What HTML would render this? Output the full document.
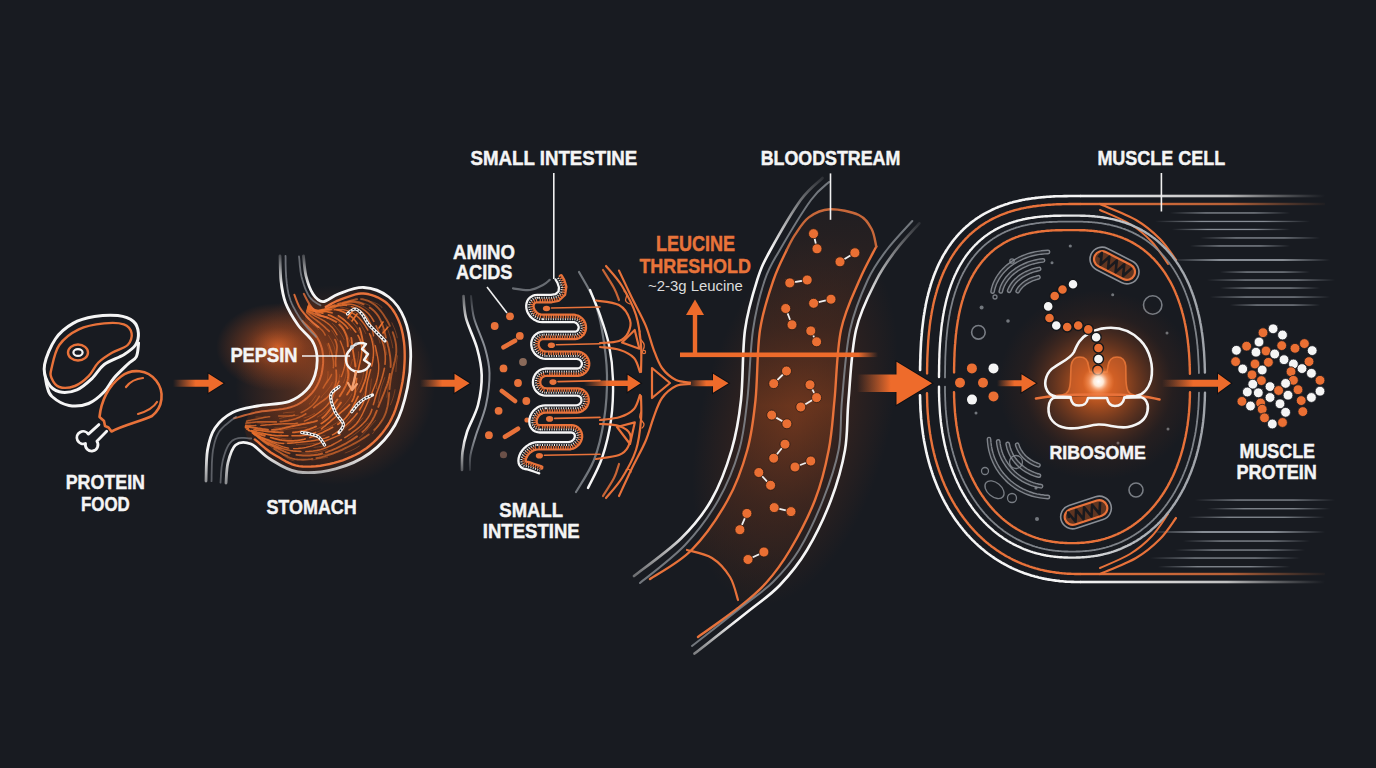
<!DOCTYPE html>
<html><head><meta charset="utf-8"><style>
html,body{margin:0;padding:0;background:#181b21;width:1376px;height:768px;overflow:hidden}
svg{display:block}
</style></head><body>
<svg width="1376" height="768" viewBox="0 0 1376 768">
<defs>
<radialGradient id="gStomach" cx="0.5" cy="0.5" r="0.5">
 <stop offset="0" stop-color="#e8682a" stop-opacity="0.55"/>
 <stop offset="0.45" stop-color="#c4521e" stop-opacity="0.28"/>
 <stop offset="1" stop-color="#c4521e" stop-opacity="0"/>
</radialGradient>
<radialGradient id="gPepsin" cx="0.5" cy="0.5" r="0.5">
 <stop offset="0" stop-color="#f06e2c" stop-opacity="0.85"/>
 <stop offset="0.45" stop-color="#c0501e" stop-opacity="0.45"/>
 <stop offset="1" stop-color="#b44c1e" stop-opacity="0"/>
</radialGradient>
<radialGradient id="gBlood" cx="0.5" cy="0.5" r="0.5">
 <stop offset="0" stop-color="#b04c20" stop-opacity="0.45"/>
 <stop offset="0.5" stop-color="#7a361a" stop-opacity="0.25"/>
 <stop offset="1" stop-color="#7a361a" stop-opacity="0"/>
</radialGradient>
<radialGradient id="gRibo" cx="0.5" cy="0.5" r="0.5">
 <stop offset="0" stop-color="#ff7a30" stop-opacity="0.95"/>
 <stop offset="0.2" stop-color="#e0621f" stop-opacity="0.75"/>
 <stop offset="0.5" stop-color="#a84a1c" stop-opacity="0.4"/>
 <stop offset="0.75" stop-color="#6a3018" stop-opacity="0.15"/>
 <stop offset="1" stop-color="#6a3018" stop-opacity="0"/>
</radialGradient>
<radialGradient id="gCore" cx="0.5" cy="0.5" r="0.5">
 <stop offset="0" stop-color="#ffffff" stop-opacity="1"/>
 <stop offset="0.3" stop-color="#fff0e0" stop-opacity="0.95"/>
 <stop offset="0.6" stop-color="#ffb080" stop-opacity="0.5"/>
 <stop offset="1" stop-color="#ff8a40" stop-opacity="0"/>
</radialGradient>
<linearGradient id="gArrowFade" x1="0" y1="0" x2="1" y2="0">
 <stop offset="0" stop-color="#ee6b2b" stop-opacity="0"/>
 <stop offset="0.45" stop-color="#ee6b2b" stop-opacity="1"/>
 <stop offset="1" stop-color="#ee6b2b" stop-opacity="1"/>
</linearGradient>
</defs>
<rect width="1376" height="768" fill="#181b21"/>
<ellipse cx="278" cy="347" rx="62" ry="44" fill="url(#gPepsin)"/>
<ellipse cx="335" cy="385" rx="100" ry="100" fill="url(#gStomach)"/>
<ellipse cx="795" cy="420" rx="95" ry="190" fill="url(#gBlood)" transform="rotate(14 795 420)"/>
<path d="M208.5 373.8 L223.5 383.3 L208.5 392.8 Z" fill="none" stroke="#0c0d10" stroke-opacity="0.8" stroke-width="2" stroke-linejoin="miter"/><path d="M173 379.8 H208.5 V373.8 L223.5 383.3 L208.5 392.8 V386.8 H173 Z" fill="url(#gArrowFade)"/>
<path d="M454.5 373.8 L469.5 383.3 L454.5 392.8 Z" fill="none" stroke="#0c0d10" stroke-opacity="0.8" stroke-width="2" stroke-linejoin="miter"/><path d="M420 379.8 H454.5 V373.8 L469.5 383.3 L454.5 392.8 V386.8 H420 Z" fill="url(#gArrowFade)"/>
<path d="M44.6 372C45 374.3 45.8 381.9 47 386C48.2 390.1 48.3 393.2 52 396.5C55.7 399.8 62.9 404.3 69 405.5C75.1 406.7 82.7 405.8 88.6 403.5C94.5 401.2 100 396.1 104.2 391.8C108.4 387.6 110 382.6 114 378C118 373.4 124.3 367.6 128 364C131.7 360.4 134.6 360.1 136.4 356.6C138.2 353.1 138.2 345.3 138.6 343" fill="none" stroke="#f5f5f5" stroke-width="3" stroke-linecap="round" stroke-linejoin="round"/>
<path d="M44.6 364.5C45.9 357.3 50.7 345.9 55.4 339C60.1 332.1 66.5 327.1 73 323.4C79.5 319.7 87 317.9 94.5 316.6C102 315.3 111.4 314.8 117.9 315.6C124.4 316.4 130.1 318.6 133.5 321.5C136.9 324.4 138.1 329.3 138.4 333.2C138.7 337.1 137.9 341.4 135.5 345C133.1 348.6 129 351.4 123.8 354.7C118.5 357.9 109.4 360.6 104.2 364.5C99 368.4 97 373.8 92.5 378C88 382.2 82.4 387.5 76.9 389.8C71.4 392.1 64.2 393.1 59.3 391.8C54.4 390.5 50 386.6 47.6 382C45.2 377.4 43.3 371.7 44.6 364.5Z" fill="#181b21" stroke="#f5f5f5" stroke-width="3" stroke-linecap="round" stroke-linejoin="round"/>
<path d="M51.5 368.4C52.8 362.9 54.8 351.5 59.3 345C63.8 338.5 71.3 332.9 78.8 329.3C86.3 325.7 96.7 324.2 104.2 323.4C111.7 322.6 119.2 322.8 123.8 324.4C128.3 326 130.9 329.8 131.6 333.2C132.3 336.6 131 341.8 127.7 345C124.4 348.2 116.9 349.8 112 352.7C107.1 355.6 102.3 358.6 98.4 362.5C94.5 366.4 92.5 372.3 88.6 376.2C84.7 380.1 79.8 384.2 74.9 386C70 387.8 63.2 388.3 59.3 387C55.4 385.7 52.8 381.1 51.5 378C50.2 374.9 50.2 373.9 51.5 368.4Z" fill="none" stroke="#e8723a" stroke-width="2.4" stroke-linecap="round" stroke-linejoin="round"/>
<ellipse cx="78" cy="352.5" rx="10" ry="8" fill="none" stroke="#e8723a" stroke-width="2.4"/>
<ellipse cx="78" cy="352.5" rx="4.6" ry="3.4" fill="none" stroke="#f5f5f5" stroke-width="2.2"/>
<path d="M99.5 417 C101 402 108 386 121 376.5 A24 24 0 1 1 152 416 C142 421 124 425 111.5 431.5 L108.5 427.5 L105 426 L104 421 Z" fill="#181b21" stroke="#e8723a" stroke-width="2.6" stroke-linejoin="round"/>
<path d="M126 387 Q132 379 143 378" fill="none" stroke="#e8723a" stroke-width="2.2" stroke-linecap="round" stroke-linejoin="round"/>
<path d="M138 414 Q152 410 157 402" fill="none" stroke="#e8723a" stroke-width="2.2" stroke-linecap="round" stroke-linejoin="round"/>
<path d="M98.9 424.6 L88.4 434.1 A6.3 6.3 0 1 0 85.5 443.5 A6.3 6.3 0 1 0 96.9 441.25 L106.7 431.2" fill="#181b21" stroke="#f5f5f5" stroke-width="2.8" stroke-linejoin="round" stroke-linecap="round"/>
<defs><clipPath id="stClip"><path d="M312 297C315 293.9 318.5 302.1 323 301.6C327.5 301.1 332 296.1 338.8 293.8C345.5 291.4 355.4 287 363.8 287.5C372.1 288 382 291.8 388.8 297C395.5 302.2 400.8 309.9 404.4 318.8C408 327.6 410.1 338.5 410.6 350C411.1 361.5 410.1 375 407.5 387.5C404.9 400 401.2 414.1 395 425C388.8 435.9 379.9 445.7 370 453C360.1 460.3 347.6 465.6 335.6 468.8C323.6 471.9 308.9 473.6 298 472C287.1 470.4 277.8 463.7 270 459C262.2 454.3 255.2 449.7 251 444C246.8 438.3 243.9 431.3 245 425C246.1 418.7 250.2 409.9 257.5 406C264.8 402.1 280.7 404.2 288.8 401.6C296.8 399 301.6 395 306 390.6C310.4 386.2 313.2 380.8 315 375C316.8 369.2 317.5 361.7 317 356C316.5 350.3 314 346.6 312 340.6C310 334.6 305 327.3 305 320C305 312.7 309 300.1 312 297Z"/></clipPath>
<radialGradient id="gStBody" cx="0.35" cy="0.45" r="0.7">
 <stop offset="0" stop-color="#b84e1c" stop-opacity="0.55"/>
 <stop offset="0.55" stop-color="#6a2e16" stop-opacity="0.35"/>
 <stop offset="1" stop-color="#2a1a16" stop-opacity="0.2"/>
</radialGradient>
<linearGradient id="gEsoL2" gradientUnits="userSpaceOnUse" x1="0" y1="252" x2="0" y2="485">
 <stop offset="0" stop-color="#f5f5f5" stop-opacity="0.15"/>
 <stop offset="0.15" stop-color="#f5f5f5" stop-opacity="1"/>
 <stop offset="0.85" stop-color="#f5f5f5" stop-opacity="1"/>
 <stop offset="1" stop-color="#f5f5f5" stop-opacity="0.5"/>
</linearGradient>
<linearGradient id="gEsoR2" gradientUnits="userSpaceOnUse" x1="0" y1="252" x2="0" y2="485">
 <stop offset="0" stop-color="#f5f5f5" stop-opacity="0.15"/>
 <stop offset="0.15" stop-color="#f5f5f5" stop-opacity="1"/>
 <stop offset="0.85" stop-color="#f5f5f5" stop-opacity="1"/>
 <stop offset="1" stop-color="#f5f5f5" stop-opacity="0.5"/>
</linearGradient>
<linearGradient id="gEsoL" x1="0" y1="0" x2="0" y2="1">
 <stop offset="0" stop-color="#f5f5f5" stop-opacity="0.2"/>
 <stop offset="0.12" stop-color="#f5f5f5" stop-opacity="1"/>
 <stop offset="1" stop-color="#f5f5f5" stop-opacity="1"/>
</linearGradient></defs>
<path d="M312 297C315 293.9 318.5 302.1 323 301.6C327.5 301.1 332 296.1 338.8 293.8C345.5 291.4 355.4 287 363.8 287.5C372.1 288 382 291.8 388.8 297C395.5 302.2 400.8 309.9 404.4 318.8C408 327.6 410.1 338.5 410.6 350C411.1 361.5 410.1 375 407.5 387.5C404.9 400 401.2 414.1 395 425C388.8 435.9 379.9 445.7 370 453C360.1 460.3 347.6 465.6 335.6 468.8C323.6 471.9 308.9 473.6 298 472C287.1 470.4 277.8 463.7 270 459C262.2 454.3 255.2 449.7 251 444C246.8 438.3 243.9 431.3 245 425C246.1 418.7 250.2 409.9 257.5 406C264.8 402.1 280.7 404.2 288.8 401.6C296.8 399 301.6 395 306 390.6C310.4 386.2 313.2 380.8 315 375C316.8 369.2 317.5 361.7 317 356C316.5 350.3 314 346.6 312 340.6C310 334.6 305 327.3 305 320C305 312.7 309 300.1 312 297Z" fill="url(#gStBody)"/>
<g clip-path="url(#stClip)" fill="none" stroke="#e8702e" stroke-linecap="round">
<path d="M305.3 301.2L306.9 303 308.5 304.9 310.2 306.6 312.1 308.2 314.2 309.6 316.4 310.6 318.8 311.3 321.2 311.7 323.7 311.5 326.1 311.1 328.4 310.3 330.7 309.3 332.9 308.1 335.1 306.9 337.3 305.7 339.6 304.7 342 303.9 344.4 303 346.8 302.2 349.1 301.3 351.4 300.5 353.7 299.8 356 299.3 358.3 298.9 360.5 299 362.8 299.3 364.9 299.8 367 300.5 369.1 301.4 371.1 302.5 373.1 303.7 375 305.1 376.9 306.8 378.7 308.6 380.4 310.6 382.1 312.7 383.7 315 385.2 317.4 386.7 319.8 388.1 322.3 389.4 324.8 390.6 327.3 391.8 329.9 392.8 332.4 393.7 335 394.5 337.5 395.1 339.9 395.6 342.4 396 344.7 396.2 347.1 396.3 349.4 396.3 351.6 396.1 353.9 395.8 356.1 395.4 358.2 395 360.4 394.5 362.6 393.9 364.7 393.4 366.9 392.8 369.1 392.3 371.4 391.8 373.6 391.3 375.9 390.9 378.3 390.5 380.7 390.2 383.2 389.9 385.7 389.6 388.2 389.4 390.9 389.1 393.5 388.9 396.2 388.6 398.9 388.3 401.6 387.9 404.3 387.4 406.9 386.7 409.6 386 412.2 385 414.7 383.9 417.2 382.6 419.6 381.2 421.8 379.6 424 377.9 426.1 376.1 428.1 374.1 430 372.1 431.7 370.1 433.4 368 435 365.9 436.5 363.8 437.9 361.7 439.2 359.7 440.5 357.6 441.7 355.6 442.9 353.6 443.9 351.6 445 349.7 446 347.7 447 345.8 447.9 343.8 448.8 341.9 449.8 339.9 450.7 337.8 451.6 335.7 452.4 333.5 453.3 331.3 454.1 328.9 454.9 326.6 455.7 324.1 456.4 321.6 457.1 319 457.7 316.3 458.2 313.7 458.7 311 459.1 308.3 459.4 305.6 459.6 302.9 459.7 300.2 459.6 297.6 459.5 295 459.1 292.5 458.6 290.1 457.8 287.8 456.8 285.6 455.7 283.5 454.6 281.4 453.3 279.4 452 277.3 450.7 275.3 449.4 273.3 448.1 271.2 446.8 269.2 445.5 267.3 444 265.3 442.6 263.4 441.1 261.5 439.6 259.5 438.1 257.6 436.6 255.6 435.1" stroke-width="1.9" stroke-opacity="0.63" stroke-dasharray="58 4 41 7"/>
<path d="M304.3 301L305.9 302.8 307.5 304.6 309.2 306.3 311.1 307.8 313.1 309.1 315.2 310.1 317.3 310.7 319.5 311.1 321.7 310.9 323.8 310.5 325.8 309.7 327.7 308.8 329.6 307.7 331.5 306.6 333.4 305.6 335.5 304.8 337.6 304.2 339.9 303.6 342.1 303.1 344.4 302.5 346.8 302.1 349.3 301.8 351.8 301.6 354.3 301.7 356.8 302.1 359.4 302.7 361.8 303.6 364.2 304.6 366.5 305.7 368.7 306.9 370.8 308.3 372.7 309.7 374.5 311.3 376 313 377.4 314.8 378.7 316.7 379.7 318.7 380.7 320.6 381.5 322.6 382.3 324.6 383 326.6 383.6 328.6 384.2 330.6 384.7 332.6 385.2 334.6 385.7 336.7 386.3 338.8 386.8 340.9 387.4 343 387.9 345.2 388.5 347.4 389 349.7 389.4 352 389.8 354.4 390.2 356.8 390.4 359.3 390.6 361.8 390.7 364.4 390.6 367.1 390.4 369.7 390.1 372.4 389.6 375.1 389.1 377.8 388.4 380.5 387.6 383.2 386.7 385.8 385.7 388.4 384.8 391 383.8 393.5 382.8 396 381.8 398.3 380.9 400.7 379.9 402.9 379 405.1 378.2 407.2 377.4 409.2 376.6 411.2 375.8 413 375 414.9 374.2 416.6 373.3 418.3 372.4 420 371.4 421.6 370.3 423.2 369.1 424.8 367.9 426.4 366.5 428 365 429.6 363.3 431.1 361.6 432.7 359.7 434.3 357.7 435.9 355.5 437.4 353.3 438.9 351 440.4 348.6 441.8 346.1 443.3 343.6 444.6 341.2 445.9 338.7 447.1 336.2 448.3 333.8 449.3 331.5 450.3 329.1 451.2 326.9 452.1 324.6 452.8 322.4 453.4 320.3 454 318.1 454.5 316 454.8 313.9 455.1 311.8 455.3 309.6 455.5 307.4 455.5 305.2 455.5 303 455.5 300.7 455.3 298.3 455.1 296 454.8 293.6 454.4 291.2 453.8 288.8 453.1 286.4 452.3 284.1 451.4 281.8 450.4 279.6 449.4 277.4 448.3 275.2 447.3 273.1 446.3 270.9 445.2 268.8 444.2 266.8 443.1 264.9 441.9 263 440.7 261.2 439.4 259.4 438.1 257.6 436.7 255.8 435.3 253.9 434" stroke-width="1.9" stroke-opacity="0.71" stroke-dasharray="35 4 26 7"/>
<path d="M303.3 300.8L304.8 302.5 306.3 304.3 307.9 305.9 309.6 307.4 311.4 308.7 313.3 309.7 315.3 310.3 317.4 310.7 319.4 310.7 321.4 310.4 323.3 309.8 325.2 309.1 327.1 308.2 328.9 307.4 330.8 306.6 332.9 306 335.1 305.6 337.3 305.2 339.5 304.8 341.8 304.5 344.1 304.2 346.4 304.1 348.7 304.1 351.1 304.2 353.4 304.7 355.6 305.4 357.8 306.3 359.9 307.3 361.9 308.4 363.7 309.6 365.5 310.9 367.1 312.3 368.6 313.8 370 315.4 371.3 317.1 372.4 318.8 373.4 320.6 374.4 322.4 375.3 324.3 376.2 326.1 377 328 377.9 329.9 378.7 331.8 379.4 333.7 380.2 335.7 381 337.7 381.7 339.7 382.4 341.8 383.1 343.9 383.7 346 384.2 348.3 384.6 350.5 385 352.9 385.2 355.3 385.3 357.7 385.3 360.2 385.1 362.7 384.9 365.3 384.5 367.9 383.9 370.5 383.3 373.1 382.6 375.7 381.9 378.3 381 380.9 380.2 383.4 379.3 385.9 378.5 388.4 377.6 390.7 376.8 393.1 376.1 395.3 375.4 397.5 374.8 399.6 374.2 401.7 373.6 403.6 373.1 405.6 372.6 407.4 372 409.2 371.4 410.9 370.8 412.6 370 414.3 369.1 415.9 368.1 417.5 367 419.1 365.8 420.7 364.4 422.2 362.9 423.8 361.3 425.4 359.5 427 357.6 428.6 355.6 430.2 353.5 431.7 351.4 433.3 349.1 434.9 346.9 436.4 344.6 437.8 342.3 439.3 340 440.6 337.8 441.9 335.5 443.1 333.4 444.3 331.2 445.4 329.1 446.3 327.1 447.2 325.1 448 323.1 448.8 321.1 449.4 319.2 449.9 317.2 450.4 315.2 450.7 313.2 451 311.1 451.2 309 451.4 306.8 451.5 304.6 451.5 302.3 451.5 300 451.4 297.6 451.3 295.2 451.1 292.8 450.9 290.3 450.5 287.9 450 285.6 449.5 283.2 448.8 281 448 278.8 447.2 276.7 446.3 274.6 445.4 272.5 444.5 270.5 443.7 268.6 442.8 266.6 441.9 264.7 440.9 262.9 439.9 261.1 438.8 259.3 437.6 257.6 436.5 255.8 435.3 254 434 252.2 432.8" stroke-width="1.6" stroke-opacity="0.78" stroke-dasharray="40 4 38 5"/>
<path d="M302.3 300.5L303.8 302.3 305.2 304 306.8 305.7 308.4 307.2 310.2 308.5 312 309.6 314 310.4 315.9 311 317.8 311.1 319.6 311 321.4 310.7 323 310.1 324.7 309.5 326.3 308.8 327.9 308.1 329.7 307.6 331.5 307.3 333.4 306.9 335.4 306.5 337.4 306.1 339.5 305.7 341.7 305.5 343.9 305.4 346.2 305.4 348.5 305.8 350.8 306.4 353.1 307.2 355.3 308.1 357.4 309.2 359.5 310.4 361.5 311.8 363.3 313.2 365 314.9 366.5 316.7 367.8 318.6 368.9 320.5 369.9 322.6 370.8 324.7 371.5 326.8 372.2 328.9 372.7 331.1 373.1 333.2 373.5 335.3 373.9 337.4 374.2 339.4 374.5 341.4 374.8 343.4 375.2 345.4 375.6 347.3 376 349.2 376.4 351.1 376.8 353 377.2 354.9 377.6 356.8 377.9 358.8 378.2 360.7 378.5 362.8 378.7 364.8 378.7 366.9 378.7 369 378.5 371.2 378.3 373.5 377.8 375.8 377.3 378.1 376.6 380.5 375.9 382.9 375 385.3 374 387.8 373 390.3 372 392.7 371 395.2 369.9 397.6 368.8 400 367.8 402.3 366.8 404.5 365.8 406.7 364.8 408.9 363.9 410.9 363 412.8 362.1 414.7 361.2 416.4 360.2 418 359.3 419.6 358.3 421.1 357.3 422.5 356.2 423.9 355 425.1 353.7 426.4 352.3 427.6 350.8 428.7 349.2 429.8 347.4 430.9 345.5 432 343.6 433.1 341.5 434.1 339.3 435.1 337 436.2 334.7 437.1 332.3 438.1 330 439.1 327.6 440 325.3 441 322.9 441.9 320.7 442.7 318.4 443.6 316.2 444.4 314.1 445.1 312 445.8 310 446.4 308 446.9 306 447.4 304 447.8 302 448.1 300.1 448.3 298.1 448.5 296.1 448.6 294 448.6 291.9 448.5 289.8 448.3 287.7 448 285.5 447.5 283.4 446.9 281.2 446.2 279.1 445.4 277 444.6 274.9 443.7 272.8 442.8 270.8 442 268.7 441.1 266.7 440.2 264.7 439.4 262.8 438.5 260.9 437.6 259.1 436.6 257.3 435.7 255.6 434.7 253.9 433.7 252.2 432.6 250.4 431.6" stroke-width="1.4" stroke-opacity="0.84" stroke-dasharray="49 5 39 10"/>
<path d="M301.3 300.3L302.6 301.9 303.9 303.5 305.3 305 306.7 306.4 308.3 307.7 310 308.8 311.8 309.6 313.6 310.2 315.5 310.5 317.4 310.7 319.2 310.6 320.9 310.4 322.7 310.1 324.4 309.9 326.2 309.6 328 309.5 329.9 309.5 331.8 309.5 333.7 309.5 335.6 309.4 337.5 309.4 339.3 309.4 341.1 309.4 342.9 309.6 344.7 309.9 346.4 310.4 348.1 311 349.8 311.7 351.4 312.5 352.9 313.3 354.5 314.3 356 315.3 357.4 316.5 358.8 317.8 360.2 319.2 361.5 320.7 362.8 322.4 364.1 324.1 365.3 325.9 366.5 327.8 367.7 329.8 368.7 331.9 369.7 334.1 370.6 336.3 371.4 338.6 372 340.9 372.6 343.3 373 345.7 373.3 348.1 373.5 350.5 373.5 352.9 373.4 355.3 373.2 357.7 372.9 360 372.5 362.3 372 364.6 371.4 366.7 370.9 368.9 370.3 370.9 369.7 372.9 369.2 374.9 368.7 376.8 368.2 378.6 367.7 380.4 367.3 382.2 367 383.9 366.7 385.6 366.4 387.3 366.2 389.1 366 390.8 365.7 392.5 365.5 394.3 365.1 396.1 364.7 397.9 364.2 399.8 363.6 401.7 362.9 403.6 362 405.6 361 407.5 359.8 409.5 358.4 411.5 357 413.5 355.4 415.5 353.7 417.4 351.9 419.3 350.1 421.2 348.2 423 346.4 424.8 344.4 426.4 342.6 428 340.7 429.5 338.8 430.9 337 432.1 335.2 433.3 333.5 434.4 331.8 435.3 330.1 436.2 328.5 436.9 326.8 437.5 325.2 438.1 323.5 438.6 321.8 439 320.1 439.4 318.3 439.8 316.5 440.1 314.6 440.4 312.6 440.7 310.5 441 308.4 441.2 306.3 441.5 304 441.7 301.8 442 299.5 442.3 297.1 442.5 294.8 442.8 292.5 443 290.1 443.2 287.8 443.3 285.6 443.4 283.4 443.4 281.2 443.3 279.1 443.1 277.2 442.7 275.2 442.2 273.4 441.7 271.6 441.1 269.8 440.5 268 439.8 266.2 439.1 264.5 438.4 262.7 437.7 260.9 436.9 259.2 436 257.5 435.1 255.7 434.2 254 433.3 252.2 432.3 250.5 431.4 248.7 430.5" stroke-width="1.5" stroke-opacity="0.88" stroke-dasharray="33 4 42 4"/>
<path d="M300.4 300.1L301.7 301.8 302.9 303.4 304.3 305 305.7 306.4 307.2 307.7 308.8 308.8 310.4 309.6 312 310.3 313.6 310.6 315.2 310.8 316.7 310.7 318.1 310.5 319.5 310.3 320.9 310 322.3 309.7 323.9 309.6 325.5 309.5 327.2 309.5 329 309.5 330.8 309.5 332.7 309.5 334.6 309.6 336.6 309.9 338.7 310.2 340.8 310.9 342.8 311.7 344.8 312.6 346.8 313.7 348.7 314.9 350.5 316.1 352.2 317.5 353.7 319 355.1 320.5 356.4 322.2 357.5 323.9 358.4 325.6 359.3 327.4 360 329.2 360.6 331 361.1 332.8 361.5 334.6 361.9 336.3 362.3 338.1 362.6 339.8 362.9 341.6 363.3 343.3 363.6 345 364 346.7 364.4 348.4 364.8 350.2 365.3 351.9 365.7 353.7 366.1 355.6 366.5 357.5 366.8 359.4 367.1 361.4 367.3 363.4 367.4 365.5 367.4 367.6 367.2 369.8 367 372 366.6 374.3 366.1 376.6 365.5 378.9 364.8 381.2 363.9 383.5 363 385.8 362.1 388.1 361.1 390.3 360.1 392.5 359 394.6 358 396.7 357 398.7 356 400.6 355.1 402.5 354.2 404.2 353.4 405.9 352.6 407.5 351.8 409 350.9 410.5 350.1 411.8 349.3 413.1 348.4 414.4 347.5 415.6 346.6 416.8 345.5 418 344.4 419.1 343.1 420.3 341.7 421.4 340.3 422.5 338.7 423.7 337 424.8 335.1 425.9 333.2 427 331.2 428.1 329.1 429.2 326.9 430.3 324.8 431.3 322.6 432.4 320.4 433.4 318.2 434.3 316 435.2 313.9 436 311.9 436.8 309.8 437.5 307.9 438.2 306 438.7 304.1 439.3 302.3 439.7 300.5 440 298.7 440.3 296.9 440.6 295.2 440.7 293.4 440.8 291.5 440.8 289.7 440.8 287.8 440.8 285.8 440.6 283.9 440.4 281.9 440.2 279.8 439.9 277.8 439.4 275.8 438.9 273.8 438.4 271.8 437.8 269.9 437.3 267.9 436.7 266 436.1 264.1 435.6 262.2 435.1 260.4 434.6 258.6 434 256.8 433.4 255.1 432.8 253.5 432.1 251.9 431.5 250.2 430.8 248.6 430 247 429.3" stroke-width="1.7" stroke-opacity="0.90" stroke-dasharray="35 6 25 5"/>
<path d="M299.4 299.9L300.5 301.5 301.6 303 302.8 304.4 304.1 305.8 305.4 307 306.9 308.1 308.4 308.9 310 309.6 311.6 310.1 313.2 310.4 314.7 310.5 316.3 310.6 317.8 310.6 319.3 310.6 320.8 310.7 322.4 310.9 324 311.2 325.6 311.5 327.1 311.8 328.7 312.1 330.3 312.4 331.8 312.8 333.3 313.3 334.9 313.8 336.4 314.6 337.9 315.4 339.3 316.3 340.7 317.3 342.2 318.4 343.6 319.5 345 320.6 346.3 321.8 347.7 323 349 324.3 350.3 325.7 351.6 327.1 352.9 328.5 354.1 330 355.2 331.4 356.4 332.9 357.4 334.5 358.4 336.1 359.2 337.7 359.9 339.4 360.6 341.1 361.1 342.8 361.4 344.7 361.7 346.6 361.8 348.5 361.8 350.5 361.7 352.6 361.4 354.7 361.1 356.8 360.7 359 360.2 361.2 359.7 363.5 359.2 365.7 358.7 368 358.2 370.2 357.8 372.5 357.3 374.7 357 376.8 356.6 379 356.3 381 356.1 383 355.9 384.9 355.7 386.8 355.5 388.6 355.4 390.3 355.2 392 354.9 393.6 354.6 395.1 354.2 396.6 353.7 398 353.1 399.5 352.4 400.8 351.5 402.2 350.5 403.6 349.3 404.9 348 406.2 346.6 407.6 345.1 408.9 343.5 410.3 341.8 411.7 340.1 413.1 338.4 414.6 336.7 416 334.9 417.5 333.2 418.9 331.5 420.3 329.9 421.8 328.3 423.1 326.7 424.5 325.2 425.8 323.7 427 322.3 428.2 320.8 429.3 319.4 430.2 317.9 431.1 316.4 432 314.9 432.7 313.3 433.3 311.7 433.9 310 434.3 308.2 434.7 306.4 435 304.5 435.3 302.5 435.5 300.5 435.6 298.4 435.7 296.3 435.8 294.1 435.8 292 435.8 289.8 435.8 287.6 435.8 285.5 435.8 283.4 435.8 281.3 435.8 279.3 435.7 277.3 435.7 275.4 435.5 273.6 435.3 271.8 435.1 270.1 434.8 268.4 434.5 266.8 434.2 265.1 433.9 263.5 433.6 261.9 433.2 260.2 432.9 258.6 432.5 256.9 432.1 255.2 431.6 253.6 431.1 251.9 430.6 250.3 430 248.6 429.4 246.9 428.8 245.2 428.2" stroke-width="1.6" stroke-opacity="0.90" stroke-dasharray="37 7 24 4"/>
<path d="M298.4 299.7L299.5 301.2 300.7 302.7 301.8 304.1 303 305.5 304.3 306.7 305.6 307.8 307 308.7 308.3 309.5 309.7 310 311 310.5 312.2 310.8 313.4 311 314.5 311.2 315.7 311.3 316.9 311.5 318.1 311.9 319.5 312.3 320.8 312.7 322.3 313.1 323.9 313.5 325.5 314 327.1 314.5 328.9 315.1 330.7 315.7 332.5 316.6 334.3 317.5 336.1 318.5 337.9 319.6 339.6 320.7 341.2 321.9 342.8 323.1 344.2 324.3 345.5 325.6 346.7 327 347.7 328.4 348.5 329.8 349.3 331.2 349.9 332.6 350.4 334 350.8 335.5 351.1 336.9 351.4 338.4 351.6 339.9 351.8 341.4 352 343 352.1 344.6 352.3 346.2 352.5 347.9 352.8 349.7 353.1 351.5 353.4 353.3 353.7 355.2 354 357.2 354.4 359.2 354.7 361.3 355 363.4 355.2 365.5 355.4 367.6 355.5 369.8 355.5 372 355.4 374.1 355.1 376.3 354.7 378.4 354.2 380.4 353.6 382.4 352.9 384.4 352 386.3 351.1 388.1 350.1 389.8 349.1 391.5 348 393.1 347 394.7 345.9 396.2 344.8 397.6 343.8 398.9 342.8 400.2 341.8 401.5 340.9 402.7 340 403.9 339.1 405.1 338.3 406.3 337.4 407.5 336.6 408.6 335.7 409.8 334.9 411 333.9 412.3 332.9 413.5 331.9 414.8 330.7 416 329.4 417.3 328.1 418.6 326.6 419.8 325 421.1 323.3 422.3 321.5 423.4 319.6 424.5 317.6 425.6 315.6 426.6 313.6 427.5 311.5 428.3 309.4 429.1 307.4 429.7 305.4 430.3 303.4 430.8 301.5 431.2 299.6 431.6 297.8 431.9 296 432.1 294.3 432.3 292.6 432.4 290.9 432.4 289.3 432.5 287.7 432.5 286.1 432.5 284.5 432.4 282.8 432.4 281.2 432.3 279.5 432.3 277.7 432.2 275.9 432.2 274.2 432 272.3 431.9 270.5 431.7 268.7 431.5 266.9 431.3 265.1 431.1 263.3 430.9 261.5 430.6 259.7 430.4 257.9 430.2 256.2 430 254.5 429.7 252.9 429.4 251.2 429.1 249.7 428.7 248.1 428.3 246.6 427.9 245.1 427.4 243.5 427" stroke-width="1.8" stroke-opacity="0.88" stroke-dasharray="29 6 24 10"/>
<path d="M297.4 299.5L298.4 300.9 299.5 302.4 300.5 303.8 301.7 305.2 302.9 306.5 304.1 307.7 305.4 308.8 306.7 309.8 307.9 310.6 309.2 311.3 310.3 311.9 311.5 312.4 312.5 312.9 313.6 313.3 314.6 313.7 315.7 314.2 316.9 314.7 318 315.1 319.2 315.5 320.5 315.8 321.8 316.1 323.1 316.4 324.6 316.8 326.1 317.2 327.6 317.8 329.2 318.4 330.8 319.1 332.4 319.9 334.1 320.8 335.7 321.8 337.2 322.9 338.7 324.1 340.1 325.5 341.5 326.9 342.7 328.4 343.8 330.1 344.7 331.8 345.5 333.6 346.2 335.4 346.8 337.3 347.2 339.2 347.5 341.2 347.7 343.1 347.8 345.1 347.8 347 347.7 348.9 347.6 350.8 347.5 352.6 347.4 354.4 347.3 356.2 347.2 357.9 347.2 359.5 347.2 361.1 347.2 362.6 347.3 364.1 347.4 365.6 347.6 367.1 347.8 368.5 347.9 369.9 348.1 371.3 348.2 372.7 348.3 374.2 348.2 375.7 348.1 377.2 347.9 378.7 347.6 380.3 347.1 381.9 346.6 383.6 345.9 385.3 345.1 387 344.1 388.8 343.1 390.7 342 392.5 340.9 394.4 339.6 396.3 338.4 398.1 337.1 399.9 335.8 401.7 334.5 403.5 333.3 405.2 332.1 406.8 330.9 408.3 329.8 409.8 328.7 411.2 327.7 412.5 326.7 413.7 325.7 414.8 324.7 415.9 323.7 416.8 322.7 417.6 321.6 418.4 320.5 419.1 319.2 419.7 317.9 420.3 316.6 420.8 315.1 421.3 313.5 421.8 311.8 422.2 310 422.6 308.2 423 306.3 423.4 304.3 423.7 302.4 424.1 300.4 424.5 298.3 425 296.3 425.4 294.4 425.8 292.4 426.2 290.5 426.7 288.7 427.1 286.9 427.5 285.1 427.9 283.4 428.3 281.8 428.7 280.2 429 278.6 429.3 277 429.5 275.5 429.7 273.9 429.8 272.3 429.9 270.8 429.9 269.2 429.8 267.6 429.7 266 429.5 264.4 429.3 262.8 429.1 261.1 428.8 259.5 428.5 257.8 428.3 256.1 428 254.4 427.8 252.7 427.5 251.1 427.3 249.5 427 247.9 426.8 246.3 426.5 244.8 426.3 243.3 426.1 241.8 425.8" stroke-width="1.9" stroke-opacity="0.84" stroke-dasharray="46 4 24 6"/>
<path d="M296.4 299.3L297.4 300.7 298.2 302 299.1 303.3 300.1 304.6 301 305.8 302 306.9 303 307.9 304.1 308.9 305.1 309.8 306.2 310.5 307.3 311.3 308.4 312 309.5 312.6 310.6 313.3 311.8 314 313.1 314.8 314.4 315.6 315.7 316.4 317.1 317.2 318.6 317.9 320 318.7 321.4 319.4 322.8 320.2 324.2 320.9 325.5 321.8 326.8 322.7 328 323.6 329.1 324.5 330.2 325.4 331.2 326.4 332.1 327.3 333 328.4 333.8 329.4 334.5 330.5 335.2 331.6 335.9 332.8 336.6 334 337.3 335.3 338 336.6 338.7 337.9 339.4 339.3 340.1 340.8 340.8 342.3 341.5 343.9 342.1 345.5 342.8 347.2 343.4 349 343.9 350.8 344.3 352.7 344.7 354.6 345 356.5 345.1 358.5 345.1 360.5 345.1 362.5 344.9 364.5 344.6 366.4 344.1 368.4 343.6 370.3 343 372.1 342.4 373.9 341.7 375.7 340.9 377.4 340.2 379 339.4 380.5 338.7 382 338 383.4 337.4 384.8 336.8 386.1 336.3 387.4 335.8 388.6 335.4 389.8 335 391 334.6 392.1 334.2 393.3 333.8 394.4 333.4 395.6 332.9 396.8 332.3 398 331.7 399.2 330.9 400.4 330 401.7 329 403 327.9 404.3 326.7 405.7 325.4 407 323.9 408.4 322.4 409.8 320.8 411.1 319.1 412.4 317.3 413.7 315.6 414.9 313.8 416.1 312.1 417.2 310.3 418.2 308.6 419.1 307 419.9 305.4 420.7 303.8 421.3 302.3 421.9 300.9 422.4 299.5 422.7 298.1 423.1 296.8 423.3 295.4 423.5 294.1 423.6 292.8 423.7 291.4 423.7 290 423.8 288.5 423.8 287 423.8 285.4 423.8 283.8 423.8 282.1 423.9 280.4 424 278.6 424 276.8 424.2 274.9 424.3 273.1 424.4 271.2 424.6 269.4 424.8 267.6 424.9 265.8 425 264.1 425.2 262.4 425.3 260.8 425.4 259.2 425.4 257.7 425.5 256.2 425.5 254.7 425.6 253.2 425.6 251.7 425.6 250.3 425.5 248.9 425.5 247.4 425.4 246 425.2 244.5 425.1 243.1 425 241.6 424.8 240.1 424.7" stroke-width="1.4" stroke-opacity="0.78" stroke-dasharray="55 7 37 5"/>
<path d="M295.5 299.1L296.3 300.5 297.1 301.8 298 303.2 298.9 304.5 299.9 305.7 300.9 306.9 301.9 308 302.9 309.1 303.9 310 304.9 310.8 305.8 311.6 306.7 312.4 307.5 313.1 308.4 313.8 309.2 314.5 310.1 315.3 310.9 316.1 311.8 316.8 312.8 317.6 313.8 318.4 314.8 319.1 315.9 319.9 317.1 320.8 318.3 321.7 319.6 322.7 320.9 323.8 322.2 324.9 323.6 326.1 325 327.3 326.3 328.6 327.7 329.9 329 331.2 330.2 332.6 331.4 334 332.4 335.4 333.4 336.8 334.3 338.3 335 339.6 335.7 341 336.2 342.4 336.5 343.7 336.8 345 337 346.3 337 347.6 336.9 348.8 336.8 350.1 336.7 351.4 336.5 352.7 336.3 354 336.1 355.3 335.9 356.7 335.8 358.1 335.7 359.5 335.6 361 335.6 362.6 335.7 364.2 335.8 365.9 335.9 367.6 336 369.3 336.2 371.1 336.3 373 336.4 374.8 336.4 376.7 336.3 378.5 336.2 380.4 335.9 382.2 335.5 384 335 385.7 334.4 387.4 333.7 389.1 332.8 390.7 331.9 392.2 330.8 393.6 329.6 394.9 328.4 396.2 327.2 397.4 325.9 398.5 324.6 399.5 323.3 400.5 322 401.4 320.8 402.2 319.6 403.1 318.5 403.9 317.4 404.7 316.4 405.4 315.4 406.2 314.5 407 313.5 407.8 312.6 408.5 311.7 409.3 310.7 410.1 309.7 411 308.7 411.8 307.6 412.6 306.4 413.5 305.1 414.3 303.7 415.1 302.2 415.9 300.7 416.6 299 417.4 297.3 418 295.6 418.7 293.8 419.2 291.9 419.7 290.1 420.2 288.2 420.6 286.4 420.9 284.6 421.2 282.9 421.5 281.1 421.6 279.5 421.8 277.9 421.8 276.3 421.9 274.8 421.9 273.3 421.9 271.9 421.9 270.5 421.9 269.1 421.8 267.7 421.8 266.4 421.8 265 421.8 263.6 421.8 262.2 421.8 260.8 421.8 259.3 421.9 257.8 421.9 256.3 422 254.8 422.2 253.3 422.3 251.7 422.5 250.2 422.6 248.6 422.8 247.1 422.9 245.6 423.1 244.1 423.2 242.6 423.3 241.2 423.4 239.7 423.5 238.3 423.5" stroke-width="1.7" stroke-opacity="0.71" stroke-dasharray="47 10 27 4"/>
<path d="M294.5 298.9L295.2 300.1 296 301.4 296.7 302.6 297.4 303.8 298.1 305 298.9 306.2 299.6 307.4 300.3 308.5 301.1 309.6 301.8 310.7 302.6 311.8 303.4 312.9 304.2 314 305.1 315.1 306 316.2 307 317.4 308.1 318.5 309.2 319.6 310.3 320.7 311.5 321.7 312.8 322.7 314 323.6 315.3 324.5 316.5 325.4 317.7 326.4 318.8 327.2 319.9 328.1 320.8 329 321.8 329.9 322.6 330.8 323.3 331.7 323.9 332.7 324.5 333.6 325 334.7 325.5 335.7 326 336.8 326.4 337.9 326.9 339.1 327.3 340.3 327.8 341.6 328.2 342.9 328.7 344.3 329.3 345.8 329.8 347.3 330.3 348.9 330.9 350.5 331.4 352.2 331.9 353.9 332.4 355.7 332.8 357.5 333.1 359.3 333.4 361.1 333.5 362.8 333.6 364.6 333.5 366.4 333.3 368.1 333.1 369.8 332.6 371.4 332.1 373 331.5 374.5 330.9 375.9 330.1 377.3 329.3 378.6 328.5 379.8 327.7 381 326.9 382.2 326.1 383.3 325.4 384.3 324.7 385.3 324.1 386.4 323.5 387.4 322.9 388.4 322.5 389.4 322 390.4 321.5 391.4 321.1 392.5 320.6 393.6 320.1 394.7 319.6 395.8 318.9 397 318.2 398.2 317.4 399.4 316.5 400.7 315.5 402 314.4 403.2 313.2 404.5 311.9 405.7 310.5 406.9 308.9 408 307.4 409.1 305.7 410.2 304.1 411.1 302.4 412 300.7 412.8 299.1 413.5 297.4 414.1 295.8 414.6 294.3 415 292.8 415.4 291.4 415.7 290.1 415.8 288.8 415.9 287.5 416 286.3 416 285.1 416.1 283.9 416 282.7 416 281.5 416 280.3 416 279 416 277.7 416 276.3 416.1 274.9 416.2 273.4 416.3 271.9 416.4 270.4 416.6 268.8 416.8 267.2 417.1 265.5 417.3 263.9 417.6 262.2 417.9 260.6 418.3 259 418.6 257.5 418.9 255.9 419.2 254.4 419.5 253 419.8 251.5 420.1 250.1 420.4 248.8 420.6 247.4 420.9 246.1 421.1 244.7 421.3 243.4 421.5 242.1 421.6 240.7 421.8 239.4 422 238 422.2 236.6 422.3" stroke-width="1.5" stroke-opacity="0.63" stroke-dasharray="25 7 16 9"/>
<path d="M305.4 302.4L307.5 304.3 309.5 306.2 311.7 307.8 313.9 309.2 316.3 310.3 318.7 310.9 321.1 311.2 323.4 311.2 325.7 310.6 327.8 309.8 329.8 308.7 331.6 307.4 333.4 306.1 335.2 304.9 337.2 303.7 339.3 302.9 341.7 302.4 344.1 301.8 346.7 301.3 349.3 300.9 352 300.5 354.8 300.1 357.6 299.8 360.4 299.7 363.2 299.9 365.9 300.3 368.4 300.8 370.8 301.4 373 302.1 375 302.9 377 303.7 378.8 304.8 380.4 306 382 307.4 383.5 309 384.9 310.8 386.2 312.8 387.6 315 388.9 317.2 390.2 319.7 391.6 322.2 392.8 324.8 394 327.5 395.1 330.3 396 333 396.8 335.8 397.4 338.5 397.9 341.1 398.2 343.7 398.3 346.2 398.3 348.7 398.2 351 397.9 353.3 397.6 355.6 397.3 357.8 396.9 360 396.6 362.3 396.4 364.5 396.2 366.8 396 369.2 395.9 371.6 395.9 374.2 395.9 376.7 395.8 379.4 395.7 382.1 395.5 384.9 395.3 387.6 394.9 390.4 394.3 393.2 393.7 395.9 392.8 398.6 391.9 401.2 390.9 403.7 389.7 406.1 388.6 408.4 387.3 410.6 386.1 412.8 384.9 414.8 383.7 416.8 382.5 418.7 381.3 420.6 380.1 422.4 379 424.3 377.8 426.2 376.6 428.1 375.3 430 373.9 431.9 372.4 433.9 370.8 435.9 369 437.9 367 439.8 364.9 441.8 362.6 443.6 360.3 445.4 357.8 447 355.3 448.5 352.7 449.8 350.2 451 347.7 452 345.3 452.9 343 453.7 340.8 454.4 338.6 455 336.5 455.5 334.4 455.9 332.3 456.3 330.2 456.7 328 457.1 325.8 457.5 323.5 458 321 458.4 318.4 458.9 315.8 459.4 313 459.9 310.1 460.4 307.3 460.8 304.4 461.1 301.5 461.3 298.7 461.3 296 461.2 293.5 460.7 291.1 460 288.8 459 286.7 457.9 284.8 456.5 282.9 455.1 281.1 453.6 279.3 452 277.4 450.4 275.5 448.8 273.5 447.2 271.4 445.7 269.3 444.1 267.1 442.5 264.9 441 262.7 439.5 260.4 438.1 258.1 436.7 255.9 435.4" stroke-width="1" stroke-opacity="0.35" stroke-dasharray="16 18"/>
<path d="M303.6 301.1L305.3 303.2 307.1 305.3 309 307.3 311.2 309 313.6 310.4 316.2 311.4 318.8 312 321.4 312.2 323.9 311.9 326.3 311.2 328.5 310.2 330.4 309 332.2 307.6 333.9 306.2 335.6 304.9 337.4 303.9 339.3 303.2 341.3 302.5 343.3 301.9 345.4 301.3 347.7 301 350 300.7 352.6 300.7 355.2 300.8 357.9 301.4 360.6 302.1 363.3 303 365.9 304 368.4 305 370.8 306.1 373 307.2 375.1 308.4 376.9 309.7 378.4 311.1 379.8 312.6 381 314.2 382 315.9 383 317.7 383.9 319.6 384.7 321.5 385.6 323.6 386.4 325.9 387.3 328.2 388.2 330.7 389 333.2 389.9 335.8 390.7 338.5 391.4 341.2 392.1 343.9 392.6 346.7 393 349.4 393.2 352 393.2 354.6 393.1 357.1 392.9 359.5 392.5 361.8 392.1 364.1 391.6 366.3 391 368.5 390.5 370.6 390 372.7 389.6 374.8 389.2 377 388.9 379.2 388.6 381.4 388.4 383.8 388.1 386.2 387.9 388.6 387.7 391.2 387.4 393.7 387 396.4 386.5 399 385.9 401.7 385 404.3 384.1 406.8 383 409.3 381.7 411.7 380.4 414 378.9 416.1 377.4 418.2 375.8 420.1 374.3 421.9 372.7 423.6 371.3 425.3 369.8 426.9 368.4 428.4 367 430 365.7 431.5 364.3 433 362.8 434.6 361.3 436.2 359.7 437.8 357.9 439.4 355.9 441 353.9 442.6 351.6 444.2 349.3 445.7 346.8 447.1 344.2 448.4 341.6 449.6 339 450.7 336.5 451.6 334 452.5 331.5 453.2 329.2 453.7 326.9 454.1 324.7 454.5 322.6 454.7 320.6 454.9 318.5 455 316.5 455.2 314.4 455.3 312.2 455.4 309.9 455.5 307.6 455.7 305.1 455.9 302.5 456 299.8 456.2 297.1 456.3 294.3 456.3 291.6 456.1 288.9 455.7 286.3 455.2 283.9 454.5 281.6 453.6 279.5 452.6 277.5 451.5 275.6 450.3 273.7 449 272 447.7 270.2 446.2 268.6 444.7 266.9 443.1 265.2 441.4 263.4 439.7 261.6 438 259.7 436.4 257.7 434.8 255.5 433.4" stroke-width="1" stroke-opacity="0.35" stroke-dasharray="24 26"/>
<path d="M303.7 299.7L304.9 301.5 306.1 303.4 307.5 305.3 309.1 307 311 308.6 313.1 309.9 315.4 310.9 317.9 311.6 320.4 311.9 322.9 311.7 325.3 311.3 327.6 310.6 329.7 309.6 331.8 308.6 333.9 307.6 335.9 306.7 337.9 305.9 339.8 305.1 341.6 304.3 343.4 303.5 345.2 302.8 347.1 302.3 349 302 351 301.9 353.2 302.2 355.4 302.9 357.6 303.7 360 304.8 362.4 306 364.8 307.3 367.1 308.8 369.4 310.4 371.6 312.1 373.5 313.9 375.3 315.7 376.9 317.6 378.2 319.5 379.3 321.4 380.2 323.2 381 325.1 381.6 327 382 328.9 382.4 330.8 382.8 332.7 383.1 334.8 383.5 336.9 383.8 339.1 384.3 341.4 384.7 343.7 385.2 346.2 385.7 348.7 386.2 351.3 386.6 353.9 387 356.6 387.2 359.3 387.4 361.9 387.3 364.5 387.2 367 386.9 369.5 386.4 371.9 385.8 374.2 385.2 376.4 384.4 378.6 383.7 380.6 382.9 382.7 382.2 384.6 381.5 386.6 381 388.6 380.4 390.6 380 392.7 379.6 394.8 379.2 397 378.9 399.2 378.4 401.6 377.9 403.9 377.3 406.3 376.6 408.8 375.6 411.2 374.5 413.6 373.3 415.9 371.8 418.1 370.2 420.3 368.5 422.3 366.7 424.2 364.8 426 363 427.7 361.2 429.3 359.4 430.7 357.7 432 356 433.3 354.4 434.5 352.8 435.7 351.3 436.8 349.7 437.9 348 439 346.3 440.1 344.5 441.2 342.6 442.4 340.6 443.5 338.4 444.7 336.1 445.8 333.6 447 331.1 448 328.5 449 325.9 450 323.3 450.8 320.7 451.5 318.2 452.1 315.8 452.6 313.5 452.9 311.2 453.1 309.1 453.2 307 453.2 305 453.1 303 453 301 452.8 299 452.5 296.9 452.3 294.7 452 292.5 451.6 290.1 451.2 287.8 450.7 285.3 450.1 282.9 449.5 280.4 448.9 278 448.2 275.6 447.5 273.3 446.8 271 446.1 268.9 445.3 266.8 444.4 265 443.4 263.2 442.2 261.6 440.9 260.1 439.5 258.6 438 257.1 436.5 255.6 434.9 254 433.3" stroke-width="1" stroke-opacity="0.35" stroke-dasharray="26 23"/>
<path d="M301.6 300.8L303.2 302.9 304.9 304.8 306.7 306.7 308.7 308.3 310.8 309.7 313.1 310.7 315.4 311.3 317.7 311.7 319.9 311.6 322 311.2 323.8 310.5 325.5 309.6 327 308.6 328.5 307.7 330 306.8 331.5 306.2 333.2 305.8 334.9 305.4 336.7 305.1 338.6 305 340.7 304.9 342.9 304.9 345.2 305.1 347.6 305.5 350.1 306.1 352.6 306.9 355.1 307.9 357.4 308.8 359.7 309.9 361.8 310.9 363.7 312 365.5 313.2 367 314.4 368.4 315.7 369.6 317.1 370.6 318.5 371.5 320.1 372.3 321.7 373.1 323.5 373.9 325.4 374.7 327.4 375.5 329.5 376.3 331.7 377.2 334 378 336.4 378.8 338.9 379.6 341.4 380.2 343.9 380.8 346.5 381.3 349 381.6 351.5 381.7 353.9 381.7 356.3 381.6 358.6 381.3 360.8 380.9 362.9 380.4 364.9 379.9 366.9 379.4 368.9 378.9 370.8 378.4 372.8 378 374.7 377.6 376.7 377.4 378.7 377.1 380.9 376.9 383 376.7 385.3 376.5 387.6 376.3 390 376 392.4 375.6 394.8 375 397.3 374.3 399.7 373.4 402.1 372.5 404.5 371.3 406.7 370.1 408.9 368.7 410.9 367.3 412.8 365.8 414.7 364.3 416.3 362.9 417.9 361.4 419.5 360.1 420.9 358.8 422.4 357.5 423.7 356.2 425.1 355 426.5 353.7 427.9 352.3 429.4 350.9 430.9 349.3 432.4 347.6 433.9 345.8 435.4 343.8 436.8 341.6 438.3 339.4 439.6 337 440.9 334.6 442.1 332.2 443.1 329.8 444.1 327.4 444.9 325.1 445.6 322.8 446.1 320.7 446.6 318.6 446.9 316.7 447.1 314.8 447.3 312.9 447.4 311 447.5 309.1 447.6 307.2 447.7 305.2 447.8 303 448 300.8 448.2 298.5 448.4 296 448.6 293.5 448.8 290.9 449 288.3 449.1 285.8 449.1 283.3 448.9 280.9 448.5 278.7 448 276.6 447.3 274.6 446.6 272.7 445.7 271 444.7 269.3 443.6 267.7 442.5 266.1 441.3 264.5 440 263 438.7 261.3 437.3 259.6 436 257.9 434.6 256 433.4 254 432.1 251.9 431" stroke-width="1" stroke-opacity="0.35" stroke-dasharray="13 33"/>
<path d="M300.6 300.4L302.1 302.4 303.6 304.3 305.3 306.2 307.1 307.8 309.2 309.3 311.3 310.3 313.5 311.1 315.7 311.6 317.8 311.6 319.8 311.4 321.6 310.9 323.2 310.2 324.7 309.4 326 308.6 327.4 307.9 328.8 307.4 330.3 307.1 331.9 306.9 333.5 306.7 335.3 306.6 337.2 306.6 339.2 306.8 341.3 307.1 343.6 307.5 346 308.2 348.3 309.1 350.7 310.1 352.9 311.2 355.1 312.2 357.2 313.4 359.1 314.5 360.8 315.7 362.3 316.9 363.6 318.2 364.7 319.5 365.7 321 366.5 322.5 367.3 324 368 325.7 368.6 327.4 369.3 329.3 370 331.3 370.8 333.3 371.5 335.5 372.2 337.8 373 340.1 373.7 342.6 374.4 345 375 347.5 375.5 349.9 375.8 352.4 376 354.7 376 357.1 375.9 359.3 375.7 361.5 375.3 363.5 374.8 365.5 374.3 367.5 373.8 369.4 373.2 371.2 372.7 373.1 372.2 374.9 371.8 376.8 371.5 378.7 371.2 380.6 371 382.7 370.8 384.8 370.6 386.9 370.3 389.2 370 391.5 369.7 393.8 369.2 396.1 368.5 398.5 367.7 400.8 366.8 403.1 365.7 405.3 364.5 407.4 363.2 409.4 361.7 411.2 360.3 413 358.8 414.7 357.3 416.2 355.8 417.7 354.5 419 353.1 420.4 351.8 421.7 350.6 422.9 349.4 424.2 348.1 425.5 346.8 426.8 345.5 428.1 344 429.5 342.4 430.9 340.7 432.3 338.8 433.7 336.8 435 334.7 436.3 332.4 437.5 330.1 438.7 327.7 439.8 325.4 440.7 323 441.5 320.7 442.2 318.5 442.7 316.4 443.2 314.4 443.5 312.5 443.7 310.6 443.9 308.8 444 307 444 305.2 444.1 303.4 444.1 301.5 444.2 299.5 444.3 297.4 444.4 295.2 444.6 292.9 444.8 290.5 445 288.1 445.1 285.6 445.3 283.1 445.3 280.7 445.2 278.4 444.9 276.1 444.6 274.1 444.1 272.1 443.5 270.3 442.8 268.5 442 266.9 441.1 265.3 440.1 263.8 439.1 262.3 438 260.8 436.8 259.3 435.6 257.7 434.3 256 433.1 254.2 432 252.4 430.9 250.4 429.9" stroke-width="1" stroke-opacity="0.35" stroke-dasharray="21 24"/>
<path d="M301.1 301.4L302.7 302.9 304.3 304.3 305.9 305.6 307.4 306.8 309 307.8 310.5 308.5 312 309.1 313.5 309.5 314.9 309.6 316.3 309.6 317.6 309.5 318.9 309.4 320.2 309.2 321.6 309.1 323.2 309 324.9 309.2 326.8 309.5 328.8 309.8 330.8 310 333 310.2 335.2 310.4 337.4 310.6 339.5 310.8 341.6 311 343.6 311.4 345.5 311.9 347.2 312.4 348.9 313 350.4 313.6 351.8 314.4 353.1 315.2 354.3 316.2 355.6 317.4 356.7 318.7 357.9 320.2 359.1 321.9 360.3 323.8 361.5 325.7 362.7 327.8 363.9 329.9 365 332.2 366.1 334.4 367 336.7 367.8 339 368.5 341.2 369 343.4 369.3 345.5 369.5 347.6 369.5 349.6 369.4 351.5 369.2 353.3 368.9 355.1 368.6 356.9 368.3 358.7 368 360.5 367.8 362.3 367.6 364.1 367.5 366 367.5 368 367.5 370.1 367.6 372.2 367.6 374.4 367.6 376.7 367.5 379 367.3 381.3 367 383.6 366.6 385.9 366 388.2 365.3 390.4 364.4 392.6 363.5 394.6 362.5 396.6 361.4 398.4 360.3 400.2 359.2 401.9 358.1 403.5 357 405 356 406.5 355 408 354.1 409.5 353.2 410.9 352.3 412.4 351.4 414 350.4 415.5 349.4 417.2 348.2 418.8 346.9 420.5 345.5 422.2 343.9 423.8 342.2 425.5 340.3 427 338.4 428.6 336.3 430 334.2 431.2 332.1 432.4 330 433.4 327.9 434.3 325.9 435 324 435.6 322.1 436.1 320.4 436.5 318.7 436.9 317 437.2 315.4 437.5 313.7 437.8 312 438.1 310.3 438.4 308.4 438.8 306.4 439.2 304.3 439.7 302.1 440.2 299.9 440.7 297.5 441.2 295.1 441.7 292.6 442.2 290.2 442.6 287.9 442.9 285.6 443.1 283.4 443.2 281.3 443.1 279.4 442.8 277.6 442.4 275.9 441.7 274.3 441 272.7 440.1 271.2 439.2 269.7 438.3 268.1 437.4 266.4 436.5 264.7 435.7 262.8 435 260.9 434.2 258.9 433.5 256.8 432.9 254.8 432.3 252.7 431.7 250.7 431.2 248.7 430.7 246.8 430.2" stroke-width="1" stroke-opacity="0.35" stroke-dasharray="12 21"/>
<path d="M300.9 299.4L301.9 300.7 302.8 302.1 303.7 303.5 304.7 304.9 305.8 306.2 307 307.4 308.4 308.5 309.9 309.5 311.5 310.2 313.1 310.8 314.9 311.3 316.6 311.6 318.4 311.7 320.2 311.8 322 311.9 323.9 312 325.7 312 327.5 312 329.2 312 330.8 311.8 332.4 311.6 333.9 311.5 335.3 311.4 336.8 311.5 338.2 311.8 339.6 312.3 341.1 312.9 342.6 313.8 344.2 314.8 345.8 316 347.5 317.3 349.2 318.8 350.9 320.4 352.5 322.2 354.1 324 355.6 325.9 357 327.8 358.2 329.8 359.2 331.7 360.1 333.5 360.8 335.3 361.3 337.1 361.6 338.8 361.8 340.5 361.9 342.2 361.9 343.8 361.9 345.4 361.9 347.1 361.9 348.8 362 350.6 362.1 352.5 362.3 354.4 362.5 356.4 362.8 358.5 363 360.7 363.3 362.9 363.5 365.2 363.7 367.4 363.7 369.7 363.6 372 363.3 374.2 363 376.4 362.4 378.5 361.8 380.5 361 382.4 360.2 384.2 359.3 385.9 358.4 387.6 357.6 389.2 356.7 390.8 356 392.4 355.3 393.9 354.7 395.5 354.1 397.1 353.6 398.7 353.1 400.5 352.5 402.2 351.9 404 351.2 405.9 350.3 407.7 349.3 409.6 348.2 411.5 346.9 413.3 345.4 415.1 343.8 416.9 342.1 418.5 340.4 420 338.6 421.4 336.7 422.7 334.9 423.9 333.2 424.9 331.5 425.8 329.8 426.7 328.3 427.4 326.8 428.1 325.3 428.7 323.9 429.3 322.4 429.9 320.9 430.5 319.4 431.1 317.7 431.8 316 432.4 314.1 433.2 312.1 433.9 310 434.7 307.9 435.4 305.6 436.1 303.3 436.8 301 437.4 298.7 438 296.5 438.4 294.3 438.7 292.2 439 290.3 439.1 288.4 439.1 286.7 439 285 438.8 283.3 438.6 281.7 438.2 280.1 437.9 278.4 437.4 276.8 436.9 275 436.4 273.2 435.9 271.3 435.5 269.3 435.1 267.3 434.7 265.2 434.4 263 434.2 260.9 434 258.8 433.8 256.8 433.6 254.9 433.3 253.2 432.9 251.5 432.4 250 431.9 248.6 431.2 247.3 430.5 245.9 429.7" stroke-width="1" stroke-opacity="0.35" stroke-dasharray="29 26"/>
<path d="M298.3 300.9L299.8 302.5 301.2 304 302.8 305.5 304.3 306.7 305.9 307.8 307.4 308.7 308.9 309.3 310.3 309.8 311.6 310.1 312.8 310.3 313.9 310.3 314.9 310.3 315.9 310.3 316.8 310.3 317.9 310.5 319.1 310.9 320.5 311.3 322 311.9 323.7 312.4 325.4 313 327.3 313.5 329.3 314.1 331.3 314.7 333.3 315.3 335.2 316.1 337.1 316.9 338.9 317.7 340.6 318.5 342.1 319.3 343.4 320.1 344.6 320.9 345.7 321.9 346.7 322.9 347.5 324 348.3 325.2 349.1 326.6 349.9 328.1 350.7 329.7 351.6 331.4 352.5 333.2 353.4 335.1 354.3 337.2 355.1 339.3 356 341.4 356.7 343.6 357.4 345.7 357.9 347.9 358.3 349.9 358.5 352 358.6 353.9 358.5 355.8 358.3 357.6 358 359.3 357.6 361 357.2 362.6 356.8 364.2 356.4 365.8 356 367.4 355.7 369 355.5 370.7 355.3 372.4 355.2 374.2 355.1 376.1 355.1 378 355 380 354.8 382 354.6 384.1 354.3 386.2 353.8 388.4 353.3 390.4 352.5 392.5 351.7 394.4 350.7 396.3 349.6 398.1 348.4 399.8 347.2 401.4 346 402.9 344.8 404.3 343.6 405.6 342.4 406.9 341.3 408.1 340.3 409.2 339.3 410.4 338.3 411.6 337.4 412.8 336.4 414.1 335.4 415.4 334.3 416.7 333 418 331.7 419.4 330.2 420.8 328.6 422.2 326.8 423.5 324.9 424.8 322.9 426 320.9 427 318.8 428 316.8 428.9 314.7 429.6 312.8 430.2 310.9 430.6 309.2 431 307.5 431.2 305.9 431.4 304.3 431.5 302.8 431.6 301.3 431.7 299.8 431.8 298.2 432 296.6 432.2 294.8 432.4 293 432.7 291 433 288.9 433.4 286.7 433.8 284.5 434.2 282.3 434.6 280 435 277.8 435.3 275.7 435.5 273.7 435.6 271.8 435.5 270 435.3 268.4 435 266.9 434.5 265.4 434 264.1 433.3 262.7 432.7 261.3 432 259.9 431.3 258.4 430.7 256.9 430.1 255.2 429.4 253.5 428.9 251.7 428.4 249.8 427.9 247.9 427.5 245.9 427.2 244 427" stroke-width="1" stroke-opacity="0.35" stroke-dasharray="20 23"/>
<path d="M297.4 300.7L298.7 302.2 300.1 303.7 301.6 305.1 303 306.3 304.4 307.4 305.8 308.3 307.1 309 308.4 309.6 309.5 310 310.6 310.2 311.5 310.5 312.4 310.7 313.3 310.9 314.1 311.1 315.1 311.5 316.2 312 317.5 312.7 318.9 313.4 320.4 314.1 322.1 314.8 323.9 315.5 325.7 316.2 327.6 316.9 329.5 317.6 331.3 318.4 333.1 319.2 334.7 320 336.2 320.8 337.6 321.6 338.8 322.5 339.9 323.3 340.9 324.2 341.7 325.2 342.5 326.3 343.3 327.5 344 328.8 344.7 330.2 345.5 331.8 346.3 333.4 347.1 335.2 348 337.1 348.8 339 349.7 341 350.5 343.1 351.2 345.2 351.8 347.2 352.3 349.3 352.6 351.3 352.8 353.2 352.9 355 352.8 356.8 352.6 358.5 352.2 360.1 351.8 361.7 351.4 363.2 351 364.7 350.6 366.2 350.2 367.7 349.9 369.3 349.7 370.8 349.6 372.5 349.5 374.2 349.4 376 349.3 377.8 349.2 379.7 349.1 381.7 348.9 383.7 348.5 385.7 348.1 387.7 347.5 389.7 346.7 391.7 345.9 393.5 344.9 395.3 343.8 397 342.6 398.6 341.4 400.1 340.2 401.4 339 402.7 337.8 403.9 336.7 405.1 335.6 406.2 334.6 407.3 333.7 408.4 332.8 409.5 331.9 410.6 330.9 411.8 330 413 328.9 414.3 327.7 415.5 326.4 416.9 324.9 418.2 323.3 419.5 321.6 420.7 319.8 421.9 317.9 423 315.9 424 313.9 424.9 311.9 425.7 310 426.3 308.1 426.9 306.3 427.3 304.7 427.5 303.1 427.7 301.6 427.9 300.1 428 298.7 428 297.3 428.1 295.8 428.2 294.3 428.3 292.8 428.5 291.1 428.7 289.3 429 287.4 429.3 285.4 429.7 283.3 430.1 281.2 430.5 279 430.9 276.9 431.3 274.8 431.7 272.8 431.9 270.8 432 269 432 267.4 431.9 265.8 431.7 264.4 431.3 263 430.9 261.7 430.4 260.4 429.9 259.1 429.3 257.7 428.8 256.3 428.3 254.8 427.8 253.2 427.3 251.5 426.9 249.8 426.6 247.9 426.3 246 426.1 244.1 426 242.2 425.9" stroke-width="1" stroke-opacity="0.35" stroke-dasharray="27 17"/>
<path d="M298 299L298.8 300.1 299.5 301.3 300.2 302.5 300.8 303.7 301.5 305 302.3 306.2 303.2 307.4 304.2 308.6 305.3 309.7 306.5 310.7 307.8 311.7 309.2 312.5 310.6 313.3 312 314.1 313.5 314.7 315 315.4 316.5 316 318 316.5 319.4 317 320.7 317.3 322 317.6 323.2 317.8 324.3 318.1 325.4 318.4 326.5 318.9 327.6 319.5 328.6 320.2 329.7 321 330.9 322 332.1 323.1 333.4 324.4 334.7 325.8 336.1 327.3 337.4 329 338.8 330.7 340 332.4 341.2 334.2 342.3 336 343.2 337.7 344 339.4 344.5 341 345 342.6 345.2 344.1 345.4 345.6 345.4 347 345.3 348.4 345.2 349.8 345.1 351.2 345 352.6 344.9 354.1 344.9 355.6 345 357.2 345.2 358.9 345.4 360.6 345.6 362.5 345.8 364.4 346 366.4 346.2 368.4 346.2 370.4 346.2 372.4 346 374.3 345.7 376.3 345.2 378.1 344.6 379.9 343.9 381.6 343 383.2 342.2 384.7 341.3 386.1 340.4 387.5 339.5 388.8 338.7 390 338 391.3 337.3 392.6 336.7 393.8 336.1 395.1 335.6 396.5 335 397.9 334.5 399.3 333.8 400.8 333.1 402.4 332.2 403.9 331.2 405.5 330 407.1 328.7 408.6 327.3 410.1 325.8 411.5 324.2 412.8 322.5 414.1 320.8 415.2 319.1 416.1 317.5 417 315.9 417.7 314.4 418.4 312.9 418.9 311.6 419.4 310.3 419.8 309 420.2 307.8 420.6 306.5 420.9 305.2 421.3 303.9 421.8 302.4 422.2 300.9 422.8 299.2 423.3 297.4 423.9 295.5 424.5 293.5 425.1 291.5 425.7 289.4 426.2 287.4 426.7 285.4 427.2 283.5 427.5 281.6 427.7 279.9 427.9 278.2 427.9 276.7 427.9 275.2 427.8 273.8 427.6 272.5 427.4 271.1 427.1 269.8 426.9 268.4 426.6 266.9 426.3 265.4 426.1 263.8 425.9 262.1 425.9 260.2 425.8 258.4 425.9 256.5 426 254.5 426.2 252.6 426.4 250.7 426.6 249 426.8 247.3 426.9 245.8 426.9 244.3 426.9 243 426.8 241.7 426.6 240.5 426.4" stroke-width="1" stroke-opacity="0.35" stroke-dasharray="20 24"/>
<path d="M297 299.7L298 300.8 298.9 301.8 299.7 302.9 300.4 303.9 301.1 304.9 301.7 305.9 302.4 306.9 303 307.9 303.8 308.9 304.5 309.9 305.4 310.9 306.3 311.9 307.4 312.9 308.5 314 309.8 315 311.1 316 312.6 317 314.1 317.9 315.6 318.8 317 319.5 318.5 320.1 319.9 320.7 321.1 321.2 322.3 321.6 323.4 322.2 324.5 322.7 325.4 323.3 326.3 324 327.2 324.8 328 325.7 328.9 326.7 329.8 327.8 330.8 329.1 331.8 330.5 332.9 332 333.9 333.7 335 335.4 336.1 337.2 337.1 338.9 338 340.7 338.8 342.5 339.5 344.3 340 346 340.4 347.6 340.6 349.1 340.6 350.6 340.6 352.1 340.4 353.4 340.2 354.8 339.9 356.1 339.7 357.4 339.4 358.7 339.3 360.1 339.2 361.5 339.1 363 339.2 364.6 339.3 366.2 339.4 367.9 339.5 369.7 339.6 371.6 339.7 373.5 339.6 375.4 339.4 377.2 339.1 379.1 338.6 380.9 338 382.7 337.3 384.3 336.5 385.9 335.5 387.4 334.6 388.8 333.6 390.1 332.6 391.3 331.6 392.5 330.7 393.6 329.9 394.7 329.1 395.8 328.4 396.9 327.7 398 327.1 399.1 326.4 400.3 325.7 401.5 325 402.8 324.1 404.2 323.2 405.6 322.1 406.9 320.9 408.3 319.5 409.7 318 411 316.4 412.2 314.7 413.3 313 414.4 311.3 415.3 309.6 416.1 307.9 416.7 306.3 417.3 304.8 417.7 303.4 418.1 302.1 418.3 300.8 418.5 299.6 418.7 298.4 418.9 297.2 419.1 295.9 419.3 294.6 419.5 293.2 419.9 291.7 420.2 290 420.6 288.3 421.1 286.5 421.6 284.6 422.1 282.6 422.6 280.6 423.1 278.7 423.5 276.8 423.9 274.9 424.2 273.2 424.4 271.5 424.6 270 424.6 268.6 424.6 267.2 424.5 266 424.3 264.7 424 263.5 423.8 262.3 423.5 261 423.3 259.7 423.1 258.2 422.9 256.7 422.9 255 422.9 253.3 423 251.5 423.2 249.6 423.4 247.8 423.7 246 424 244.2 424.3 242.5 424.6 240.9 424.8 239.5 425 238.1 425.2" stroke-width="1" stroke-opacity="0.35" stroke-dasharray="12 35"/>
<path d="M295.9 299.7L296.9 300.7 297.7 301.7 298.5 302.7 299.2 303.7 299.8 304.7 300.3 305.7 300.8 306.7 301.4 307.7 301.9 308.8 302.5 309.9 303.2 311 303.9 312.1 304.8 313.3 305.7 314.5 306.8 315.7 308 317 309.3 318.2 310.7 319.3 312.1 320.3 313.5 321.2 314.9 322.1 316.2 322.8 317.4 323.4 318.6 324.1 319.6 324.7 320.5 325.3 321.4 325.9 322.2 326.6 322.9 327.3 323.6 328.2 324.4 329.1 325.1 330.2 326 331.4 326.8 332.8 327.7 334.2 328.7 335.7 329.6 337.4 330.6 339 331.6 340.8 332.5 342.5 333.3 344.2 333.9 345.9 334.5 347.6 334.8 349.2 335.1 350.7 335.2 352.2 335.1 353.6 334.9 354.9 334.7 356.1 334.4 357.4 334.1 358.6 333.8 359.8 333.6 361.1 333.4 362.4 333.3 363.7 333.3 365.2 333.4 366.7 333.4 368.2 333.5 369.9 333.6 371.6 333.7 373.4 333.7 375.1 333.5 376.9 333.3 378.7 332.9 380.5 332.3 382.2 331.7 383.8 330.9 385.3 330 386.8 329 388.1 328 389.4 327 390.6 326 391.7 325 392.7 324.1 393.7 323.3 394.6 322.5 395.6 321.8 396.6 321.2 397.6 320.5 398.6 319.8 399.7 319.1 400.8 318.3 402 317.5 403.3 316.5 404.6 315.4 405.8 314.1 407.1 312.7 408.3 311.2 409.5 309.6 410.6 308 411.6 306.3 412.5 304.6 413.3 303 413.9 301.4 414.4 299.9 414.8 298.5 415.1 297.2 415.4 295.9 415.5 294.7 415.7 293.6 415.7 292.5 415.8 291.3 416 290.1 416.1 288.8 416.3 287.5 416.6 286 416.9 284.4 417.3 282.7 417.7 280.9 418.2 279.1 418.7 277.2 419.2 275.3 419.6 273.5 420 271.7 420.3 270 420.6 268.3 420.8 266.8 420.9 265.4 421 264.1 421 262.9 420.9 261.8 420.8 260.6 420.6 259.5 420.4 258.3 420.3 257.1 420.2 255.8 420.1 254.4 420.1 252.8 420.2 251.2 420.4 249.5 420.7 247.8 421 246 421.4 244.2 421.8 242.4 422.3 240.8 422.7 239.2 423.2 237.7 423.6 236.3 423.9" stroke-width="1" stroke-opacity="0.35" stroke-dasharray="19 30"/>
<path d="M295 299.4L295.9 300.4 296.6 301.3 297.2 302.3 297.8 303.3 298.2 304.2 298.6 305.3 299 306.3 299.4 307.5 299.8 308.7 300.3 309.9 300.8 311.3 301.5 312.6 302.2 314 303.1 315.4 304.1 316.8 305.2 318.2 306.4 319.6 307.6 320.8 308.9 322 310.2 323 311.4 323.9 312.6 324.8 313.7 325.5 314.7 326.2 315.6 326.9 316.4 327.5 317.1 328.2 317.8 328.9 318.4 329.7 319 330.6 319.7 331.5 320.3 332.6 321.1 333.8 321.9 335.1 322.7 336.5 323.6 338 324.5 339.6 325.4 341.2 326.3 342.9 327.2 344.5 327.9 346.2 328.5 347.8 329 349.3 329.3 350.8 329.5 352.2 329.5 353.6 329.4 354.9 329.2 356.1 328.9 357.3 328.6 358.4 328.3 359.5 328.1 360.7 327.8 361.8 327.7 363.1 327.6 364.3 327.6 365.7 327.7 367.1 327.7 368.6 327.9 370.2 328 371.9 328 373.5 328 375.2 327.8 376.9 327.5 378.6 327.1 380.3 326.5 381.9 325.8 383.4 325 384.8 324.1 386.1 323.1 387.4 322.1 388.5 321.1 389.5 320.2 390.5 319.2 391.5 318.4 392.3 317.6 393.2 316.8 394.1 316.2 395 315.5 395.9 314.9 396.9 314.2 397.9 313.5 398.9 312.8 400.1 311.9 401.3 310.9 402.5 309.8 403.7 308.6 404.8 307.2 406 305.8 407.1 304.2 408.1 302.6 409 301 409.7 299.4 410.4 297.8 411 296.3 411.4 294.9 411.7 293.6 412 292.4 412.1 291.3 412.2 290.2 412.3 289.1 412.3 288.1 412.4 287 412.5 285.8 412.6 284.6 412.8 283.3 413.1 281.9 413.4 280.4 413.7 278.7 414.2 277 414.6 275.2 415.1 273.5 415.5 271.7 415.9 269.9 416.3 268.2 416.6 266.6 416.9 265.1 417.1 263.8 417.2 262.5 417.3 261.3 417.3 260.2 417.2 259.1 417.2 258.1 417.1 257 417 255.9 417 254.7 417 253.4 417.1 252 417.3 250.5 417.5 249 417.9 247.3 418.3 245.6 418.8 243.9 419.3 242.1 419.9 240.5 420.6 238.8 421.2 237.3 421.8 235.9 422.3 234.6 422.8" stroke-width="1" stroke-opacity="0.35" stroke-dasharray="11 17"/>
</g>
<path d="M325.8 306.9L327.1 306.2 328.6 305.4 330.3 304.4 332.2 303.3 334.2 302.3 336.3 301.2 338.5 300.3 340.8 299.4 343.5 298.4 346.4 297.3 349.4 296.3 352.4 295.3 355.4 294.4 358.3 293.8 360.9 293.5 363.4 293.5 366 293.8 368.9 294.3 371.8 295.1 374.7 296.1 377.6 297.3 380.3 298.7 382.8 300.2 385.1 301.8 387.2 303.5 389.2 305.5 391.1 307.6 392.9 310 394.5 312.5 396.1 315.2 397.5 318.1 398.8 321 400 324.1 401.1 327.4 402 330.9 402.8 334.5 403.4 338.3 404 342.2 404.4 346.2 404.6 350.3 404.7 354.5 404.7 358.8 404.5 363.3 404.2 367.9 403.8 372.5 403.2 377.1 402.5 381.7 401.6 386.3 400.6 390.9 399.5 395.6 398.3 400.4 396.9 405 395.4 409.6 393.7 414 391.8 418.1 389.8 422 387.5 425.8 385 429.4 382.3 433 379.4 436.4 376.4 439.6 373.2 442.6 369.9 445.5 366.5 448.2 362.9 450.6 359.2 452.9 355.2 455 351.1 456.9 346.9 458.7 342.7 460.3 338.4 461.7 334.1 462.9 329.7 464 325.1 464.9 320.5 465.7 315.8 466.2 311.3 466.5 306.8 466.6 302.7 466.5 298.9 466.1 295.5 465.4 292.2 464.3 288.9 462.9 285.6 461.3 282.4 459.5 279.3 457.6 276.1 455.7 273.2 453.9 270.4 452.2 267.8 450.2 265.1 448.2 262.6 446.1 260.3 444.1 258.2 442.2 256.3 440.6 254.8 439.4" fill="none" stroke="#e8723a" stroke-width="2.4" stroke-linecap="round" stroke-linejoin="round"/>
<path d="M302.4 320.9L303.4 322 305 323.6 306.9 325.5 309 327.7 311.2 330 313.4 332.5 315.4 334.9 317.1 337.4 318.4 339.7 319.5 341.8 320.4 344 321.2 346.3 321.9 348.5 322.4 350.8 322.7 353.1 323 355.5 323.1 358 323.2 360.7 323.1 363.4 322.8 366.1 322.5 368.8 322 371.6 321.5 374.2 320.7 376.8 319.9 379.2 319 381.6 317.9 383.9 316.7 386.2 315.3 388.5 313.8 390.7 312.1 392.8 310.3 394.8 308.5 396.6 306.5 398.4 304.4 400.1 302.1 401.8 299.6 403.4 296.9 404.8 293.8 406.1 290.5 407.3 286.7 408.3 282.7 409 278.5 409.6 274.2 410.1 270 410.5 265.9 410.9 262 411.3 258.6 411.9 255.2 412.6 251.7 413.5 248.1 414.4 244.6 415.3 241.4 416.2 238.5 417.1 236 417.8 234.1 418.3" fill="none" stroke="#e8723a" stroke-width="2" stroke-linecap="round" stroke-linejoin="round" stroke-opacity="0.8"/>
<path d="M294.4 294.8C295.3 297 297.4 303.8 300 308C302.6 312.2 306.9 316.8 310 320C313.1 323.2 316.9 325.8 318.3 327" fill="none" stroke="#e8723a" stroke-width="2" stroke-linecap="round" stroke-linejoin="round" stroke-opacity="0.9"/>
<path d="M303.8 293.8C304.8 295.6 307.6 301.6 310 305C312.4 308.4 315.1 311.9 318 314C320.9 316.1 326.1 317.1 327.7 317.7" fill="none" stroke="#e8723a" stroke-width="2" stroke-linecap="round" stroke-linejoin="round" stroke-opacity="0.8"/>
<path d="M285.5 255.9L285.6 257.8 285.6 260.5 285.6 263.6 285.7 267 285.8 270.5 286 274.1 286.2 277.4 286.5 280.4 286.8 283.2 287.2 286 287.5 288.6 288 291.2 288.5 293.7 289.1 296.1 289.9 298.6 290.7 301 291.8 303.6 293 306.2 294.5 308.9 296 311.7 297.6 314.4 299.2 317 300.9 319.5 302.5 321.8 304.1 324 305.9 326.1 307.8 328.3 309.8 330.4 311.6 332.3 313.4 334.1 314.9 335.6 316 336.8" fill="none" stroke="#8a8e95" stroke-width="1.8" stroke-linecap="round" stroke-linejoin="round" stroke-opacity="0.75"/>
<path d="M299 256.5L299.2 258 299.4 260 299.6 262.5 299.8 265.3 300.2 268.3 300.5 271.3 301 274.3 301.6 277 302.3 279.6 303.1 282.2 303.9 284.8 304.8 287.4 305.8 289.9 306.9 292.2 308 294.4 309.3 296.5 310.8 298.5 312.6 300.2 314.3 301.6 316 302.7 317.6 303.7 318.9 304.4 319.9 304.9 320.5 305.4" fill="none" stroke="#8a8e95" stroke-width="1.8" stroke-linecap="round" stroke-linejoin="round" stroke-opacity="0.7"/>
<path d="M236 416.8L234.5 418 232.4 419.5 230.1 421.3 227.7 423.2 225.2 425.2 222.9 427.3 221 429.3 219.5 431.1 218.3 433.1 217.3 435.2 216.3 437.4 215.5 439.7 214.7 442.2 214.1 444.9 213.5 447.8 212.9 450.8 212.5 454.2 212.2 458.2 211.9 462.6 211.8 467 211.7 471.4 211.6 475.3 211.6 478.7 211.5 481.2" fill="none" stroke="#8a8e95" stroke-width="1.8" stroke-linecap="round" stroke-linejoin="round" stroke-opacity="0.6"/>
<path d="M251.2 438.5L250.1 438.5 248.6 438.3 246.5 438.1 244 437.9 241.3 437.9 238.4 438.1 235.3 439 232.3 440.6 230 442.9 228.3 445.3 227 447.9 225.8 450.6 224.9 453.3 224 456 223.3 458.6 222.6 461.3 222.1 464.1 221.6 467.2 221.3 470.4 221 473.5 220.9 476.4 220.7 479 220.6 481.1 220.5 482.6" fill="none" stroke="#8a8e95" stroke-width="1.8" stroke-linecap="round" stroke-linejoin="round" stroke-opacity="0.6"/>
<path d="M280 256C280.2 260.2 280.1 273.2 281 281C281.9 288.8 282.8 295.7 285.6 303C288.4 310.3 293.6 318.7 298 325C302.4 331.3 308.8 335.4 312 340.6C315.2 345.8 316.5 350.3 317 356C317.5 361.7 316.8 369.2 315 375C313.2 380.8 310.4 386.2 306 390.6C301.6 395 296.8 399 288.8 401.6C280.7 404.2 266.9 404.2 257.5 406C248.1 407.8 239.6 408.8 232.5 412.5C225.4 416.2 219.2 421.8 215 428C210.8 434.2 209 441.2 207.5 450C206 458.8 206.2 475.8 206 481" fill="none" stroke="url(#gEsoL2)" stroke-width="2.8" stroke-linecap="round" stroke-linejoin="round"/>
<path d="M303.5 256C303.9 259.3 304.4 269.7 306 276C307.6 282.3 310.2 289.7 313 294C315.8 298.3 318.7 301.6 323 301.6C327.3 301.6 332 296.1 338.8 293.8C345.5 291.4 355.4 287 363.8 287.5C372.1 288 382 291.8 388.8 297C395.5 302.2 400.8 309.9 404.4 318.8C408 327.6 410.1 338.5 410.6 350C411.1 361.5 410.1 375 407.5 387.5C404.9 400 401.2 414.1 395 425C388.8 435.9 379.9 445.7 370 453C360.1 460.3 347.6 465.6 335.6 468.8C323.6 471.9 308.9 473.6 298 472C287.1 470.4 277.8 463.7 270 459C262.2 454.3 256.7 446.3 251 444C245.3 441.7 239.4 441.9 235.6 445C231.8 448.1 229.6 456.2 228 462.5C226.4 468.8 226.3 479.6 226 483" fill="none" stroke="url(#gEsoR2)" stroke-width="2.8" stroke-linecap="round" stroke-linejoin="round"/>
<line x1="302" y1="356" x2="350" y2="356" stroke="#f0f0f0" stroke-width="1.5"/>
<path d="M350 350 A12.5 12.5 0 1 0 370 364 L364 360 L368 354 L362 349 L366 344 A12.5 12.5 0 0 0 350 350" fill="none" stroke="#f5f5f5" stroke-width="2.4" stroke-linecap="round" stroke-linejoin="round"/>
<circle cx="352" cy="347" r="2" fill="#c8d0d8"/><circle cx="356" cy="344" r="1.6" fill="#c8d0d8"/>
<path d="M356 372 L352.5 388" fill="none" stroke="#f2a070" stroke-width="2.4" stroke-linecap="round" stroke-linejoin="round"/>
<path d="M348 383 L352 390 L357 384" fill="none" stroke="#f2a070" stroke-width="2.2" stroke-linecap="round" stroke-linejoin="round"/>
<path d="M347.5 313.8C348.8 313 352.6 309 355 309C357.4 309 359.8 311.5 362 314C364.2 316.5 365.9 320.9 368.3 324C370.8 327.1 373.9 329.7 376.7 332.5C379.5 335.3 383.6 339.4 385 340.8" fill="none" stroke="#f5f5f5" stroke-width="3.2" stroke-linecap="round" stroke-linejoin="round"/>
<path d="M347.5 313.8C348.8 313 352.6 309 355 309C357.4 309 359.8 311.5 362 314C364.2 316.5 365.9 320.9 368.3 324C370.8 327.1 373.9 329.7 376.7 332.5C379.5 335.3 383.6 339.4 385 340.8" fill="none" stroke="#2a2c30" stroke-width="1.2" stroke-linecap="round" stroke-linejoin="round" stroke-dasharray="1 2.4"/>
<path d="M339 386.7C337.6 388.1 331.5 390.8 330.8 395C330.1 399.2 332.9 406.9 335 411.7C337.1 416.5 342.6 420.5 343.3 424C344 427.5 339.7 431.1 339 432.5" fill="none" stroke="#f5f5f5" stroke-width="3.2" stroke-linecap="round" stroke-linejoin="round"/>
<path d="M339 386.7C337.6 388.1 331.5 390.8 330.8 395C330.1 399.2 332.9 406.9 335 411.7C337.1 416.5 342.6 420.5 343.3 424C344 427.5 339.7 431.1 339 432.5" fill="none" stroke="#2a2c30" stroke-width="1.2" stroke-linecap="round" stroke-linejoin="round" stroke-dasharray="1 2.4"/>
<path d="M351.7 411.7C352.8 410.4 355.9 406.1 358 404C360.1 401.9 361.6 400.5 364 399C366.4 397.5 371.1 395.7 372.5 395" fill="none" stroke="#f5f5f5" stroke-width="3.2" stroke-linecap="round" stroke-linejoin="round"/>
<path d="M351.7 411.7C352.8 410.4 355.9 406.1 358 404C360.1 401.9 361.6 400.5 364 399C366.4 397.5 371.1 395.7 372.5 395" fill="none" stroke="#2a2c30" stroke-width="1.2" stroke-linecap="round" stroke-linejoin="round" stroke-dasharray="1 2.4"/>
<path d="M301.7 432.5C303.1 432.8 307.2 433.3 310 434C312.8 434.7 315.9 434.9 318.3 436.7C320.7 438.5 323.6 443.6 324.6 445" fill="none" stroke="#f5f5f5" stroke-width="3.2" stroke-linecap="round" stroke-linejoin="round"/>
<path d="M301.7 432.5C303.1 432.8 307.2 433.3 310 434C312.8 434.7 315.9 434.9 318.3 436.7C320.7 438.5 323.6 443.6 324.6 445" fill="none" stroke="#2a2c30" stroke-width="1.2" stroke-linecap="round" stroke-linejoin="round" stroke-dasharray="1 2.4"/>
<path d="M348 318 L352 312 M352 321 L357 314 M379 328 L383 322 M383 333 L388 327" fill="none" stroke="#e8702e" stroke-width="1.6" stroke-linecap="round" stroke-linejoin="round"/>
<path d="M513 288.4C515.8 288.7 525 290.6 530 290C535 289.4 539.7 286.7 543 285C546.3 283.3 548.6 280.7 549.7 279.8" fill="none" stroke="#8a8e95" stroke-width="2.2" stroke-linecap="round" stroke-linejoin="round" stroke-opacity="0.7"/>
<defs><linearGradient id="gWallW" gradientUnits="userSpaceOnUse" x1="0" y1="290" x2="0" y2="475"><stop offset="0" stop-color="#f5f5f5" stop-opacity="0.2"/><stop offset="0.2" stop-color="#f5f5f5"/><stop offset="0.8" stop-color="#f5f5f5"/><stop offset="1" stop-color="#f5f5f5" stop-opacity="0.2"/></linearGradient><linearGradient id="gWallG" gradientUnits="userSpaceOnUse" x1="0" y1="290" x2="0" y2="475"><stop offset="0" stop-color="#8a8e95" stop-opacity="0.1"/><stop offset="0.2" stop-color="#8a8e95"/><stop offset="0.8" stop-color="#8a8e95"/><stop offset="1" stop-color="#8a8e95" stop-opacity="0.1"/></linearGradient></defs>
<path d="M463.5 296C463.9 299.7 463.8 309.3 466 318C468.2 326.7 474.4 338.5 477 348C479.6 357.5 481.5 365.5 481.7 375C481.9 384.5 480.4 395.5 478 405C475.6 414.5 469.6 424.2 467 432C464.4 439.8 463.3 445.7 462.5 452C461.7 458.3 462.1 467 462 470" fill="none" stroke="url(#gWallW)" stroke-width="2.6" stroke-linecap="round" stroke-linejoin="round"/>
<path d="M471 296C471.5 299.7 471.7 309.3 474 318C476.3 326.7 482.4 338.8 485 348C487.6 357.2 489.3 363.5 489.5 373C489.7 382.5 488.2 394.7 486 405C483.8 415.3 478.6 426.7 476 435C473.4 443.3 471.5 449.2 470.5 455C469.5 460.8 470.1 467.5 470 470" fill="none" stroke="url(#gWallG)" stroke-width="2" stroke-linecap="round" stroke-linejoin="round"/>
<path d="M579 272C581.5 276.7 590.2 290.3 594 300C597.8 309.7 599.8 317.5 602 330C604.2 342.5 606.7 360 607 375C607.3 390 606.2 405.8 604 420C601.8 434.2 598.7 448 594 460C589.3 472 579 486.7 576 492" fill="none" stroke="#8a8e95" stroke-width="2.2" stroke-linecap="round" stroke-linejoin="round" stroke-opacity="0.8"/>
<path d="M590 290C591.7 294.2 596.8 305.8 600 315C603.2 324.2 606.8 334.2 609 345C611.2 355.8 612.7 367.5 613 380C613.3 392.5 612.8 407 611 420C609.2 433 605.8 446.7 602 458C598.2 469.3 590.3 483 588 488" fill="none" stroke="#f5f5f5" stroke-width="2.4" stroke-linecap="round" stroke-linejoin="round"/>
<circle cx="510" cy="316.3" r="3.9" fill="#e8723a"/>
<circle cx="494.7" cy="326" r="3.9" fill="#e8723a"/>
<circle cx="519.8" cy="335.9" r="3.9" fill="#e8723a"/>
<circle cx="503.5" cy="368.4" r="3.9" fill="#e8723a"/>
<circle cx="518" cy="383" r="3.9" fill="#e8723a"/>
<circle cx="526.3" cy="401" r="3.9" fill="#e8723a"/>
<circle cx="498.6" cy="410.8" r="3.9" fill="#e8723a"/>
<circle cx="488.9" cy="435.2" r="3.9" fill="#e8723a"/>
<circle cx="527" cy="420" r="2.6" fill="#e8723a"/>
<line x1="503.5" y1="347.3" x2="515" y2="340.7" stroke="#e8723a" stroke-width="4.6" stroke-linecap="round"/>
<line x1="501.9" y1="391" x2="515" y2="401" stroke="#e8723a" stroke-width="4.6" stroke-linecap="round"/>
<line x1="505" y1="436.8" x2="518" y2="428.7" stroke="#e8723a" stroke-width="4.6" stroke-linecap="round"/>
<circle cx="523" cy="362" r="3.9" fill="#8a6a5a"/>
<circle cx="503.5" cy="454.75" r="3.6" fill="#6a5048"/>
<path d="M560.9 276.4L563.2 280.5 565.2 286.8 564 294.4 558.1 299.8 551.6 301.1 548.7 301.1 546.5 301.1 544.2 301.1 541.9 301.1 539.7 301.1 537.4 301.1 538 301.1 536.1 301.2 535 301.6 534.1 302.1 533.4 302.8 532.9 303.6 532.6 304.7 532.4 305.9 532.5 307.4 533 309 533.7 310.6 534.8 312.1 536 313.4 537.5 314.5 539.1 315.3 540.7 315.8 542.8 315.9 542.2 315.9 547.4 315.9 552.5 315.9 557.7 315.9 562.9 315.9 568 315.9 573.2 315.9 573.8 315.9 575.3 316.1 577.3 316.7 579.2 317.6 580.9 318.8 582.3 320.3 583.5 322.1 584.3 324 584.8 326.1 584.9 328.3 584.5 330.4 583.6 332.5 582.4 334.4 580.7 335.9 578.7 337 576.6 337.7 575.1 337.9 574.5 337.9 569.3 337.9 564.1 337.9 559 337.9 553.8 337.9 548.6 337.9 543.5 337.9 544.1 337.9 542.1 338 540.9 338.4 539.8 339 538.9 339.8 538.2 340.8 537.7 342 537.5 343.3 537.5 344.8 537.7 346.3 538.3 347.8 539.2 349.2 540.2 350.4 541.5 351.4 542.9 352.1 544.4 352.6 546.5 352.7 545.9 352.7 551 352.7 556.2 352.7 561.4 352.7 566.5 352.7 571.7 352.7 576.9 352.7 577.5 352.7 579 352.9 581 353.5 582.9 354.5 584.6 355.8 586 357.4 587.1 359.3 587.8 361.3 588.1 363.4 588 365.6 587.4 367.7 586.4 369.7 585.1 371.4 583.4 372.8 581.5 373.9 579.4 374.5 577.9 374.7 577.3 374.7 572.1 374.7 566.9 374.7 561.8 374.7 556.6 374.7 551.4 374.7 546.3 374.7 546.9 374.7 544.9 374.8 543.5 375.3 542.3 375.9 541.2 376.8 540.3 377.9 539.7 379.2 539.2 380.6 539.1 382.1 539.2 383.6 539.6 385.1 540.3 386.3 541.1 387.4 542.2 388.3 543.3 389 544.6 389.4 546.6 389.5 546 389.5 551.2 389.5 556.4 389.5 561.5 389.5 566.7 389.5 571.9 389.5 577 389.5 577.6 389.5 579.2 389.7 581.3 390.4 583.2 391.4 584.9 392.9 586.2 394.7 587.1 396.7 587.6 398.9 587.6 401.1 587.2 403.2 586.4 405.2 585.3 407 583.8 408.5 582.2 409.8 580.3 410.7 578.3 411.3 576.7 411.5 576.1 411.5 571 411.5 565.8 411.5 560.6 411.5 555.5 411.5 550.3 411.5 545.1 411.5 545.7 411.5 543.6 411.6 542.1 412.1 540.6 412.9 539.1 413.9 537.8 415.3 536.8 416.8 536 418.4 535.6 420 535.5 421.5 535.6 422.9 535.9 423.9 536.4 424.7 537 425.4 537.8 425.8 538.8 426.2 540.7 426.3 540.1 426.3 545.3 426.3 550.5 426.3 555.6 426.3 560.8 426.3 566 426.3 571.1 426.3 571.7 426.3 573.3 426.5 575.5 427.2 577.5 428.5 579.1 430.2 580.3 432.3 580.9 434.6 581 436.8 580.6 439 579.9 440.9 578.9 442.7 577.6 444.3 576.1 445.6 574.4 446.7 572.6 447.6 570.6 448.1 569.1 448.3 568.5 448.3 563.3 448.3 558.1 448.3 553 448.3 547.8 448.3 542.6 448.3 537.5 448.3 538.1 448.3 535.9 448.5 534.1 449 532.2 449.8 530.4 451 528.6 452.5 527.1 454.2 526 456.1 525.1 457.8 524.7 459.5 524.6 460.8 524.7 461.7 524.9 462.2 525.1 462.5 525.5 462.7 526.2 463 528.1 463.1 529.4 463.4 533.4 464.8 537.3 466.1 541.2 467.4" fill="none" stroke="#e8723a" stroke-width="4.6" stroke-linecap="round" stroke-linejoin="round"/>
<path d="M559.8 277L562.1 281 564 286.9 562.9 293.8 557.6 298.8 551.5 299.9 548.7 299.9 546.5 299.9 544.2 299.9 541.9 299.9 539.7 299.9 537.4 299.9 537.9 299.9 535.8 300.1 534.5 300.5 533.4 301.1 532.5 302 531.8 303.1 531.4 304.4 531.2 305.9 531.3 307.6 531.8 309.4 532.7 311.2 533.8 312.9 535.3 314.3 536.9 315.5 538.7 316.4 540.5 316.9 542.7 317.1 542.2 317.1 547.4 317.1 552.5 317.1 557.7 317.1 562.9 317.1 568 317.1 573.2 317.1 573.7 317.1 575.1 317.3 576.9 317.8 578.6 318.6 580.1 319.7 581.4 321.1 582.4 322.7 583.2 324.4 583.6 326.2 583.7 328.2 583.3 330.1 582.6 332 581.4 333.6 580 334.9 578.3 335.9 576.4 336.5 575 336.7 574.5 336.7 569.3 336.7 564.1 336.7 559 336.7 553.8 336.7 548.6 336.7 543.5 336.7 544 336.7 541.8 336.9 540.4 337.3 539.1 338 538 339 537.2 340.2 536.6 341.6 536.3 343.2 536.3 344.9 536.6 346.6 537.2 348.3 538.2 349.9 539.4 351.3 540.9 352.4 542.5 353.2 544.2 353.7 546.3 353.9 545.9 353.9 551 353.9 556.2 353.9 561.4 353.9 566.5 353.9 571.7 353.9 576.9 353.9 577.3 353.9 578.8 354.1 580.6 354.6 582.3 355.5 583.8 356.7 585 358.1 586 359.8 586.6 361.6 586.9 363.5 586.8 365.4 586.3 367.3 585.4 369 584.2 370.6 582.7 371.8 581 372.7 579.2 373.3 577.8 373.5 577.3 373.5 572.1 373.5 566.9 373.5 561.8 373.5 556.6 373.5 551.4 373.5 546.3 373.5 546.8 373.5 544.6 373.7 543 374.1 541.6 374.9 540.4 376 539.3 377.3 538.5 378.8 538.1 380.4 537.9 382.1 538.1 383.8 538.5 385.5 539.3 387 540.3 388.3 541.5 389.3 542.9 390.1 544.4 390.5 546.5 390.7 546 390.7 551.2 390.7 556.4 390.7 561.5 390.7 566.7 390.7 571.9 390.7 577 390.7 577.5 390.7 578.9 390.9 580.8 391.5 582.5 392.4 584 393.7 585.2 395.3 586 397.1 586.4 399 586.4 401 586.1 402.9 585.3 404.6 584.3 406.2 583 407.6 581.5 408.7 579.9 409.6 578 410.1 576.6 410.3 576.1 410.3 571 410.3 565.8 410.3 560.6 410.3 555.5 410.3 550.3 410.3 545.1 410.3 545.6 410.3 543.4 410.5 541.6 411 539.9 411.9 538.3 413 536.9 414.5 535.8 416.2 534.9 418 534.4 419.8 534.3 421.5 534.4 423.1 534.8 424.4 535.4 425.5 536.2 426.3 537.3 426.9 538.6 427.3 540.6 427.5 540.1 427.5 545.3 427.5 550.5 427.5 555.6 427.5 560.8 427.5 566 427.5 571.1 427.5 571.6 427.5 573.1 427.7 575 428.3 576.7 429.4 578.2 430.9 579.2 432.8 579.7 434.7 579.8 436.7 579.5 438.6 578.8 440.4 577.9 442 576.7 443.4 575.3 444.6 573.8 445.7 572.1 446.4 570.4 446.9 568.9 447.1 568.5 447.1 563.3 447.1 558.1 447.1 553 447.1 547.8 447.1 542.6 447.1 537.5 447.1 537.9 447.1 535.7 447.3 533.7 447.8 531.6 448.8 529.6 450.1 527.8 451.7 526.2 453.5 524.9 455.5 524 457.4 523.5 459.3 523.4 460.8 523.5 462 523.8 462.8 524.3 463.4 524.9 463.8 526 464.2 528 464.3 529.1 464.6 533 465.9 536.9 467.2 540.8 468.6" fill="none" stroke="#181b21" stroke-width="2.6" stroke-linejoin="round" stroke-dasharray="1.1 1.3" stroke-linecap="butt"/>
<path d="M558 278.1L560.2 281.8 561.9 287.2 561.1 292.8 556.7 296.8 551.3 297.8 548.7 297.8 546.5 297.8 544.2 297.8 541.9 297.8 539.7 297.8 537.4 297.8 537.7 297.8 535.4 298 533.6 298.6 532.1 299.5 530.9 300.7 529.9 302.2 529.3 303.9 529.1 305.9 529.3 308 529.9 310.1 530.8 312.3 532.2 314.2 533.9 315.9 535.8 317.3 537.9 318.4 540.1 319 542.5 319.2 542.2 319.2 547.4 319.2 552.5 319.2 557.7 319.2 562.9 319.2 568 319.2 573.2 319.2 573.5 319.2 574.7 319.3 576.1 319.8 577.5 320.4 578.7 321.3 579.7 322.4 580.6 323.7 581.2 325 581.5 326.5 581.6 328 581.3 329.5 580.7 330.9 579.9 332.2 578.7 333.2 577.4 334 576 334.4 574.8 334.6 574.5 334.6 569.3 334.6 564.1 334.6 559 334.6 553.8 334.6 548.6 334.6 543.5 334.6 543.8 334.6 541.4 334.8 539.5 335.4 537.9 336.3 536.5 337.6 535.4 339.2 534.6 341 534.2 342.9 534.2 345 534.6 347.2 535.3 349.2 536.5 351.1 538 352.8 539.7 354.2 541.7 355.2 543.8 355.8 546.1 356 545.9 356 551 356 556.2 356 561.4 356 566.5 356 571.7 356 576.9 356 577.1 356 578.4 356.1 579.8 356.6 581.1 357.3 582.3 358.2 583.3 359.3 584.1 360.6 584.6 362.1 584.8 363.6 584.7 365.1 584.3 366.6 583.7 367.9 582.7 369.1 581.6 370.1 580.2 370.8 578.8 371.3 577.6 371.4 577.3 371.4 572.1 371.4 566.9 371.4 561.8 371.4 556.6 371.4 551.4 371.4 546.3 371.4 546.6 371.4 544.2 371.6 542.2 372.2 540.4 373.2 538.8 374.5 537.6 376.1 536.6 378 536 380 535.8 382.1 536 384.2 536.6 386.3 537.5 388.1 538.7 389.7 540.3 391 542 392 544 392.6 546.3 392.8 546 392.8 551.2 392.8 556.4 392.8 561.5 392.8 566.7 392.8 571.9 392.8 577 392.8 577.3 392.8 578.5 392.9 580 393.4 581.3 394.1 582.5 395.1 583.4 396.4 584 397.8 584.3 399.2 584.3 400.8 584 402.3 583.5 403.7 582.7 404.9 581.6 406 580.4 407 579.1 407.6 577.6 408.1 576.4 408.2 576.1 408.2 571 408.2 565.8 408.2 560.6 408.2 555.5 408.2 550.3 408.2 545.1 408.2 545.4 408.2 543 408.4 540.9 409 538.8 410.1 536.9 411.5 535.3 413.2 533.9 415.1 532.9 417.3 532.3 419.4 532.2 421.5 532.3 423.5 532.9 425.3 533.8 426.7 534.9 427.9 536.4 428.8 538.1 429.4 540.4 429.6 540.1 429.6 545.3 429.6 550.5 429.6 555.6 429.6 560.8 429.6 566 429.6 571.1 429.6 571.4 429.6 572.6 429.8 574.1 430.2 575.4 431.1 576.5 432.2 577.3 433.5 577.7 435 577.7 436.6 577.4 438.1 576.9 439.5 576.1 440.8 575.2 442 574.1 443 572.8 443.8 571.4 444.5 570 444.9 568.7 445 568.5 445 563.3 445 558.1 445 553 445 547.8 445 542.6 445 537.5 445 537.7 445 535.3 445.2 533 445.9 530.6 446.9 528.4 448.4 526.3 450.2 524.5 452.2 523.1 454.5 522 456.7 521.4 458.9 521.3 460.8 521.5 462.5 522 463.9 522.9 464.9 524 465.7 525.5 466.2 527.7 466.4 528.4 466.6 532.3 467.9 536.2 469.2 540.1 470.6" fill="none" stroke="#ece6e0" stroke-width="2" stroke-linejoin="round" stroke-dasharray="1 1.4" stroke-linecap="butt"/>
<path d="M555.5 279.5L557.5 283 559 287.5 558.5 291.5 555.5 294.2 551 294.9 548.7 294.9 546.5 294.9 544.2 294.9 541.9 294.9 539.7 294.9 537.4 294.9 537.4 294.9 534.8 295.2 532.4 295.9 530.3 297.2 528.6 298.9 527.3 300.9 526.5 303.3 526.2 305.8 526.4 308.5 527.1 311.2 528.3 313.7 530 316.1 532 318.1 534.3 319.8 536.8 321.1 539.5 321.8 542.2 322.1 542.2 322.1 547.4 322.1 552.5 322.1 557.7 322.1 562.9 322.1 568 322.1 573.2 322.1 573.2 322.1 574.1 322.2 575.1 322.5 576 322.9 576.8 323.5 577.5 324.2 578 325.1 578.4 326 578.7 326.9 578.7 327.8 578.5 328.7 578.2 329.6 577.7 330.3 577 330.9 576.3 331.3 575.4 331.6 574.5 331.7 574.5 331.7 569.3 331.7 564.1 331.7 559 331.7 553.8 331.7 548.6 331.7 543.5 331.7 543.5 331.7 540.8 332 538.4 332.7 536.2 334 534.3 335.7 532.8 337.7 531.8 340.1 531.3 342.6 531.3 345.3 531.8 348 532.7 350.5 534.2 352.9 536 354.9 538.2 356.6 540.6 357.9 543.2 358.6 545.9 358.9 545.9 358.9 551 358.9 556.2 358.9 561.4 358.9 566.5 358.9 571.7 358.9 576.9 358.9 576.9 358.9 577.8 359 578.7 359.3 579.6 359.7 580.3 360.3 581 361 581.4 361.9 581.8 362.8 581.9 363.7 581.8 364.6 581.6 365.5 581.2 366.4 580.6 367.1 579.9 367.7 579.1 368.1 578.2 368.4 577.3 368.5 577.3 368.5 572.1 368.5 566.9 368.5 561.8 368.5 556.6 368.5 551.4 368.5 546.3 368.5 546.3 368.5 543.6 368.8 541.1 369.5 538.8 370.8 536.8 372.5 535.1 374.5 533.9 376.9 533.2 379.4 532.9 382.1 533.1 384.8 533.9 387.3 535 389.7 536.6 391.7 538.6 393.4 540.9 394.7 543.4 395.4 546 395.7 546 395.7 551.2 395.7 556.4 395.7 561.5 395.7 566.7 395.7 571.9 395.7 577 395.7 577 395.7 578 395.8 578.8 396.1 579.6 396.5 580.3 397.1 580.9 397.8 581.2 398.7 581.4 399.6 581.4 400.5 581.3 401.4 580.9 402.3 580.4 403.2 579.7 403.9 578.9 404.5 578 404.9 577.1 405.2 576.1 405.3 576.1 405.3 571 405.3 565.8 405.3 560.6 405.3 555.5 405.3 550.3 405.3 545.1 405.3 545.1 405.3 542.5 405.6 539.8 406.3 537.3 407.6 535 409.3 533 411.3 531.4 413.7 530.2 416.2 529.5 418.9 529.3 421.6 529.5 424.1 530.3 426.5 531.5 428.5 533.1 430.2 535.2 431.5 537.5 432.2 540.1 432.5 540.1 432.5 545.3 432.5 550.5 432.5 555.6 432.5 560.8 432.5 566 432.5 571.1 432.5 571.1 432.5 572 432.6 572.9 432.9 573.6 433.3 574.2 433.9 574.6 434.6 574.8 435.5 574.8 436.4 574.7 437.3 574.3 438.2 573.8 439.1 573.1 440 572.3 440.7 571.4 441.3 570.4 441.7 569.4 442 568.5 442.1 568.5 442.1 563.3 442.1 558.1 442.1 553 442.1 547.8 442.1 542.6 442.1 537.5 442.1 537.5 442.1 534.7 442.4 532 443.1 529.2 444.4 526.6 446.1 524.3 448.1 522.2 450.5 520.5 453 519.3 455.7 518.6 458.4 518.4 460.9 518.7 463.3 519.5 465.3 520.9 467 522.7 468.3 524.9 469 527.4 469.3 527.4 469.3 531.4 470.6 535.3 472 539.2 473.3" fill="none" stroke="#f5f5f5" stroke-width="2.3" stroke-linecap="round" stroke-linejoin="round"/>
<ellipse cx="546.5" cy="308.5" rx="3.6" ry="2.8" fill="#e8723a"/>
<ellipse cx="551.4" cy="345.3" rx="3.6" ry="2.8" fill="#e8723a"/>
<ellipse cx="553" cy="382.1" rx="3.6" ry="2.8" fill="#e8723a"/>
<ellipse cx="549.6" cy="418.9" rx="3.6" ry="2.8" fill="#e8723a"/>
<ellipse cx="539.4" cy="455.7" rx="3.6" ry="2.8" fill="#e8723a"/>
<g fill="none" stroke="#e8723a" stroke-width="2.2" stroke-linecap="round" stroke-linejoin="round">
<path d="M551.5 308 L600 307" stroke-width="1.6"/>
<path d="M556.4 344.8 L600 343.8" stroke-width="1.6"/>
<path d="M558 381.6 L600 380.6" stroke-width="1.6"/>
<path d="M554.6 418.4 L600 417.4" stroke-width="1.6"/>
<path d="M544.4 455.2 L600 454.2" stroke-width="1.6"/>
<path d="M596 300.5C599.8 301.2 613.3 301.8 619 305C624.7 308.2 628.5 315.3 630 320C631.5 324.7 629.8 329.5 628 333C626.2 336.5 623.7 339.3 619 341C614.3 342.7 603.2 342.7 600 343"/>
<path d="M600 347C603.3 347.5 614.3 348.2 620 350C625.7 351.8 630.7 354.3 634 358C637.3 361.7 639 369.7 640 372"/>
<path d="M640 395C639 397.3 637.3 405.3 634 409C630.7 412.7 625.7 415.2 620 417C614.3 418.8 603.3 419.5 600 420"/>
<path d="M606 266C608.7 269.3 617 277.8 622 286C627 294.2 632.8 305.2 636 315C639.2 324.8 640.2 335.5 641 345C641.8 354.5 641 367.5 641 372"/>
<path d="M641 396C641 400 641.8 411 641 420C640.2 429 639.2 440.3 636 450C632.8 459.7 627 470 622 478C617 486 608.7 494.7 606 498"/>
<path d="M600 424C603.2 424.3 614 424.3 619 426C624 427.7 628.5 430.5 630 434C631.5 437.5 629.8 443.5 628 447C626.2 450.5 624.3 453 619 455C613.7 457 599.8 458.3 596 459"/>
<path d="M603 270C604.8 273 611.3 283 614 288C616.7 293 618.2 298 619 300" stroke-opacity="0.85"/>
<path d="M619 464C618.2 466.3 616.7 472.7 614 478C611.3 483.3 604.8 493 603 496" stroke-opacity="0.85"/>
<path d="M619 270.6C621.1 275 627.2 288.1 631.6 297.2C636 306.3 642 316.7 645.6 325.3C649.2 333.9 650.7 341.6 653.4 348.8C656.1 355.9 658.2 362.8 662 368C665.8 373.2 671.3 377.6 676 380C680.7 382.4 687.7 382.1 690 382.5"/>
<path d="M690 384C687.7 384.3 680.7 383.7 676 386C671.3 388.3 665.8 392.7 662 398C658.2 403.3 656.1 410.8 653.4 418C650.7 425.2 649.2 432.5 645.6 441C642 449.5 636 459.8 631.6 469C627.2 478.2 621.1 491.5 619 496"/>
<path d="M652 368 L670 383 L652 398 Z"/>
<path d="M622 342.5 L634.7 330 L639.4 348.75 Z"/>
<path d="M617 427 L634.8 422.4 L630 444 Z"/>
<path d="M624 291 q4 3 2 7 t4 6" stroke-width="1.3"/>
<path d="M640 331 q-2 6 2 10 t1 9" stroke-width="1.3"/>
<circle cx="644" cy="352" r="1.6" stroke-width="1.2"/>
<path d="M641 412 q-3 5 1 9 t0 7" stroke-width="1.3"/>
<path d="M626 470 q4 -2 5 2" stroke-width="1.3"/>
</g>
<path d="M627.6 374.8 L640.6 383.3 L627.6 391.8 Z" fill="none" stroke="#0c0d10" stroke-opacity="0.8" stroke-width="2" stroke-linejoin="miter"/><path d="M584 380.6 H627.6 V374.8 L640.6 383.3 L627.6 391.8 V386.1 H584 Z" fill="url(#gArrowFade)"/>
<defs><linearGradient id="gVes" x1="0" y1="0" x2="0" y2="1">
 <stop offset="0" stop-color="#2a2222" stop-opacity="0.5"/>
 <stop offset="0.3" stop-color="#4a2a1e" stop-opacity="0.55"/>
 <stop offset="0.5" stop-color="#7a3a1c" stop-opacity="0.6"/>
 <stop offset="0.75" stop-color="#4a2a1e" stop-opacity="0.5"/>
 <stop offset="1" stop-color="#2a201c" stop-opacity="0.35"/>
</linearGradient>
<linearGradient id="gFadeTop" x1="0" y1="0" x2="0" y2="1">
 <stop offset="0" stop-color="#f5f5f5" stop-opacity="0"/>
 <stop offset="0.25" stop-color="#f5f5f5" stop-opacity="1"/>
 <stop offset="1" stop-color="#f5f5f5" stop-opacity="1"/>
</linearGradient>
<linearGradient id="gVesLineL" gradientUnits="userSpaceOnUse" x1="822" y1="178" x2="634" y2="576">
 <stop offset="0" stop-color="#f5f5f5" stop-opacity="0.1"/>
 <stop offset="0.2" stop-color="#f5f5f5" stop-opacity="1"/>
 <stop offset="0.85" stop-color="#f5f5f5" stop-opacity="1"/>
 <stop offset="1" stop-color="#c0c0c0" stop-opacity="0.5"/>
</linearGradient>
<linearGradient id="gVesLineR" gradientUnits="userSpaceOnUse" x1="919" y1="223" x2="694" y2="654">
 <stop offset="0" stop-color="#f5f5f5" stop-opacity="0.1"/>
 <stop offset="0.2" stop-color="#f5f5f5" stop-opacity="1"/>
 <stop offset="0.9" stop-color="#f5f5f5" stop-opacity="1"/>
 <stop offset="1" stop-color="#c0c0c0" stop-opacity="0.6"/>
</linearGradient>
<linearGradient id="gThr" x1="0" y1="0" x2="1" y2="0">
 <stop offset="0" stop-color="#ee6b2b" stop-opacity="1"/>
 <stop offset="0.9" stop-color="#ee6b2b" stop-opacity="1"/>
 <stop offset="1" stop-color="#ee6b2b" stop-opacity="0"/>
</linearGradient></defs>
<path d="M786.7 250L787.5 248.4 788.6 246.2 789.9 243.5 791.4 240.7 793.1 237.7 794.9 234.9 796.8 232 798.8 228.9 801 225.7 803.4 222.6 806 219.8 808.8 217.4 811.8 215.3 815 213.5 818.4 211.9 821.9 210.6 825.8 209.7 829.8 209.3 834.4 209.4 839.5 209.9 844.8 210.8 850 212 854.8 213.4 858.8 215 862 216.8 864.6 218.9 866.7 221.3 868.5 223.8 870.1 226.4 871.6 229 872.9 231.9 873.9 235.2 874.8 238.6 875.4 241.8 875.9 244.6 876.3 246.5 875 249 873.3 252.1 871.3 255.9 869.1 260.1 866.7 264.8 864.2 269.7 861.8 274.8 859.5 280 857.2 285.3 854.7 290.9 852.2 296.7 849.6 302.7 847.1 309.1 844.8 315.7 842.7 322.7 841 330 839.6 337.9 838.5 346.6 837.7 355.7 837 365 836.4 374.3 835.8 383.4 835.2 392.1 834.5 400 833.8 407.2 833.2 413.9 832.6 420.2 832 426.2 831.4 432.1 830.7 438 829.8 443.9 828.7 450 827.4 456.2 826.1 462.5 824.6 468.8 823.1 475 821.3 481.2 819.4 487.5 817.3 493.8 815 500 812.4 506.4 809.5 512.9 806.4 519.5 803.1 526.1 799.8 532.5 796.4 538.7 793.2 544.6 790 550 787 555 784 559.6 781.1 564 778.2 568.1 775.2 572 772.3 575.7 769.2 579.4 766 583 762.8 586.5 759.6 589.7 756.3 592.8 753 595.8 749.6 598.7 745.9 601.7 738 600 730 577 712 558 687 550 696.5 544.8 701.4 539 706.3 532.8 711 526.3 715.6 519.7 720 513 724 506.4 727.7 500 731 493.8 734 487.5 736.8 481.2 739.2 475 741.5 468.8 743.6 462.5 745.5 456.2 747.3 450 748.9 443.9 750.2 438 751.4 432.1 752.3 426.2 753.2 420.2 754 413.9 754.7 407.2 755.5 400 756.2 392.1 756.7 383.4 757.1 374.3 757.4 365 757.8 355.7 758.3 346.6 759 337.9 760 330 761.3 322.7 762.7 315.6 764.4 308.9 766.2 302.5 768.1 296.4 769.9 290.6 771.8 285.2 773.5 280 775.3 275.1 777.1 270.4 779.1 266 780.9 261.9 782.7 258.2 784.3 254.9 785.7 252.2Z" fill="url(#gVes)"/>
<path d="M786.7 250C784.5 255 778 266.7 773.5 280C769 293.3 763 310 760 330C757 350 757.6 380 755.5 400C753.4 420 751.9 433.3 747.3 450C742.7 466.7 737 483.3 727.7 500C718.4 516.7 704.6 536.8 691.6 550C678.6 563.2 656.9 574.2 650 579" fill="none" stroke="#e8723a" stroke-width="2.4" stroke-linecap="round" stroke-linejoin="round"/>
<path d="M876.3 246.5C873.5 252.1 865.4 266.1 859.5 280C853.6 293.9 845.2 310 841 330C836.8 350 836.5 380 834.5 400C832.5 420 832 433.3 828.7 450C825.5 466.7 821.5 483.3 815 500C808.5 516.7 798.2 536.2 790 550C781.8 563.8 774.7 573.3 766 583C757.3 592.7 749.3 599 738 608C726.7 617 704.7 632.2 698 637" fill="none" stroke="#e8723a" stroke-width="2.4" stroke-linecap="round" stroke-linejoin="round"/>
<path d="M786.7 250C788.1 247.5 791.2 240.3 794.9 234.9C798.6 229.5 803 221.7 808.8 217.4C814.6 213.1 821.5 209.7 829.8 209.3C838.1 208.9 851.8 211.7 858.8 215C865.8 218.3 868.7 223.8 871.6 229C874.5 234.2 875.5 243.6 876.3 246.5" fill="none" stroke="#c8683a" stroke-width="2.4" stroke-linecap="round" stroke-linejoin="round"/>
<path d="M687 550C691.2 551.3 704.8 553.5 712 558C719.2 562.5 725.7 570 730 577C734.3 584 736.7 596.2 738 600" fill="none" stroke="#e8723a" stroke-width="2.2" stroke-linecap="round" stroke-linejoin="round"/>
<path d="M822.5 178C818.9 181.7 809.4 188 800.7 200C792 212 777.8 236.7 770.5 250C763.2 263.3 761.5 266.7 757.2 280C753 293.3 747.7 310 745 330C742.3 350 743.2 380 741 400C738.8 420 736.5 433.3 731.6 450C726.7 466.7 719.8 485.2 711.4 500C703 514.8 693.9 525.8 681 538.5C668.1 551.2 641.8 569.8 634 576" fill="none" stroke="url(#gVesLineL)" stroke-width="2.6" stroke-linecap="round" stroke-linejoin="round"/>
<path d="M829 182C826 185 819.2 188.7 811 200C802.8 211.3 787.5 236.7 779.8 250C772.1 263.3 769.3 266.7 764.8 280C760.3 293.3 755.9 310 753 330C750.1 350 749.6 380 747.3 400C745 420 744 433.3 739.2 450C734.4 466.7 727.4 484.2 718.4 500C709.4 515.8 698.1 531.2 685 545C671.9 558.8 647.5 576.7 640 583" fill="none" stroke="#8a8e95" stroke-width="2" stroke-linecap="round" stroke-linejoin="round" stroke-opacity="0.8"/>
<path d="M919.3 223.3C915.4 227.8 903.1 240.6 896 250C888.9 259.4 883.1 266.7 876.4 280C869.7 293.3 860.6 310 856 330C851.4 350 850.3 380 848.5 400C846.7 420 847.9 433.3 845 450C842.1 466.7 837.3 483.3 831 500C824.7 516.7 815.5 535.8 807 550C798.5 564.2 789.7 574.8 780 585C770.3 595.2 762.9 599.6 748.6 611C734.4 622.4 703.5 646.5 694.5 653.6" fill="none" stroke="url(#gVesLineR)" stroke-width="2.6" stroke-linecap="round" stroke-linejoin="round"/>
<path d="M912.3 221C908 225.8 894.1 240.2 886.7 250C879.3 259.8 873.8 266.7 867.7 280C861.6 293.3 854.3 310 850 330C845.7 350 843.9 380 842 400C840.1 420 841.8 433.3 838.6 450C835.4 466.7 829.6 483.3 823 500C816.4 516.7 807.3 536.3 799 550C790.7 563.7 782.3 572.7 773 582C763.7 591.3 756.5 595.3 743 606C729.5 616.7 700.5 639.3 692 646" fill="none" stroke="#8a8e95" stroke-width="2" stroke-linecap="round" stroke-linejoin="round" stroke-opacity="0.8"/>
<line x1="813.5" y1="233.7" x2="817" y2="248.8" stroke="#f0f0f0" stroke-width="1.8"/>
<line x1="840" y1="261.8" x2="854.9" y2="252.8" stroke="#f0f0f0" stroke-width="1.8"/>
<line x1="789.8" y1="282.9" x2="807.2" y2="280" stroke="#f0f0f0" stroke-width="1.8"/>
<line x1="813.6" y1="303.3" x2="831" y2="299.2" stroke="#f0f0f0" stroke-width="1.8"/>
<line x1="785.7" y1="308.5" x2="792" y2="324.8" stroke="#f0f0f0" stroke-width="1.8"/>
<line x1="810.8" y1="330.9" x2="816.6" y2="341.8" stroke="#f0f0f0" stroke-width="1.8"/>
<line x1="786.5" y1="371" x2="773.7" y2="383.6" stroke="#f0f0f0" stroke-width="1.8"/>
<line x1="810" y1="384.8" x2="816.6" y2="397.6" stroke="#f0f0f0" stroke-width="1.8"/>
<line x1="816.6" y1="397.6" x2="800.8" y2="407" stroke="#f0f0f0" stroke-width="1.8"/>
<line x1="771.7" y1="415.1" x2="786.9" y2="423.8" stroke="#f0f0f0" stroke-width="1.8"/>
<line x1="785" y1="444.2" x2="773.7" y2="458.2" stroke="#f0f0f0" stroke-width="1.8"/>
<line x1="810.8" y1="461" x2="795" y2="467" stroke="#f0f0f0" stroke-width="1.8"/>
<line x1="758.8" y1="472.5" x2="770.6" y2="485.3" stroke="#f0f0f0" stroke-width="1.8"/>
<line x1="774.2" y1="507.6" x2="791" y2="511.6" stroke="#f0f0f0" stroke-width="1.8"/>
<line x1="746.9" y1="513.4" x2="739.9" y2="529.7" stroke="#f0f0f0" stroke-width="1.8"/>
<line x1="763.9" y1="552" x2="748" y2="559.5" stroke="#f0f0f0" stroke-width="1.8"/>
<circle cx="813.5" cy="233.7" r="5" fill="#ea6f33" stroke="#2a1a14" stroke-width="0.8"/>
<circle cx="817" cy="248.8" r="5" fill="#ea6f33" stroke="#2a1a14" stroke-width="0.8"/>
<circle cx="840" cy="261.8" r="5" fill="#ea6f33" stroke="#2a1a14" stroke-width="0.8"/>
<circle cx="854.9" cy="252.8" r="5" fill="#ea6f33" stroke="#2a1a14" stroke-width="0.8"/>
<circle cx="789.8" cy="282.9" r="5" fill="#ea6f33" stroke="#2a1a14" stroke-width="0.8"/>
<circle cx="807.2" cy="280" r="5" fill="#ea6f33" stroke="#2a1a14" stroke-width="0.8"/>
<circle cx="813.6" cy="303.3" r="5" fill="#ea6f33" stroke="#2a1a14" stroke-width="0.8"/>
<circle cx="831" cy="299.2" r="5" fill="#ea6f33" stroke="#2a1a14" stroke-width="0.8"/>
<circle cx="785.7" cy="308.5" r="5" fill="#ea6f33" stroke="#2a1a14" stroke-width="0.8"/>
<circle cx="792" cy="324.8" r="5" fill="#ea6f33" stroke="#2a1a14" stroke-width="0.8"/>
<circle cx="810.8" cy="330.9" r="5" fill="#ea6f33" stroke="#2a1a14" stroke-width="0.8"/>
<circle cx="816.6" cy="341.8" r="5" fill="#ea6f33" stroke="#2a1a14" stroke-width="0.8"/>
<circle cx="786.5" cy="371" r="5" fill="#ea6f33" stroke="#2a1a14" stroke-width="0.8"/>
<circle cx="773.7" cy="383.6" r="5" fill="#ea6f33" stroke="#2a1a14" stroke-width="0.8"/>
<circle cx="810" cy="384.8" r="5" fill="#ea6f33" stroke="#2a1a14" stroke-width="0.8"/>
<circle cx="816.6" cy="397.6" r="5" fill="#ea6f33" stroke="#2a1a14" stroke-width="0.8"/>
<circle cx="800.8" cy="407" r="5" fill="#ea6f33" stroke="#2a1a14" stroke-width="0.8"/>
<circle cx="771.7" cy="415.1" r="5" fill="#ea6f33" stroke="#2a1a14" stroke-width="0.8"/>
<circle cx="786.9" cy="423.8" r="5" fill="#ea6f33" stroke="#2a1a14" stroke-width="0.8"/>
<circle cx="785" cy="444.2" r="5" fill="#ea6f33" stroke="#2a1a14" stroke-width="0.8"/>
<circle cx="773.7" cy="458.2" r="5" fill="#ea6f33" stroke="#2a1a14" stroke-width="0.8"/>
<circle cx="810.8" cy="461" r="5" fill="#ea6f33" stroke="#2a1a14" stroke-width="0.8"/>
<circle cx="795" cy="467" r="5" fill="#ea6f33" stroke="#2a1a14" stroke-width="0.8"/>
<circle cx="758.8" cy="472.5" r="5" fill="#ea6f33" stroke="#2a1a14" stroke-width="0.8"/>
<circle cx="770.6" cy="485.3" r="5" fill="#ea6f33" stroke="#2a1a14" stroke-width="0.8"/>
<circle cx="774.2" cy="507.6" r="5" fill="#ea6f33" stroke="#2a1a14" stroke-width="0.8"/>
<circle cx="791" cy="511.6" r="5" fill="#ea6f33" stroke="#2a1a14" stroke-width="0.8"/>
<circle cx="746.9" cy="513.4" r="5" fill="#ea6f33" stroke="#2a1a14" stroke-width="0.8"/>
<circle cx="739.9" cy="529.7" r="5" fill="#ea6f33" stroke="#2a1a14" stroke-width="0.8"/>
<circle cx="763.9" cy="552" r="5" fill="#ea6f33" stroke="#2a1a14" stroke-width="0.8"/>
<circle cx="748" cy="559.5" r="5" fill="#ea6f33" stroke="#2a1a14" stroke-width="0.8"/>
<rect x="680" y="352.5" width="198" height="4.6" fill="url(#gThr)"/>
<rect x="692.8" y="312" width="4.4" height="43" fill="#ee6b2b"/>
<path d="M686 315 L695 299.5 L704 315 Z" fill="#ee6b2b"/>
<path d="M713 373.8 L728.5 383.3 L713 392.8 Z" fill="none" stroke="#0c0d10" stroke-opacity="0.8" stroke-width="2" stroke-linejoin="miter"/><path d="M688 380.3 H713 V373.8 L728.5 383.3 L713 392.8 V386.3 H688 Z" fill="url(#gArrowFade)"/>
<defs>
<linearGradient id="gFadeR" x1="0" y1="0" x2="1" y2="0" gradientUnits="userSpaceOnUse" x1="1080" x2="1325">
 <stop offset="0" stop-color="#f5f5f5" stop-opacity="1"/>
 <stop offset="0.6" stop-color="#d8d8d8" stop-opacity="0.9"/>
 <stop offset="1" stop-color="#aaaaaa" stop-opacity="0"/>
</linearGradient>
<linearGradient id="gFadeRO" gradientUnits="userSpaceOnUse" x1="1080" y1="0" x2="1330" y2="0">
 <stop offset="0" stop-color="#e8723a" stop-opacity="1"/>
 <stop offset="0.6" stop-color="#c8683a" stop-opacity="0.9"/>
 <stop offset="1" stop-color="#a0603a" stop-opacity="0"/>
</linearGradient>
<linearGradient id="gFadeRW" gradientUnits="userSpaceOnUse" x1="1080" y1="0" x2="1325" y2="0">
 <stop offset="0" stop-color="#f5f5f5" stop-opacity="1"/>
 <stop offset="0.6" stop-color="#d0d0d0" stop-opacity="0.9"/>
 <stop offset="1" stop-color="#a0a0a0" stop-opacity="0"/>
</linearGradient>
<linearGradient id="gW2" gradientUnits="userSpaceOnUse" x1="940" y1="0" x2="1205" y2="0">
 <stop offset="0" stop-color="#f5f5f5"/>
 <stop offset="0.45" stop-color="#f0f0f0"/>
 <stop offset="0.8" stop-color="#a8acb2"/>
 <stop offset="1" stop-color="#a0a4aa"/>
</linearGradient>
<linearGradient id="gStri" x1="0" y1="0" x2="1" y2="0">
 <stop offset="0" stop-color="#9aa0a8" stop-opacity="0"/>
 <stop offset="0.3" stop-color="#9aa0a8" stop-opacity="0.85"/>
 <stop offset="0.7" stop-color="#9aa0a8" stop-opacity="0.85"/>
 <stop offset="1" stop-color="#9aa0a8" stop-opacity="0"/>
</linearGradient>
</defs>
<rect x="1170" y="212.3" width="120" height="1.3" fill="url(#gStri)"/>
<rect x="1155" y="220.8" width="155" height="1.3" fill="url(#gStri)"/>
<rect x="1172" y="228.8" width="118" height="1.3" fill="url(#gStri)"/>
<rect x="1200" y="237.3" width="120" height="1.3" fill="url(#gStri)"/>
<rect x="1190" y="245.3" width="100" height="1.3" fill="url(#gStri)"/>
<rect x="1220" y="271.4" width="90" height="1.3" fill="url(#gStri)"/>
<rect x="1207" y="279.4" width="128" height="1.3" fill="url(#gStri)"/>
<rect x="1220" y="287.4" width="100" height="1.3" fill="url(#gStri)"/>
<rect x="1210" y="296.4" width="120" height="1.3" fill="url(#gStri)"/>
<rect x="1230" y="304.4" width="90" height="1.3" fill="url(#gStri)"/>
<rect x="1195" y="499.4" width="140" height="1.3" fill="url(#gStri)"/>
<rect x="1207" y="508.1" width="123" height="1.3" fill="url(#gStri)"/>
<rect x="1188" y="516.6" width="137" height="1.3" fill="url(#gStri)"/>
<rect x="1183" y="540.4" width="127" height="1.3" fill="url(#gStri)"/>
<rect x="1175" y="549.4" width="130" height="1.3" fill="url(#gStri)"/>
<rect x="1150" y="557.4" width="150" height="1.3" fill="url(#gStri)"/>
<rect x="1158" y="566.1" width="132" height="1.3" fill="url(#gStri)"/>
<rect x="1172" y="259" width="158" height="2" fill="url(#gStri)"/>
<rect x="1150" y="531" width="175" height="2" fill="url(#gStri)"/>
<path d="M1080 582L1078 582 1076.3 582 1074.7 582 1073.1 581.9 1071.6 581.9 1070 581.8 1068.6 581.7 1067.1 581.7 1065.6 581.6 1064.2 581.5 1062.7 581.3 1061.3 581.2 1059.9 581.1 1058.5 580.9 1057.2 580.8 1055.8 580.6 1054.4 580.4 1053.1 580.2 1051.7 580 1050.4 579.8 1049 579.6 1047.7 579.4 1046.4 579.1 1045.1 578.9 1043.8 578.6 1042.5 578.4 1041.2 578.1 1039.9 577.8 1038.6 577.5 1037.4 577.1 1036.1 576.8 1034.8 576.5 1033.6 576.1 1032.3 575.8 1031.1 575.4 1029.9 575 1028.6 574.6 1027.4 574.2 1026.2 573.8 1025 573.4 1023.8 573 1022.6 572.5 1021.4 572.1 1020.2 571.6 1019 571.1 1017.8 570.6 1016.7 570.1 1015.5 569.6 1014.3 569.1 1013.2 568.6 1012 568.1 1010.9 567.5 1009.8 567 1008.6 566.4 1007.5 565.8 1006.4 565.2 1005.3 564.6 1004.2 564 1003.1 563.4 1002 562.8 1000.9 562.1 999.8 561.5 998.7 560.8 997.6 560.2 996.6 559.5 995.5 558.8 994.4 558.1 993.4 557.4 992.4 556.7 991.3 556 990.3 555.2 989.3 554.5 988.2 553.7 987.2 553 986.2 552.2 985.2 551.4 984.2 550.6 983.3 549.8 982.3 549 981.3 548.2 980.3 547.3 979.4 546.5 978.4 545.7 977.5 544.8 976.5 543.9 975.6 543.1 974.7 542.2 973.8 541.3 972.8 540.4 971.9 539.5 971 538.5 970.1 537.6 969.3 536.7 968.4 535.7 967.5 534.8 966.6 533.8 965.8 532.8 964.9 531.8 964.1 530.8 963.2 529.8 962.4 528.8 961.6 527.8 960.8 526.8 960 525.7 959.2 524.7 958.4 523.7 957.6 522.6 956.8 521.5 956 520.4 955.3 519.4 954.5 518.3 953.8 517.2 953 516.1 952.3 514.9 951.6 513.8 950.8 512.7 950.1 511.5 949.4 510.4 948.7 509.2 948 508.1 947.4 506.9 946.7 505.7 946 504.5 945.4 503.3 944.7 502.1 944.1 500.9 943.4 499.7 942.8 498.5 942.2 497.2 941.6 496 941 494.7 940.4 493.5 939.8 492.2 939.2 490.9 938.7 489.6 938.1 488.4 937.5 487.1 937 485.8 936.5 484.5 935.9 483.1 935.4 481.8 934.9 480.5 934.4 479.2 933.9 477.8 933.4 476.5 932.9 475.1 932.5 473.7 932 472.4 931.6 471 931.1 469.6 930.7 468.2 930.2 466.8 929.8 465.4 929.4 464 929 462.6 928.6 461.1 928.2 459.7 927.9 458.3 927.5 456.8 927.1 455.4 926.8 453.9 926.4 452.4 926.1 451 925.8 449.5 925.5 448 925.2 446.5 924.9 445 924.6 443.5 924.3 442 924 440.4 923.8 438.9 923.5 437.4 923.3 435.8 923 434.2 922.8 432.7 922.6 431.1 922.4 429.5 922.2 427.9 922 426.3 921.8 424.7 921.6 423.1 921.5 421.5 921.3 419.9 921.1 418.2 921 416.6 920.9 414.9 920.8 413.2 920.6 411.5 920.5 409.8 920.4 408.1 920.4 406.3 920.3 404.6 920.2 402.8 920.2 401 920.1 399.2 920.1 397.3 920 395.4" fill="none" stroke="#f5f5f5" stroke-width="2.6" stroke-linecap="round" stroke-linejoin="round"/>
<path d="M920.1 369.9L920.1 367.2 920.2 364.7 920.2 362.3 920.3 359.9 920.4 357.7 920.4 355.5 920.5 353.3 920.6 351.2 920.7 349.2 920.8 347.2 920.9 345.2 921 343.3 921.1 341.4 921.3 339.5 921.4 337.7 921.6 335.9 921.7 334.1 921.9 332.4 922 330.6 922.2 328.9 922.4 327.3 922.6 325.6 922.8 324 923 322.3 923.2 320.7 923.4 319.1 923.6 317.6 923.8 316 924.1 314.5 924.3 313 924.6 311.5 924.8 310 925.1 308.5 925.4 307 925.6 305.6 925.9 304.1 926.2 302.7 926.5 301.3 926.8 299.9 927.1 298.5 927.4 297.2 927.8 295.8 928.1 294.5 928.4 293.1 928.8 291.8 929.2 290.5 929.5 289.2 929.9 287.9 930.3 286.6 930.6 285.4 931 284.1 931.4 282.9 931.8 281.6 932.2 280.4 932.7 279.2 933.1 278 933.5 276.8 934 275.6 934.4 274.4 934.9 273.3 935.3 272.1 935.8 271 936.3 269.8 936.7 268.7 937.2 267.6 937.7 266.5 938.2 265.4 938.7 264.3 939.2 263.2 939.8 262.2 940.3 261.1 940.8 260.1 941.4 259 941.9 258 942.5 257 943 255.9 943.6 254.9 944.2 253.9 944.8 253 945.4 252 946 251 946.6 250 947.2 249.1 947.8 248.1 948.4 247.2 949.1 246.3 949.7 245.4 950.4 244.5 951 243.5 951.7 242.7 952.3 241.8 953 240.9 953.7 240 954.4 239.2 955.1 238.3 955.8 237.5 956.5 236.6 957.2 235.8 957.9 235 958.7 234.2 959.4 233.4 960.2 232.6 960.9 231.8 961.7 231.1 962.4 230.3 963.2 229.5 964 228.8 964.8 228.1 965.6 227.3 966.4 226.6 967.2 225.9 968 225.2 968.9 224.5 969.7 223.8 970.5 223.1 971.4 222.4 972.2 221.8 973.1 221.1 974 220.5 974.9 219.8 975.7 219.2 976.6 218.6 977.5 218 978.4 217.4 979.4 216.8 980.3 216.2 981.2 215.6 982.2 215 983.1 214.5 984.1 213.9 985 213.4 986 212.8 987 212.3 988 211.8 989 211.3 990 210.8 991 210.3 992 209.8 993.1 209.3 994.1 208.8 995.1 208.4 996.2 207.9 997.3 207.5 998.3 207 999.4 206.6 1000.5 206.2 1001.6 205.8 1002.8 205.4 1003.9 205 1005 204.6 1006.2 204.2 1007.3 203.9 1008.5 203.5 1009.7 203.1 1010.8 202.8 1012 202.5 1013.3 202.1 1014.5 201.8 1015.7 201.5 1017 201.2 1018.2 200.9 1019.5 200.6 1020.8 200.4 1022.1 200.1 1023.4 199.8 1024.7 199.6 1026.1 199.3 1027.4 199.1 1028.8 198.9 1030.2 198.7 1031.6 198.4 1033.1 198.2 1034.5 198.1 1036 197.9 1037.5 197.7 1039 197.5 1040.5 197.4 1042.1 197.2 1043.7 197.1 1045.3 197 1047 196.8 1048.7 196.7 1050.4 196.6 1052.2 196.5 1054 196.4 1055.9 196.3 1057.8 196.3 1059.9 196.2 1062 196.2 1064.2 196.1 1066.5 196.1 1069 196 1071.8 196 1075 196 1080 196" fill="none" stroke="#f5f5f5" stroke-width="2.6" stroke-linecap="round" stroke-linejoin="round"/>
<rect x="1080" y="194.7" width="245" height="2.6" fill="url(#gFadeRW)"/>
<rect x="1080" y="580.7" width="245" height="2.6" fill="url(#gFadeRW)"/>
<path d="M1080 574L1078.1 574 1076.5 574 1074.9 574 1073.4 573.9 1071.9 573.9 1070.5 573.8 1069.1 573.7 1067.6 573.7 1066.3 573.6 1064.9 573.5 1063.5 573.4 1062.2 573.3 1060.8 573.1 1059.5 573 1058.2 572.8 1056.8 572.7 1055.5 572.5 1054.2 572.3 1052.9 572.1 1051.7 571.9 1050.4 571.7 1049.1 571.5 1047.9 571.3 1046.6 571 1045.4 570.8 1044.1 570.5 1042.9 570.2 1041.7 569.9 1040.4 569.7 1039.2 569.3 1038 569 1036.8 568.7 1035.6 568.4 1034.4 568 1033.2 567.7 1032.1 567.3 1030.9 566.9 1029.7 566.6 1028.6 566.2 1027.4 565.7 1026.2 565.3 1025.1 564.9 1024 564.5 1022.8 564 1021.7 563.6 1020.6 563.1 1019.4 562.6 1018.3 562.2 1017.2 561.7 1016.1 561.2 1015 560.6 1013.9 560.1 1012.8 559.6 1011.7 559 1010.7 558.5 1009.6 557.9 1008.5 557.3 1007.5 556.8 1006.4 556.2 1005.4 555.6 1004.3 555 1003.3 554.3 1002.3 553.7 1001.2 553.1 1000.2 552.4 999.2 551.8 998.2 551.1 997.2 550.4 996.2 549.7 995.2 549 994.2 548.3 993.2 547.6 992.3 546.9 991.3 546.2 990.3 545.4 989.4 544.7 988.4 543.9 987.5 543.1 986.5 542.4 985.6 541.6 984.7 540.8 983.8 540 982.9 539.2 982 538.3 981.1 537.5 980.2 536.7 979.3 535.8 978.4 535 977.5 534.1 976.7 533.2 975.8 532.3 974.9 531.4 974.1 530.5 973.3 529.6 972.4 528.7 971.6 527.8 970.8 526.9 970 525.9 969.2 525 968.3 524 967.6 523 966.8 522.1 966 521.1 965.2 520.1 964.4 519.1 963.7 518.1 962.9 517.1 962.2 516 961.5 515 960.7 514 960 512.9 959.3 511.9 958.6 510.8 957.9 509.7 957.2 508.6 956.5 507.5 955.8 506.5 955.1 505.4 954.5 504.2 953.8 503.1 953.2 502 952.5 500.9 951.9 499.7 951.3 498.6 950.6 497.4 950 496.3 949.4 495.1 948.8 493.9 948.2 492.7 947.6 491.5 947.1 490.3 946.5 489.1 945.9 487.9 945.4 486.7 944.8 485.5 944.3 484.2 943.8 483 943.3 481.8 942.7 480.5 942.2 479.2 941.7 478 941.3 476.7 940.8 475.4 940.3 474.1 939.8 472.8 939.4 471.5 938.9 470.2 938.5 468.9 938.1 467.6 937.6 466.3 937.2 464.9 936.8 463.6 936.4 462.2 936 460.9 935.6 459.5 935.2 458.1 934.9 456.8 934.5 455.4 934.2 454 933.8 452.6 933.5 451.2 933.2 449.8 932.8 448.4 932.5 447 932.2 445.5 931.9 444.1 931.7 442.7 931.4 441.2 931.1 439.8 930.8 438.3 930.6 436.8 930.4 435.3 930.1 433.9 929.9 432.4 929.7 430.9 929.5 429.4 929.3 427.9 929.1 426.3 928.9 424.8 928.7 423.3 928.5 421.7 928.4 420.1 928.2 418.6 928.1 417 928 415.4 927.8 413.8 927.7 412.2 927.6 410.6 927.5 408.9 927.4 407.3 927.3 405.6 927.3 403.9 927.2 402.2 927.2 400.5 927.1 398.7 927.1 397 927 395.1 927 393.2" fill="none" stroke="#e8723a" stroke-width="2.4" stroke-linecap="round" stroke-linejoin="round"/>
<path d="M927.1 373.4L927.1 370.7 927.1 368.1 927.2 365.7 927.2 363.4 927.3 361.1 927.3 359 927.4 356.9 927.5 354.8 927.6 352.8 927.7 350.8 927.8 348.9 927.9 347 928 345.2 928.1 343.4 928.2 341.6 928.3 339.8 928.5 338.1 928.6 336.4 928.8 334.7 928.9 333.1 929.1 331.4 929.3 329.8 929.5 328.2 929.6 326.6 929.8 325.1 930 323.6 930.2 322 930.4 320.5 930.7 319 930.9 317.6 931.1 316.1 931.4 314.7 931.6 313.2 931.9 311.8 932.1 310.4 932.4 309 932.7 307.7 932.9 306.3 933.2 305 933.5 303.6 933.8 302.3 934.1 301 934.4 299.7 934.8 298.4 935.1 297.1 935.4 295.8 935.8 294.6 936.1 293.3 936.5 292.1 936.8 290.9 937.2 289.7 937.5 288.5 937.9 287.3 938.3 286.1 938.7 284.9 939.1 283.8 939.5 282.6 939.9 281.5 940.3 280.3 940.8 279.2 941.2 278.1 941.6 277 942.1 275.9 942.5 274.8 943 273.7 943.5 272.6 943.9 271.6 944.4 270.5 944.9 269.5 945.4 268.5 945.9 267.4 946.4 266.4 946.9 265.4 947.4 264.4 948 263.4 948.5 262.4 949 261.5 949.6 260.5 950.1 259.5 950.7 258.6 951.3 257.7 951.8 256.7 952.4 255.8 953 254.9 953.6 254 954.2 253.1 954.8 252.2 955.4 251.3 956 250.4 956.7 249.6 957.3 248.7 957.9 247.9 958.6 247 959.2 246.2 959.9 245.4 960.6 244.6 961.2 243.8 961.9 243 962.6 242.2 963.3 241.4 964 240.6 964.7 239.9 965.4 239.1 966.1 238.3 966.9 237.6 967.6 236.9 968.3 236.1 969.1 235.4 969.8 234.7 970.6 234 971.4 233.3 972.1 232.6 972.9 232 973.7 231.3 974.5 230.6 975.3 230 976.1 229.3 977 228.7 977.8 228.1 978.6 227.5 979.5 226.8 980.3 226.2 981.2 225.6 982 225.1 982.9 224.5 983.8 223.9 984.7 223.3 985.5 222.8 986.4 222.2 987.4 221.7 988.3 221.2 989.2 220.7 990.1 220.1 991.1 219.6 992 219.1 993 218.6 993.9 218.2 994.9 217.7 995.9 217.2 996.9 216.8 997.9 216.3 998.9 215.9 999.9 215.4 1000.9 215 1001.9 214.6 1003 214.2 1004 213.8 1005.1 213.4 1006.1 213 1007.2 212.6 1008.3 212.2 1009.4 211.9 1010.5 211.5 1011.6 211.2 1012.7 210.8 1013.9 210.5 1015 210.2 1016.2 209.9 1017.3 209.6 1018.5 209.3 1019.7 209 1020.9 208.7 1022.1 208.4 1023.4 208.2 1024.6 207.9 1025.9 207.7 1027.1 207.4 1028.4 207.2 1029.7 207 1031.1 206.8 1032.4 206.5 1033.7 206.3 1035.1 206.2 1036.5 206 1037.9 205.8 1039.3 205.6 1040.8 205.5 1042.3 205.3 1043.8 205.2 1045.3 205 1046.8 204.9 1048.4 204.8 1050.1 204.7 1051.7 204.6 1053.4 204.5 1055.2 204.4 1057 204.3 1058.8 204.3 1060.7 204.2 1062.7 204.1 1064.9 204.1 1067.1 204.1 1069.5 204 1072.1 204 1075.2 204 1080 204" fill="none" stroke="#e8723a" stroke-width="2.4" stroke-linecap="round" stroke-linejoin="round"/>
<rect x="1080" y="202.8" width="245" height="2.4" fill="url(#gFadeRO)"/>
<rect x="1080" y="572.8" width="245" height="2.4" fill="url(#gFadeRO)"/>
<path d="M1100 204C1106 206.7 1126 214.2 1136 220C1146 225.8 1153.3 232.3 1160 239C1166.7 245.7 1173.3 256.5 1176 260" fill="none" stroke="#e8723a" stroke-width="2.2" stroke-linecap="round" stroke-linejoin="round"/>
<path d="M1100 210C1105 212.3 1121.3 218.7 1130 224C1138.7 229.3 1145.7 235.3 1152 242C1158.3 248.7 1165.3 260.3 1168 264" fill="none" stroke="#e8723a" stroke-width="2" stroke-linecap="round" stroke-linejoin="round"/>
<path d="M1100 574C1106 571.3 1126 563.8 1136 558C1146 552.2 1153.3 545.7 1160 539C1166.7 532.3 1173.3 521.5 1176 518" fill="none" stroke="#e8723a" stroke-width="2.2" stroke-linecap="round" stroke-linejoin="round"/>
<path d="M1100 568C1105 565.7 1121.3 559.3 1130 554C1138.7 548.7 1145.7 542.7 1152 536C1158.3 529.3 1165.3 517.7 1168 514" fill="none" stroke="#e8723a" stroke-width="2" stroke-linecap="round" stroke-linejoin="round"/>
<path d="M1205 392.8L1204.9 394.7 1204.9 396.5 1204.8 398.3 1204.8 400.1 1204.7 401.8 1204.6 403.5 1204.5 405.2 1204.4 406.9 1204.3 408.5 1204.2 410.2 1204.1 411.8 1204 413.5 1203.8 415.1 1203.7 416.7 1203.5 418.3 1203.3 419.8 1203.2 421.4 1203 423 1202.8 424.5 1202.6 426.1 1202.4 427.6 1202.1 429.1 1201.9 430.7 1201.7 432.2 1201.4 433.7 1201.1 435.2 1200.9 436.6 1200.6 438.1 1200.3 439.6 1200 441.1 1199.7 442.5 1199.4 444 1199.1 445.4 1198.7 446.8 1198.4 448.3 1198 449.7 1197.7 451.1 1197.3 452.5 1196.9 453.9 1196.6 455.3 1196.2 456.6 1195.8 458 1195.4 459.4 1194.9 460.7 1194.5 462.1 1194.1 463.4 1193.6 464.8 1193.2 466.1 1192.7 467.4 1192.2 468.7 1191.8 470 1191.3 471.3 1190.8 472.6 1190.3 473.9 1189.7 475.1 1189.2 476.4 1188.7 477.7 1188.2 478.9 1187.6 480.1 1187.1 481.4 1186.5 482.6 1185.9 483.8 1185.3 485 1184.8 486.2 1184.2 487.4 1183.6 488.6 1182.9 489.8 1182.3 490.9 1181.7 492.1 1181.1 493.2 1180.4 494.4 1179.8 495.5 1179.1 496.6 1178.4 497.7 1177.8 498.8 1177.1 499.9 1176.4 501 1175.7 502.1 1175 503.2 1174.3 504.2 1173.5 505.3 1172.8 506.3 1172.1 507.4 1171.3 508.4 1170.6 509.4 1169.8 510.4 1169.1 511.4 1168.3 512.4 1167.5 513.3 1166.7 514.3 1165.9 515.3 1165.1 516.2 1164.3 517.2 1163.5 518.1 1162.7 519 1161.8 519.9 1161 520.8 1160.2 521.7 1159.3 522.6 1158.4 523.4 1157.6 524.3 1156.7 525.1 1155.8 526 1154.9 526.8 1154 527.6 1153.1 528.4 1152.2 529.2 1151.3 530 1150.4 530.8 1149.5 531.6 1148.6 532.3 1147.6 533.1 1146.7 533.8 1145.7 534.5 1144.8 535.2 1143.8 535.9 1142.8 536.6 1141.8 537.3 1140.9 538 1139.9 538.7 1138.9 539.3 1137.9 539.9 1136.9 540.6 1135.9 541.2 1134.8 541.8 1133.8 542.4 1132.8 543 1131.7 543.5 1130.7 544.1 1129.7 544.7 1128.6 545.2 1127.5 545.7 1126.5 546.2 1125.4 546.7 1124.3 547.2 1123.2 547.7 1122.1 548.2 1121.1 548.7 1120 549.1 1118.8 549.5 1117.7 550 1116.6 550.4 1115.5 550.8 1114.4 551.2 1113.2 551.6 1112.1 551.9 1110.9 552.3 1109.8 552.6 1108.6 553 1107.4 553.3 1106.3 553.6 1105.1 553.9 1103.9 554.2 1102.7 554.5 1101.5 554.7 1100.3 555 1099.1 555.2 1097.9 555.5 1096.6 555.7 1095.4 555.9 1094.1 556.1 1092.9 556.3 1091.6 556.4 1090.4 556.6 1089.1 556.7 1087.8 556.9 1086.5 557 1085.2 557.1 1083.8 557.2 1082.5 557.3 1081.1 557.4 1079.7 557.5 1078.3 557.5 1076.8 557.5 1075.4 557.6 1073.8 557.6 1072 557.6 1070.2 557.6 1068.6 557.6 1067.2 557.5 1065.7 557.5 1064.3 557.5 1062.9 557.4 1061.5 557.3 1060.2 557.2 1058.8 557.1 1057.5 557 1056.2 556.9 1054.9 556.7 1053.6 556.6 1052.4 556.4 1051.1 556.3 1049.9 556.1 1048.6 555.9 1047.4 555.7 1046.1 555.5 1044.9 555.2 1043.7 555 1042.5 554.7 1041.3 554.5 1040.1 554.2 1038.9 553.9 1037.7 553.6 1036.6 553.3 1035.4 553 1034.2 552.6 1033.1 552.3 1031.9 551.9 1030.8 551.6 1029.6 551.2 1028.5 550.8 1027.4 550.4 1026.3 550 1025.2 549.5 1024 549.1 1022.9 548.7 1021.9 548.2 1020.8 547.7 1019.7 547.2 1018.6 546.7 1017.5 546.2 1016.5 545.7 1015.4 545.2 1014.3 544.7 1013.3 544.1 1012.3 543.5 1011.2 543 1010.2 542.4 1009.2 541.8 1008.1 541.2 1007.1 540.6 1006.1 539.9 1005.1 539.3 1004.1 538.7 1003.1 538 1002.2 537.3 1001.2 536.6 1000.2 535.9 999.2 535.2 998.3 534.5 997.3 533.8 996.4 533.1 995.4 532.3 994.5 531.6 993.6 530.8 992.7 530 991.8 529.2 990.9 528.4 990 527.6 989.1 526.8 988.2 526 987.3 525.1 986.4 524.3 985.6 523.4 984.7 522.6 983.8 521.7 983 520.8 982.2 519.9 981.3 519 980.5 518.1 979.7 517.2 978.9 516.2 978.1 515.3 977.3 514.3 976.5 513.3 975.7 512.4 974.9 511.4 974.2 510.4 973.4 509.4 972.7 508.4 971.9 507.4 971.2 506.3 970.5 505.3 969.7 504.2 969 503.2 968.3 502.1 967.6 501 966.9 499.9 966.2 498.8 965.6 497.7 964.9 496.6 964.2 495.5 963.6 494.4 962.9 493.2 962.3 492.1 961.7 490.9 961.1 489.8 960.4 488.6 959.8 487.4 959.2 486.2 958.7 485 958.1 483.8 957.5 482.6 956.9 481.4 956.4 480.1 955.8 478.9 955.3 477.7 954.8 476.4 954.3 475.1 953.7 473.9 953.2 472.6 952.7 471.3 952.2 470 951.8 468.7 951.3 467.4 950.8 466.1 950.4 464.8 949.9 463.4 949.5 462.1 949.1 460.7 948.6 459.4 948.2 458 947.8 456.6 947.4 455.3 947.1 453.9 946.7 452.5 946.3 451.1 946 449.7 945.6 448.3 945.3 446.8 944.9 445.4 944.6 444 944.3 442.5 944 441.1 943.7 439.6 943.4 438.1 943.1 436.6 942.9 435.2 942.6 433.7 942.3 432.2 942.1 430.7 941.9 429.1 941.6 427.6 941.4 426.1 941.2 424.5 941 423 940.8 421.4 940.7 419.8 940.5 418.3 940.3 416.7 940.2 415.1 940 413.5 939.9 411.8 939.8 410.2 939.7 408.5 939.6 406.9 939.5 405.2 939.4 403.5 939.3 401.8 939.2 400.1 939.2 398.3 939.1 396.5 939.1 394.7 939 392.8 939 390.9 939 388.9 939 386.6" fill="none" stroke="url(#gW2)" stroke-width="2.4" stroke-linecap="round" stroke-linejoin="round" stroke-opacity="1"/>
<path d="M939 377.1L939 373.9 939.1 371 939.1 368.3 939.1 365.8 939.2 363.4 939.2 361.1 939.3 358.8 939.4 356.7 939.4 354.6 939.5 352.5 939.6 350.5 939.7 348.6 939.8 346.7 939.9 344.8 940 343 940.2 341.2 940.3 339.4 940.4 337.6 940.6 335.9 940.8 334.2 940.9 332.6 941.1 330.9 941.3 329.3 941.4 327.7 941.6 326.1 941.8 324.5 942 323 942.3 321.5 942.5 320 942.7 318.5 942.9 317 943.2 315.6 943.4 314.1 943.7 312.7 943.9 311.3 944.2 309.9 944.5 308.5 944.8 307.1 945.1 305.8 945.4 304.4 945.7 303.1 946 301.8 946.3 300.5 946.6 299.2 947 297.9 947.3 296.7 947.7 295.4 948 294.2 948.4 292.9 948.8 291.7 949.1 290.5 949.5 289.3 949.9 288.1 950.3 287 950.7 285.8 951.1 284.6 951.6 283.5 952 282.4 952.4 281.3 952.9 280.1 953.3 279 953.8 278 954.2 276.9 954.7 275.8 955.2 274.8 955.7 273.7 956.2 272.7 956.7 271.6 957.2 270.6 957.7 269.6 958.2 268.6 958.7 267.6 959.3 266.6 959.8 265.7 960.4 264.7 960.9 263.8 961.5 262.8 962.1 261.9 962.6 261 963.2 260.1 963.8 259.2 964.4 258.3 965 257.4 965.6 256.5 966.3 255.6 966.9 254.8 967.5 253.9 968.2 253.1 968.8 252.3 969.5 251.5 970.1 250.6 970.8 249.8 971.5 249.1 972.2 248.3 972.9 247.5 973.6 246.7 974.3 246 975 245.2 975.7 244.5 976.5 243.8 977.2 243.1 977.9 242.4 978.7 241.7 979.5 241 980.2 240.3 981 239.6 981.8 239 982.6 238.3 983.4 237.7 984.2 237 985 236.4 985.8 235.8 986.7 235.2 987.5 234.6 988.3 234 989.2 233.4 990.1 232.9 990.9 232.3 991.8 231.7 992.7 231.2 993.6 230.7 994.5 230.1 995.4 229.6 996.3 229.1 997.3 228.6 998.2 228.1 999.2 227.7 1000.1 227.2 1001.1 226.7 1002 226.3 1003 225.9 1004 225.4 1005 225 1006 224.6 1007.1 224.2 1008.1 223.8 1009.1 223.4 1010.2 223 1011.3 222.7 1012.3 222.3 1013.4 222 1014.5 221.6 1015.6 221.3 1016.7 221 1017.9 220.7 1019 220.4 1020.2 220.1 1021.4 219.8 1022.5 219.5 1023.7 219.2 1025 219 1026.2 218.7 1027.4 218.5 1028.7 218.3 1030 218.1 1031.3 217.9 1032.6 217.7 1033.9 217.5 1035.3 217.3 1036.7 217.1 1038.1 216.9 1039.5 216.8 1040.9 216.6 1042.4 216.5 1043.9 216.4 1045.5 216.3 1047.1 216.2 1048.7 216.1 1050.4 216 1052.1 215.9 1054 215.8 1055.8 215.8 1057.8 215.7 1059.9 215.7 1062.1 215.6 1064.6 215.6 1067.5 215.6 1072 215.6 1075 215.6 1077.2 215.6 1079.2 215.6 1081.1 215.7 1082.9 215.7 1084.6 215.8 1086.2 215.9 1087.8 215.9 1089.4 216 1090.9 216.1 1092.4 216.2 1093.8 216.3 1095.3 216.5 1096.7 216.6 1098.1 216.8 1099.5 216.9 1100.8 217.1 1102.2 217.3 1103.5 217.5 1104.8 217.7 1106.1 217.9 1107.3 218.1 1108.6 218.4 1109.9 218.6 1111.1 218.9 1112.3 219.1 1113.5 219.4 1114.7 219.7 1115.9 220 1117.1 220.3 1118.3 220.6 1119.4 220.9 1120.6 221.3 1121.7 221.6 1122.9 222 1124 222.3 1125.1 222.7 1126.2 223.1 1127.3 223.5 1128.4 223.9 1129.5 224.3 1130.5 224.7 1131.6 225.2 1132.6 225.6 1133.7 226.1 1134.7 226.6 1135.7 227 1136.8 227.5 1137.8 228 1138.8 228.5 1139.8 229.1 1140.8 229.6 1141.7 230.1 1142.7 230.7 1143.7 231.2 1144.6 231.8 1145.6 232.4 1146.5 233 1147.5 233.6 1148.4 234.2 1149.3 234.8 1150.2 235.4 1151.1 236.1 1152 236.7 1152.9 237.4 1153.8 238.1 1154.7 238.7 1155.5 239.4 1156.4 240.1 1157.3 240.8 1158.1 241.5 1158.9 242.3 1159.8 243 1160.6 243.8 1161.4 244.5 1162.2 245.3 1163 246 1163.8 246.8 1164.6 247.6 1165.4 248.4 1166.2 249.2 1166.9 250.1 1167.7 250.9 1168.4 251.7 1169.2 252.6 1169.9 253.5 1170.7 254.3 1171.4 255.2 1172.1 256.1 1172.8 257 1173.5 257.9 1174.2 258.8 1174.9 259.8 1175.6 260.7 1176.2 261.6 1176.9 262.6 1177.5 263.6 1178.2 264.5 1178.8 265.5 1179.5 266.5 1180.1 267.5 1180.7 268.5 1181.3 269.6 1181.9 270.6 1182.5 271.6 1183.1 272.7 1183.7 273.7 1184.3 274.8 1184.8 275.9 1185.4 277 1185.9 278.1 1186.5 279.2 1187 280.3 1187.5 281.4 1188.1 282.6 1188.6 283.7 1189.1 284.9 1189.6 286 1190.1 287.2 1190.5 288.4 1191 289.6 1191.5 290.8 1191.9 292 1192.4 293.2 1192.8 294.4 1193.3 295.7 1193.7 296.9 1194.1 298.2 1194.5 299.5 1194.9 300.7 1195.3 302 1195.7 303.3 1196.1 304.6 1196.5 306 1196.8 307.3 1197.2 308.6 1197.5 310 1197.9 311.4 1198.2 312.7 1198.5 314.1 1198.9 315.5 1199.2 316.9 1199.5 318.3 1199.8 319.8 1200.1 321.2 1200.3 322.7 1200.6 324.1 1200.9 325.6 1201.1 327.1 1201.4 328.6 1201.6 330.1 1201.8 331.7 1202.1 333.2 1202.3 334.8 1202.5 336.3 1202.7 337.9 1202.9 339.5 1203 341.2 1203.2 342.8 1203.4 344.5 1203.5 346.1 1203.7 347.8 1203.8 349.6 1204 351.3 1204.1 353.1 1204.2 354.9 1204.3 356.7 1204.4 358.5 1204.5 360.4 1204.6 362.3 1204.7 364.3 1204.7 366.3 1204.8 368.3 1204.9 370.5 1204.9 372.6" fill="none" stroke="url(#gW2)" stroke-width="2.4" stroke-linecap="round" stroke-linejoin="round" stroke-opacity="1"/>
<path d="M1199 392.6L1198.9 394.4 1198.9 396.2 1198.8 397.9 1198.8 399.6 1198.7 401.3 1198.6 402.9 1198.6 404.6 1198.5 406.2 1198.4 407.8 1198.3 409.4 1198.1 410.9 1198 412.5 1197.9 414.1 1197.7 415.6 1197.6 417.2 1197.4 418.7 1197.2 420.2 1197.1 421.7 1196.9 423.2 1196.7 424.7 1196.5 426.2 1196.3 427.6 1196 429.1 1195.8 430.6 1195.6 432 1195.3 433.5 1195.1 434.9 1194.8 436.3 1194.5 437.7 1194.2 439.1 1193.9 440.5 1193.6 441.9 1193.3 443.3 1193 444.7 1192.7 446.1 1192.4 447.5 1192 448.8 1191.7 450.2 1191.3 451.5 1190.9 452.9 1190.6 454.2 1190.2 455.5 1189.8 456.8 1189.4 458.1 1189 459.4 1188.6 460.7 1188.1 462 1187.7 463.3 1187.3 464.6 1186.8 465.8 1186.4 467.1 1185.9 468.3 1185.4 469.6 1184.9 470.8 1184.4 472 1183.9 473.3 1183.4 474.5 1182.9 475.7 1182.4 476.9 1181.9 478.1 1181.3 479.2 1180.8 480.4 1180.2 481.6 1179.7 482.7 1179.1 483.9 1178.5 485 1177.9 486.1 1177.3 487.3 1176.7 488.4 1176.1 489.5 1175.5 490.6 1174.9 491.7 1174.3 492.8 1173.6 493.8 1173 494.9 1172.3 496 1171.7 497 1171 498 1170.3 499.1 1169.7 500.1 1169 501.1 1168.3 502.1 1167.6 503.1 1166.9 504.1 1166.1 505.1 1165.4 506 1164.7 507 1163.9 508 1163.2 508.9 1162.4 509.8 1161.7 510.8 1160.9 511.7 1160.1 512.6 1159.4 513.5 1158.6 514.4 1157.8 515.2 1157 516.1 1156.2 517 1155.4 517.8 1154.5 518.6 1153.7 519.5 1152.9 520.3 1152 521.1 1151.2 521.9 1150.3 522.7 1149.5 523.5 1148.6 524.2 1147.7 525 1146.9 525.7 1146 526.5 1145.1 527.2 1144.2 527.9 1143.3 528.6 1142.4 529.3 1141.5 530 1140.6 530.7 1139.6 531.4 1138.7 532 1137.8 532.7 1136.8 533.3 1135.9 533.9 1134.9 534.6 1133.9 535.2 1133 535.8 1132 536.3 1131 536.9 1130 537.5 1129.1 538 1128.1 538.6 1127.1 539.1 1126 539.6 1125 540.1 1124 540.6 1123 541.1 1122 541.6 1120.9 542.1 1119.9 542.5 1118.8 543 1117.8 543.4 1116.7 543.8 1115.7 544.2 1114.6 544.6 1113.5 545 1112.4 545.4 1111.4 545.8 1110.3 546.1 1109.2 546.5 1108.1 546.8 1107 547.1 1105.8 547.5 1104.7 547.8 1103.6 548 1102.5 548.3 1101.3 548.6 1100.2 548.8 1099 549.1 1097.9 549.3 1096.7 549.5 1095.5 549.8 1094.3 550 1093.1 550.1 1091.9 550.3 1090.7 550.5 1089.5 550.6 1088.3 550.8 1087.1 550.9 1085.8 551 1084.6 551.1 1083.3 551.2 1082 551.3 1080.7 551.4 1079.4 551.5 1078 551.5 1076.6 551.5 1075.2 551.6 1073.7 551.6 1072 551.6 1070.3 551.6 1068.8 551.6 1067.4 551.5 1066 551.5 1064.6 551.5 1063.3 551.4 1062 551.3 1060.7 551.2 1059.4 551.1 1058.2 551 1056.9 550.9 1055.7 550.8 1054.5 550.6 1053.3 550.5 1052.1 550.3 1050.9 550.1 1049.7 550 1048.5 549.8 1047.3 549.5 1046.1 549.3 1045 549.1 1043.8 548.8 1042.7 548.6 1041.5 548.3 1040.4 548 1039.3 547.8 1038.2 547.5 1037 547.1 1035.9 546.8 1034.8 546.5 1033.7 546.1 1032.6 545.8 1031.6 545.4 1030.5 545 1029.4 544.6 1028.3 544.2 1027.3 543.8 1026.2 543.4 1025.2 543 1024.1 542.5 1023.1 542.1 1022 541.6 1021 541.1 1020 540.6 1019 540.1 1018 539.6 1016.9 539.1 1015.9 538.6 1014.9 538 1014 537.5 1013 536.9 1012 536.3 1011 535.8 1010.1 535.2 1009.1 534.6 1008.1 533.9 1007.2 533.3 1006.2 532.7 1005.3 532 1004.4 531.4 1003.4 530.7 1002.5 530 1001.6 529.3 1000.7 528.6 999.8 527.9 998.9 527.2 998 526.5 997.1 525.7 996.3 525 995.4 524.2 994.5 523.5 993.7 522.7 992.8 521.9 992 521.1 991.1 520.3 990.3 519.5 989.5 518.6 988.6 517.8 987.8 517 987 516.1 986.2 515.2 985.4 514.4 984.6 513.5 983.9 512.6 983.1 511.7 982.3 510.8 981.6 509.8 980.8 508.9 980.1 508 979.3 507 978.6 506 977.9 505.1 977.1 504.1 976.4 503.1 975.7 502.1 975 501.1 974.3 500.1 973.7 499.1 973 498 972.3 497 971.7 496 971 494.9 970.4 493.8 969.7 492.8 969.1 491.7 968.5 490.6 967.9 489.5 967.3 488.4 966.7 487.3 966.1 486.1 965.5 485 964.9 483.9 964.3 482.7 963.8 481.6 963.2 480.4 962.7 479.2 962.1 478.1 961.6 476.9 961.1 475.7 960.6 474.5 960.1 473.3 959.6 472 959.1 470.8 958.6 469.6 958.1 468.3 957.6 467.1 957.2 465.8 956.7 464.6 956.3 463.3 955.9 462 955.4 460.7 955 459.4 954.6 458.1 954.2 456.8 953.8 455.5 953.4 454.2 953.1 452.9 952.7 451.5 952.3 450.2 952 448.8 951.6 447.5 951.3 446.1 951 444.7 950.7 443.3 950.4 441.9 950.1 440.5 949.8 439.1 949.5 437.7 949.2 436.3 948.9 434.9 948.7 433.5 948.4 432 948.2 430.6 948 429.1 947.7 427.6 947.5 426.2 947.3 424.7 947.1 423.2 946.9 421.7 946.8 420.2 946.6 418.7 946.4 417.2 946.3 415.6 946.1 414.1 946 412.5 945.9 410.9 945.7 409.4 945.6 407.8 945.5 406.2 945.4 404.6 945.4 402.9 945.3 401.3 945.2 399.6 945.2 397.9 945.1 396.2 945.1 394.4 945 392.6 945 390.8 945 388.8 945 386.6" fill="none" stroke="#8a8e95" stroke-width="1.8" stroke-linecap="round" stroke-linejoin="round" stroke-opacity="0.9"/>
<path d="M945 377.4L945 374.4 945.1 371.6 945.1 369 945.1 366.5 945.2 364.2 945.2 362 945.3 359.8 945.3 357.7 945.4 355.7 945.5 353.7 945.6 351.8 945.7 349.9 945.8 348.1 945.9 346.3 946 344.5 946.1 342.7 946.2 341 946.4 339.4 946.5 337.7 946.7 336.1 946.8 334.5 947 332.9 947.2 331.3 947.3 329.8 947.5 328.2 947.7 326.7 947.9 325.2 948.1 323.8 948.3 322.3 948.5 320.9 948.8 319.5 949 318 949.2 316.7 949.5 315.3 949.7 313.9 950 312.6 950.2 311.2 950.5 309.9 950.8 308.6 951.1 307.3 951.4 306 951.7 304.8 952 303.5 952.3 302.3 952.6 301 952.9 299.8 953.3 298.6 953.6 297.4 954 296.2 954.3 295.1 954.7 293.9 955 292.7 955.4 291.6 955.8 290.5 956.2 289.3 956.6 288.2 957 287.1 957.4 286 957.8 285 958.2 283.9 958.7 282.8 959.1 281.8 959.5 280.7 960 279.7 960.5 278.7 960.9 277.7 961.4 276.7 961.9 275.7 962.4 274.7 962.8 273.7 963.3 272.8 963.8 271.8 964.4 270.9 964.9 269.9 965.4 269 965.9 268.1 966.5 267.2 967 266.3 967.6 265.4 968.1 264.5 968.7 263.6 969.3 262.8 969.8 261.9 970.4 261.1 971 260.2 971.6 259.4 972.2 258.6 972.8 257.8 973.5 257 974.1 256.2 974.7 255.4 975.4 254.6 976 253.9 976.7 253.1 977.3 252.4 978 251.6 978.7 250.9 979.4 250.2 980.1 249.5 980.8 248.8 981.5 248.1 982.2 247.4 982.9 246.7 983.6 246.1 984.4 245.4 985.1 244.8 985.9 244.1 986.6 243.5 987.4 242.9 988.2 242.3 988.9 241.7 989.7 241.1 990.5 240.5 991.3 239.9 992.1 239.4 992.9 238.8 993.8 238.3 994.6 237.7 995.4 237.2 996.3 236.7 997.1 236.1 998 235.6 998.9 235.1 999.8 234.7 1000.6 234.2 1001.5 233.7 1002.4 233.2 1003.4 232.8 1004.3 232.4 1005.2 231.9 1006.1 231.5 1007.1 231.1 1008.1 230.7 1009 230.3 1010 229.9 1011 229.5 1012 229.1 1013 228.8 1014 228.4 1015 228.1 1016.1 227.7 1017.1 227.4 1018.2 227.1 1019.2 226.8 1020.3 226.5 1021.4 226.2 1022.5 225.9 1023.6 225.6 1024.8 225.4 1025.9 225.1 1027.1 224.9 1028.2 224.6 1029.4 224.4 1030.6 224.2 1031.9 224 1033.1 223.8 1034.4 223.6 1035.6 223.4 1036.9 223.2 1038.2 223.1 1039.6 222.9 1041 222.7 1042.3 222.6 1043.8 222.5 1045.2 222.4 1046.7 222.2 1048.2 222.1 1049.8 222 1051.4 222 1053 221.9 1054.8 221.8 1056.6 221.8 1058.4 221.7 1060.4 221.7 1062.6 221.6 1065 221.6 1067.7 221.6 1072 221.6 1074.9 221.6 1077 221.6 1078.9 221.6 1080.7 221.7 1082.4 221.7 1084 221.8 1085.6 221.8 1087.1 221.9 1088.6 222 1090 222.1 1091.5 222.2 1092.9 222.3 1094.2 222.4 1095.6 222.6 1096.9 222.7 1098.2 222.9 1099.5 223.1 1100.8 223.2 1102.1 223.4 1103.3 223.6 1104.5 223.8 1105.8 224 1107 224.3 1108.1 224.5 1109.3 224.7 1110.5 225 1111.7 225.3 1112.8 225.5 1113.9 225.8 1115.1 226.1 1116.2 226.4 1117.3 226.7 1118.4 227.1 1119.5 227.4 1120.6 227.7 1121.6 228.1 1122.7 228.5 1123.8 228.8 1124.8 229.2 1125.8 229.6 1126.9 230 1127.9 230.4 1128.9 230.9 1129.9 231.3 1130.9 231.7 1131.9 232.2 1132.9 232.6 1133.8 233.1 1134.8 233.6 1135.8 234.1 1136.7 234.6 1137.7 235.1 1138.6 235.6 1139.5 236.2 1140.4 236.7 1141.4 237.2 1142.3 237.8 1143.2 238.4 1144.1 238.9 1144.9 239.5 1145.8 240.1 1146.7 240.7 1147.6 241.4 1148.4 242 1149.3 242.6 1150.1 243.3 1150.9 243.9 1151.8 244.6 1152.6 245.3 1153.4 245.9 1154.2 246.6 1155 247.3 1155.8 248 1156.6 248.8 1157.4 249.5 1158.2 250.2 1158.9 251 1159.7 251.7 1160.4 252.5 1161.2 253.3 1161.9 254.1 1162.6 254.9 1163.4 255.7 1164.1 256.5 1164.8 257.3 1165.5 258.1 1166.2 259 1166.9 259.8 1167.6 260.7 1168.2 261.6 1168.9 262.4 1169.6 263.3 1170.2 264.2 1170.9 265.1 1171.5 266 1172.2 267 1172.8 267.9 1173.4 268.8 1174 269.8 1174.6 270.7 1175.2 271.7 1175.8 272.7 1176.4 273.7 1177 274.7 1177.5 275.7 1178.1 276.7 1178.6 277.7 1179.2 278.7 1179.7 279.8 1180.3 280.8 1180.8 281.9 1181.3 283 1181.8 284 1182.3 285.1 1182.8 286.2 1183.3 287.3 1183.8 288.4 1184.3 289.6 1184.7 290.7 1185.2 291.8 1185.6 293 1186.1 294.1 1186.5 295.3 1187 296.5 1187.4 297.7 1187.8 298.9 1188.2 300.1 1188.6 301.3 1189 302.5 1189.4 303.8 1189.8 305 1190.1 306.3 1190.5 307.5 1190.9 308.8 1191.2 310.1 1191.5 311.4 1191.9 312.7 1192.2 314 1192.5 315.3 1192.8 316.7 1193.1 318 1193.4 319.4 1193.7 320.7 1194 322.1 1194.3 323.5 1194.5 324.9 1194.8 326.3 1195 327.7 1195.3 329.2 1195.5 330.6 1195.8 332.1 1196 333.6 1196.2 335.1 1196.4 336.6 1196.6 338.1 1196.8 339.6 1197 341.2 1197.1 342.8 1197.3 344.3 1197.5 345.9 1197.6 347.6 1197.7 349.2 1197.9 350.9 1198 352.5 1198.1 354.2 1198.2 356 1198.3 357.7 1198.4 359.5 1198.5 361.3 1198.6 363.2 1198.7 365.1 1198.8 367 1198.8 369 1198.9 371 1198.9 373.1" fill="none" stroke="#8a8e95" stroke-width="1.8" stroke-linecap="round" stroke-linejoin="round" stroke-opacity="0.9"/>
<path d="M1190 392.3L1189.9 394 1189.9 395.7 1189.9 397.3 1189.8 398.9 1189.7 400.5 1189.7 402.1 1189.6 403.6 1189.5 405.2 1189.4 406.7 1189.3 408.2 1189.2 409.7 1189.1 411.2 1189 412.7 1188.8 414.1 1188.7 415.6 1188.5 417 1188.4 418.5 1188.2 419.9 1188 421.3 1187.8 422.7 1187.7 424.1 1187.5 425.5 1187.2 426.9 1187 428.3 1186.8 429.7 1186.6 431 1186.3 432.4 1186.1 433.8 1185.8 435.1 1185.6 436.4 1185.3 437.8 1185 439.1 1184.7 440.4 1184.4 441.7 1184.1 443 1183.8 444.3 1183.5 445.6 1183.2 446.9 1182.9 448.2 1182.5 449.4 1182.2 450.7 1181.8 452 1181.4 453.2 1181.1 454.4 1180.7 455.7 1180.3 456.9 1179.9 458.1 1179.5 459.3 1179.1 460.5 1178.7 461.7 1178.2 462.9 1177.8 464.1 1177.4 465.3 1176.9 466.5 1176.5 467.6 1176 468.8 1175.5 469.9 1175.1 471.1 1174.6 472.2 1174.1 473.3 1173.6 474.5 1173.1 475.6 1172.6 476.7 1172 477.8 1171.5 478.9 1171 479.9 1170.4 481 1169.9 482.1 1169.3 483.1 1168.8 484.2 1168.2 485.2 1167.6 486.3 1167 487.3 1166.4 488.3 1165.8 489.3 1165.2 490.3 1164.6 491.3 1164 492.3 1163.4 493.3 1162.7 494.3 1162.1 495.2 1161.4 496.2 1160.8 497.1 1160.1 498 1159.5 499 1158.8 499.9 1158.1 500.8 1157.4 501.7 1156.7 502.6 1156 503.5 1155.3 504.4 1154.6 505.2 1153.9 506.1 1153.2 506.9 1152.4 507.8 1151.7 508.6 1151 509.4 1150.2 510.2 1149.5 511 1148.7 511.8 1147.9 512.6 1147.1 513.4 1146.4 514.2 1145.6 514.9 1144.8 515.7 1144 516.4 1143.2 517.1 1142.4 517.9 1141.6 518.6 1140.7 519.3 1139.9 520 1139.1 520.7 1138.2 521.3 1137.4 522 1136.6 522.6 1135.7 523.3 1134.8 523.9 1134 524.5 1133.1 525.2 1132.2 525.8 1131.3 526.4 1130.5 526.9 1129.6 527.5 1128.7 528.1 1127.8 528.6 1126.8 529.2 1125.9 529.7 1125 530.2 1124.1 530.7 1123.2 531.3 1122.2 531.7 1121.3 532.2 1120.3 532.7 1119.4 533.2 1118.4 533.6 1117.5 534.1 1116.5 534.5 1115.5 534.9 1114.5 535.3 1113.6 535.7 1112.6 536.1 1111.6 536.5 1110.6 536.9 1109.6 537.2 1108.6 537.6 1107.6 537.9 1106.5 538.2 1105.5 538.6 1104.5 538.9 1103.4 539.2 1102.4 539.4 1101.4 539.7 1100.3 540 1099.2 540.2 1098.2 540.5 1097.1 540.7 1096 540.9 1094.9 541.1 1093.9 541.3 1092.8 541.5 1091.6 541.7 1090.5 541.9 1089.4 542 1088.3 542.2 1087.1 542.3 1086 542.4 1084.8 542.6 1083.7 542.7 1082.5 542.8 1081.3 542.8 1080.1 542.9 1078.8 543 1077.6 543 1076.3 543.1 1075 543.1 1073.6 543.1 1072 543.1 1070.4 543.1 1069 543.1 1067.7 543.1 1066.4 543 1065.2 543 1063.9 542.9 1062.7 542.8 1061.5 542.8 1060.3 542.7 1059.2 542.6 1058 542.4 1056.9 542.3 1055.7 542.2 1054.6 542 1053.5 541.9 1052.4 541.7 1051.2 541.5 1050.1 541.3 1049.1 541.1 1048 540.9 1046.9 540.7 1045.8 540.5 1044.8 540.2 1043.7 540 1042.6 539.7 1041.6 539.4 1040.6 539.2 1039.5 538.9 1038.5 538.6 1037.5 538.2 1036.4 537.9 1035.4 537.6 1034.4 537.2 1033.4 536.9 1032.4 536.5 1031.4 536.1 1030.4 535.7 1029.5 535.3 1028.5 534.9 1027.5 534.5 1026.5 534.1 1025.6 533.6 1024.6 533.2 1023.7 532.7 1022.7 532.2 1021.8 531.7 1020.8 531.3 1019.9 530.7 1019 530.2 1018.1 529.7 1017.2 529.2 1016.2 528.6 1015.3 528.1 1014.4 527.5 1013.5 526.9 1012.7 526.4 1011.8 525.8 1010.9 525.2 1010 524.5 1009.2 523.9 1008.3 523.3 1007.4 522.6 1006.6 522 1005.8 521.3 1004.9 520.7 1004.1 520 1003.3 519.3 1002.4 518.6 1001.6 517.9 1000.8 517.1 1000 516.4 999.2 515.7 998.4 514.9 997.6 514.2 996.9 513.4 996.1 512.6 995.3 511.8 994.5 511 993.8 510.2 993 509.4 992.3 508.6 991.6 507.8 990.8 506.9 990.1 506.1 989.4 505.2 988.7 504.4 988 503.5 987.3 502.6 986.6 501.7 985.9 500.8 985.2 499.9 984.5 499 983.9 498 983.2 497.1 982.6 496.2 981.9 495.2 981.3 494.3 980.6 493.3 980 492.3 979.4 491.3 978.8 490.3 978.2 489.3 977.6 488.3 977 487.3 976.4 486.3 975.8 485.2 975.2 484.2 974.7 483.1 974.1 482.1 973.6 481 973 479.9 972.5 478.9 972 477.8 971.4 476.7 970.9 475.6 970.4 474.5 969.9 473.3 969.4 472.2 968.9 471.1 968.5 469.9 968 468.8 967.5 467.6 967.1 466.5 966.6 465.3 966.2 464.1 965.8 462.9 965.3 461.7 964.9 460.5 964.5 459.3 964.1 458.1 963.7 456.9 963.3 455.7 962.9 454.4 962.6 453.2 962.2 452 961.8 450.7 961.5 449.4 961.1 448.2 960.8 446.9 960.5 445.6 960.2 444.3 959.9 443 959.6 441.7 959.3 440.4 959 439.1 958.7 437.8 958.4 436.4 958.2 435.1 957.9 433.8 957.7 432.4 957.4 431 957.2 429.7 957 428.3 956.8 426.9 956.5 425.5 956.3 424.1 956.2 422.7 956 421.3 955.8 419.9 955.6 418.5 955.5 417 955.3 415.6 955.2 414.1 955 412.7 954.9 411.2 954.8 409.7 954.7 408.2 954.6 406.7 954.5 405.2 954.4 403.6 954.3 402.1 954.3 400.5 954.2 398.9 954.1 397.3 954.1 395.7 954.1 394 954 392.3" fill="none" stroke="#e8723a" stroke-width="2.4" stroke-linecap="round" stroke-linejoin="round" stroke-opacity="1"/>
<path d="M954.1 372.4L954.1 369.9 954.1 367.6 954.2 365.4 954.2 363.2 954.3 361.2 954.3 359.2 954.4 357.3 954.5 355.4 954.5 353.6 954.6 351.8 954.7 350.1 954.8 348.3 954.9 346.7 955 345 955.2 343.4 955.3 341.8 955.4 340.2 955.6 338.7 955.7 337.1 955.8 335.6 956 334.1 956.2 332.7 956.3 331.2 956.5 329.8 956.7 328.4 956.9 327 957.1 325.6 957.3 324.3 957.5 322.9 957.7 321.6 957.9 320.3 958.2 319 958.4 317.7 958.6 316.4 958.9 315.1 959.1 313.9 959.4 312.6 959.7 311.4 959.9 310.2 960.2 309 960.5 307.8 960.8 306.6 961.1 305.4 961.4 304.3 961.7 303.1 962 302 962.3 300.9 962.7 299.8 963 298.7 963.3 297.6 963.7 296.5 964 295.4 964.4 294.3 964.8 293.3 965.1 292.2 965.5 291.2 965.9 290.2 966.3 289.2 966.7 288.2 967.1 287.2 967.5 286.2 967.9 285.2 968.4 284.2 968.8 283.3 969.2 282.3 969.7 281.4 970.1 280.5 970.6 279.5 971 278.6 971.5 277.7 972 276.8 972.5 275.9 973 275 973.4 274.2 973.9 273.3 974.5 272.5 975 271.6 975.5 270.8 976 270 976.5 269.1 977.1 268.3 977.6 267.5 978.2 266.7 978.7 266 979.3 265.2 979.9 264.4 980.5 263.7 981 262.9 981.6 262.2 982.2 261.4 982.8 260.7 983.4 260 984.1 259.3 984.7 258.6 985.3 257.9 985.9 257.2 986.6 256.6 987.2 255.9 987.9 255.2 988.6 254.6 989.2 254 989.9 253.3 990.6 252.7 991.3 252.1 992 251.5 992.7 250.9 993.4 250.3 994.1 249.7 994.8 249.1 995.5 248.6 996.3 248 997 247.5 997.8 246.9 998.5 246.4 999.3 245.9 1000.1 245.4 1000.9 244.9 1001.6 244.4 1002.4 243.9 1003.2 243.4 1004.1 242.9 1004.9 242.5 1005.7 242 1006.5 241.6 1007.4 241.1 1008.2 240.7 1009.1 240.3 1009.9 239.9 1010.8 239.5 1011.7 239.1 1012.6 238.7 1013.5 238.3 1014.4 238 1015.3 237.6 1016.2 237.2 1017.2 236.9 1018.1 236.6 1019.1 236.2 1020 235.9 1021 235.6 1022 235.3 1023 235 1024 234.7 1025 234.5 1026 234.2 1027.1 233.9 1028.1 233.7 1029.2 233.4 1030.3 233.2 1031.3 233 1032.5 232.8 1033.6 232.6 1034.7 232.4 1035.9 232.2 1037 232 1038.2 231.8 1039.4 231.6 1040.6 231.5 1041.9 231.3 1043.2 231.2 1044.4 231.1 1045.8 230.9 1047.1 230.8 1048.5 230.7 1049.9 230.6 1051.3 230.5 1052.8 230.4 1054.4 230.4 1056 230.3 1057.7 230.3 1059.4 230.2 1061.3 230.2 1063.3 230.1 1065.5 230.1 1068 230.1 1072 230.1 1074.7 230.1 1076.6 230.1 1078.4 230.1 1080.1 230.2 1081.6 230.2 1083.1 230.3 1084.6 230.3 1086 230.4 1087.4 230.5 1088.8 230.6 1090.1 230.7 1091.4 230.8 1092.7 230.9 1093.9 231 1095.1 231.2 1096.4 231.3 1097.6 231.5 1098.8 231.6 1099.9 231.8 1101.1 232 1102.2 232.2 1103.4 232.4 1104.5 232.6 1105.6 232.8 1106.7 233.1 1107.8 233.3 1108.8 233.6 1109.9 233.8 1111 234.1 1112 234.4 1113.1 234.7 1114.1 235 1115.1 235.3 1116.1 235.6 1117.1 235.9 1118.1 236.3 1119.1 236.6 1120.1 237 1121.1 237.3 1122 237.7 1123 238.1 1123.9 238.5 1124.9 238.9 1125.8 239.3 1126.7 239.7 1127.6 240.1 1128.6 240.6 1129.5 241 1130.4 241.5 1131.2 241.9 1132.1 242.4 1133 242.9 1133.9 243.4 1134.7 243.9 1135.6 244.4 1136.4 244.9 1137.3 245.5 1138.1 246 1139 246.6 1139.8 247.1 1140.6 247.7 1141.4 248.3 1142.2 248.8 1143 249.4 1143.8 250 1144.6 250.6 1145.3 251.3 1146.1 251.9 1146.9 252.5 1147.6 253.2 1148.4 253.8 1149.1 254.5 1149.9 255.2 1150.6 255.9 1151.3 256.6 1152 257.3 1152.8 258 1153.5 258.7 1154.2 259.4 1154.9 260.2 1155.5 260.9 1156.2 261.6 1156.9 262.4 1157.6 263.2 1158.2 264 1158.9 264.8 1159.5 265.6 1160.2 266.4 1160.8 267.2 1161.4 268 1162 268.8 1162.7 269.7 1163.3 270.5 1163.9 271.4 1164.5 272.2 1165.1 273.1 1165.6 274 1166.2 274.9 1166.8 275.8 1167.3 276.7 1167.9 277.6 1168.4 278.6 1169 279.5 1169.5 280.4 1170.1 281.4 1170.6 282.3 1171.1 283.3 1171.6 284.3 1172.1 285.3 1172.6 286.3 1173.1 287.3 1173.6 288.3 1174 289.3 1174.5 290.3 1175 291.4 1175.4 292.4 1175.9 293.5 1176.3 294.6 1176.7 295.6 1177.2 296.7 1177.6 297.8 1178 298.9 1178.4 300 1178.8 301.1 1179.2 302.3 1179.6 303.4 1180 304.5 1180.3 305.7 1180.7 306.9 1181.1 308 1181.4 309.2 1181.8 310.4 1182.1 311.6 1182.4 312.8 1182.8 314 1183.1 315.3 1183.4 316.5 1183.7 317.7 1184 319 1184.3 320.3 1184.6 321.5 1184.8 322.8 1185.1 324.1 1185.4 325.4 1185.6 326.8 1185.9 328.1 1186.1 329.4 1186.3 330.8 1186.6 332.1 1186.8 333.5 1187 334.9 1187.2 336.3 1187.4 337.7 1187.6 339.2 1187.8 340.6 1187.9 342.1 1188.1 343.5 1188.3 345 1188.4 346.5 1188.6 348 1188.7 349.6 1188.8 351.1 1189 352.7 1189.1 354.3 1189.2 355.9 1189.3 357.5 1189.4 359.2 1189.5 360.9 1189.6 362.6 1189.6 364.4 1189.7 366.2 1189.8 368 1189.8 369.9 1189.9 371.8 1189.9 373.8" fill="none" stroke="#e8723a" stroke-width="2.4" stroke-linecap="round" stroke-linejoin="round" stroke-opacity="1"/>
<g fill="none" stroke="#8a8e95" stroke-width="1.3" stroke-opacity="0.85">
<path d="M992.6 291.6L993.1 289 993.9 286.4 994.8 283.8 996 281.3 997.3 278.8 998.8 276.4 1000.5 274.1 1002.3 271.8 1004.3 269.7 1006.4 267.6 1008.7 265.7 1011.2 263.8 1013.8 262.1 1016.5 260.5 1019.3 259 1022.2 257.6 1025.2 256.4 1028.3 255.3 1031.4 254.4 1034.7 253.6 1037.9 253 1041.3 252.5 1044.6 252.2 1048 252" fill="none" stroke="#8a8e95" stroke-width="4.8" stroke-linecap="round" stroke-linejoin="round" stroke-opacity="0.9"/>
<path d="M992.6 291.6L993.1 289 993.9 286.4 994.8 283.8 996 281.3 997.3 278.8 998.8 276.4 1000.5 274.1 1002.3 271.8 1004.3 269.7 1006.4 267.6 1008.7 265.7 1011.2 263.8 1013.8 262.1 1016.5 260.5 1019.3 259 1022.2 257.6 1025.2 256.4 1028.3 255.3 1031.4 254.4 1034.7 253.6 1037.9 253 1041.3 252.5 1044.6 252.2 1048 252" fill="none" stroke="#181b21" stroke-width="2" stroke-linecap="round" stroke-linejoin="round"/>
<path d="M1000.8 291.4L1001.3 289.5 1001.9 287.5 1002.7 285.6 1003.6 283.8 1004.7 281.9 1005.9 280.2 1007.1 278.4 1008.5 276.8 1010.1 275.1 1011.7 273.6 1013.4 272.1 1015.3 270.7 1017.2 269.3 1019.2 268.1 1021.3 266.9 1023.5 265.8 1025.8 264.8 1028.1 263.8 1030.5 263 1032.9 262.3 1035.4 261.7 1037.9 261.1 1040.5 260.7 1043 260.4" fill="none" stroke="#8a8e95" stroke-width="4.8" stroke-linecap="round" stroke-linejoin="round" stroke-opacity="0.9"/>
<path d="M1000.8 291.4L1001.3 289.5 1001.9 287.5 1002.7 285.6 1003.6 283.8 1004.7 281.9 1005.9 280.2 1007.1 278.4 1008.5 276.8 1010.1 275.1 1011.7 273.6 1013.4 272.1 1015.3 270.7 1017.2 269.3 1019.2 268.1 1021.3 266.9 1023.5 265.8 1025.8 264.8 1028.1 263.8 1030.5 263 1032.9 262.3 1035.4 261.7 1037.9 261.1 1040.5 260.7 1043 260.4" fill="none" stroke="#181b21" stroke-width="2" stroke-linecap="round" stroke-linejoin="round"/>
<path d="M1009.2 290.7L1009.7 289.5 1010.3 288.2 1011 286.9 1011.7 285.7 1012.5 284.5 1013.4 283.3 1014.3 282.2 1015.3 281.1 1016.4 280 1017.6 279 1018.8 277.9 1020 277 1021.4 276 1022.8 275.2 1024.2 274.3 1025.7 273.5 1027.3 272.8 1028.8 272.1 1030.5 271.4 1032.1 270.8 1033.8 270.3 1035.6 269.8 1037.3 269.4 1039.1 269" fill="none" stroke="#8a8e95" stroke-width="4.8" stroke-linecap="round" stroke-linejoin="round" stroke-opacity="0.9"/>
<path d="M1009.2 290.7L1009.7 289.5 1010.3 288.2 1011 286.9 1011.7 285.7 1012.5 284.5 1013.4 283.3 1014.3 282.2 1015.3 281.1 1016.4 280 1017.6 279 1018.8 277.9 1020 277 1021.4 276 1022.8 275.2 1024.2 274.3 1025.7 273.5 1027.3 272.8 1028.8 272.1 1030.5 271.4 1032.1 270.8 1033.8 270.3 1035.6 269.8 1037.3 269.4 1039.1 269" fill="none" stroke="#181b21" stroke-width="2" stroke-linecap="round" stroke-linejoin="round"/>
<path d="M1017.7 291.2L1018.1 290.4 1018.6 289.6 1019.1 288.9 1019.6 288.1 1020.2 287.4 1020.9 286.7 1021.5 286 1022.3 285.3 1023 284.6 1023.8 284 1024.7 283.3 1025.5 282.7 1026.5 282.1 1027.4 281.6 1028.4 281 1029.4 280.5 1030.4 280 1031.5 279.5 1032.6 279.1 1033.7 278.7 1034.8 278.3 1036 278 1037.2 277.6 1038.4 277.3" fill="none" stroke="#8a8e95" stroke-width="4.8" stroke-linecap="round" stroke-linejoin="round" stroke-opacity="0.9"/>
<path d="M1017.7 291.2L1018.1 290.4 1018.6 289.6 1019.1 288.9 1019.6 288.1 1020.2 287.4 1020.9 286.7 1021.5 286 1022.3 285.3 1023 284.6 1023.8 284 1024.7 283.3 1025.5 282.7 1026.5 282.1 1027.4 281.6 1028.4 281 1029.4 280.5 1030.4 280 1031.5 279.5 1032.6 279.1 1033.7 278.7 1034.8 278.3 1036 278 1037.2 277.6 1038.4 277.3" fill="none" stroke="#181b21" stroke-width="2" stroke-linecap="round" stroke-linejoin="round"/>
<circle cx="995" cy="297" r="2" />
<circle cx="1012" cy="261" r="2.2" />
<path d="M989 439.1L989.3 442.8 989.8 446.6 990.5 450.2 991.5 453.9 992.6 457.4 994.1 460.9 995.7 464.3 997.5 467.6 999.6 470.8 1001.8 473.8 1004.3 476.7 1006.9 479.4 1009.6 482 1012.6 484.4 1015.7 486.6 1018.9 488.6 1022.2 490.4 1025.7 492 1029.2 493.4 1032.8 494.6 1036.5 495.5 1040.3 496.2 1044.1 496.7 1047.9 497" fill="none" stroke="#8a8e95" stroke-width="4.8" stroke-linecap="round" stroke-linejoin="round" stroke-opacity="0.9"/>
<path d="M989 439.1L989.3 442.8 989.8 446.6 990.5 450.2 991.5 453.9 992.6 457.4 994.1 460.9 995.7 464.3 997.5 467.6 999.6 470.8 1001.8 473.8 1004.3 476.7 1006.9 479.4 1009.6 482 1012.6 484.4 1015.7 486.6 1018.9 488.6 1022.2 490.4 1025.7 492 1029.2 493.4 1032.8 494.6 1036.5 495.5 1040.3 496.2 1044.1 496.7 1047.9 497" fill="none" stroke="#181b21" stroke-width="2" stroke-linecap="round" stroke-linejoin="round"/>
<path d="M998.2 441.4L998.5 444.1 999 446.8 999.6 449.4 1000.4 452 1001.3 454.6 1002.4 457.1 1003.6 459.6 1005 462 1006.5 464.3 1008.1 466.6 1009.8 468.7 1011.7 470.8 1013.6 472.7 1015.7 474.6 1017.9 476.3 1020.2 478 1022.5 479.5 1025 480.8 1027.5 482.1 1030.1 483.2 1032.7 484.2 1035.4 485 1038.2 485.7 1041 486.2" fill="none" stroke="#8a8e95" stroke-width="4.8" stroke-linecap="round" stroke-linejoin="round" stroke-opacity="0.9"/>
<path d="M998.2 441.4L998.5 444.1 999 446.8 999.6 449.4 1000.4 452 1001.3 454.6 1002.4 457.1 1003.6 459.6 1005 462 1006.5 464.3 1008.1 466.6 1009.8 468.7 1011.7 470.8 1013.6 472.7 1015.7 474.6 1017.9 476.3 1020.2 478 1022.5 479.5 1025 480.8 1027.5 482.1 1030.1 483.2 1032.7 484.2 1035.4 485 1038.2 485.7 1041 486.2" fill="none" stroke="#181b21" stroke-width="2" stroke-linecap="round" stroke-linejoin="round"/>
<path d="M1007.7 443.9L1008.1 445.8 1008.5 447.6 1009.1 449.4 1009.8 451.2 1010.6 453 1011.4 454.7 1012.4 456.4 1013.4 458 1014.5 459.6 1015.7 461.1 1017 462.6 1018.3 464 1019.7 465.4 1021.2 466.7 1022.7 467.9 1024.3 469.1 1026 470.2 1027.7 471.2 1029.5 472.1 1031.3 473 1033.1 473.8 1035 474.5 1036.9 475.1 1038.9 475.6" fill="none" stroke="#8a8e95" stroke-width="4.8" stroke-linecap="round" stroke-linejoin="round" stroke-opacity="0.9"/>
<path d="M1007.7 443.9L1008.1 445.8 1008.5 447.6 1009.1 449.4 1009.8 451.2 1010.6 453 1011.4 454.7 1012.4 456.4 1013.4 458 1014.5 459.6 1015.7 461.1 1017 462.6 1018.3 464 1019.7 465.4 1021.2 466.7 1022.7 467.9 1024.3 469.1 1026 470.2 1027.7 471.2 1029.5 472.1 1031.3 473 1033.1 473.8 1035 474.5 1036.9 475.1 1038.9 475.6" fill="none" stroke="#181b21" stroke-width="2" stroke-linecap="round" stroke-linejoin="round"/>
<path d="M1017.2 444.8L1017.5 445.9 1018 447.1 1018.4 448.2 1019 449.3 1019.6 450.4 1020.2 451.4 1020.9 452.5 1021.6 453.5 1022.4 454.5 1023.2 455.4 1024 456.4 1024.9 457.3 1025.9 458.1 1026.8 459 1027.9 459.8 1028.9 460.5 1030 461.3 1031.1 461.9 1032.3 462.6 1033.4 463.2 1034.6 463.8 1035.9 464.3 1037.1 464.8 1038.4 465.2" fill="none" stroke="#8a8e95" stroke-width="4.8" stroke-linecap="round" stroke-linejoin="round" stroke-opacity="0.9"/>
<path d="M1017.2 444.8L1017.5 445.9 1018 447.1 1018.4 448.2 1019 449.3 1019.6 450.4 1020.2 451.4 1020.9 452.5 1021.6 453.5 1022.4 454.5 1023.2 455.4 1024 456.4 1024.9 457.3 1025.9 458.1 1026.8 459 1027.9 459.8 1028.9 460.5 1030 461.3 1031.1 461.9 1032.3 462.6 1033.4 463.2 1034.6 463.8 1035.9 464.3 1037.1 464.8 1038.4 465.2" fill="none" stroke="#181b21" stroke-width="2" stroke-linecap="round" stroke-linejoin="round"/>
<circle cx="1016" cy="462" r="6.5" />
<ellipse cx="994.5" cy="489.7" rx="11" ry="7" transform="rotate(40 994.5 489.7)"/>
<circle cx="1012" cy="498" r="4.5" />
<circle cx="985" cy="471" r="3.5" />
<circle cx="1152.7" cy="305" r="9.2" stroke-width="1.6"/>
<circle cx="978.4" cy="332.3" r="6.8" stroke-width="1.6"/>
<circle cx="1136" cy="490" r="7" stroke-width="1.6"/>
</g>
<circle cx="1070.3" cy="246" r="1.6" fill="#8a8e95" fill-opacity="0.8"/>
<circle cx="1052" cy="262.8" r="1.5" fill="#8a8e95" fill-opacity="0.8"/>
<circle cx="1112.7" cy="294.8" r="1.5" fill="#8a8e95" fill-opacity="0.8"/>
<circle cx="981.6" cy="307.5" r="2" fill="#8a8e95" fill-opacity="0.8"/>
<circle cx="1008" cy="321" r="1.8" fill="#8a8e95" fill-opacity="0.8"/>
<circle cx="1167" cy="333" r="1.5" fill="#8a8e95" fill-opacity="0.8"/>
<circle cx="1168" cy="429" r="1.5" fill="#8a8e95" fill-opacity="0.8"/>
<circle cx="1036" cy="488" r="1.6" fill="#8a8e95" fill-opacity="0.8"/>
<circle cx="1118" cy="443" r="1.5" fill="#8a8e95" fill-opacity="0.8"/>
<circle cx="1037" cy="519" r="2" fill="#8a8e95" fill-opacity="0.8"/>
<circle cx="976" cy="413" r="1.5" fill="#8a8e95" fill-opacity="0.8"/>
<g transform="translate(1114.5 265.5) rotate(27)">
<rect x="-26" y="-12" width="52" height="24" rx="12" fill="none" stroke="#8a8e95" stroke-width="1.6"/>
<rect x="-22" y="-8" width="44" height="16" rx="8" fill="#9a4a22" fill-opacity="0.55" stroke="#e8723a" stroke-width="2.2"/>
<path d="M-18 0 L-17 -5.5 L-12.8 5.5 L-8.6 -5.5 L-4.4 5.5 L-0.2 -5.5 L4 5.5 L8.2 -5.5 L12.4 5.5 L16.6 -5.5 " fill="none" stroke="#1a1a1e" stroke-width="2.6" stroke-linejoin="round"/>
</g>
<g transform="translate(1086 512.5) rotate(-18)">
<rect x="-26" y="-12" width="52" height="24" rx="12" fill="none" stroke="#8a8e95" stroke-width="1.6"/>
<rect x="-22" y="-8" width="44" height="16" rx="8" fill="#9a4a22" fill-opacity="0.55" stroke="#e8723a" stroke-width="2.2"/>
<path d="M-18 0 L-17 -5.5 L-12.8 5.5 L-8.6 -5.5 L-4.4 5.5 L-0.2 -5.5 L4 5.5 L8.2 -5.5 L12.4 5.5 L16.6 -5.5 " fill="none" stroke="#1a1a1e" stroke-width="2.6" stroke-linejoin="round"/>
</g>
<path d="M896.5 361.8 L932 383.3 L896.5 404.8 Z" fill="none" stroke="#0c0d10" stroke-opacity="0.8" stroke-width="2" stroke-linejoin="miter"/><path d="M857 374.6 H896.5 V361.8 L932 383.3 L896.5 404.8 V392.1 H857 Z" fill="url(#gArrowFade)"/>
<circle cx="971.9" cy="368.4" r="5" fill="#ea6f33"/>
<circle cx="993.5" cy="368.4" r="5" fill="#f5f5f5"/>
<circle cx="960" cy="382.8" r="5" fill="#ea6f33"/>
<circle cx="983" cy="382.8" r="5" fill="#ea6f33"/>
<circle cx="972" cy="399.6" r="5" fill="#f5f5f5"/>
<circle cx="993.5" cy="396.4" r="5" fill="#ea6f33"/>
<ellipse cx="1098" cy="385" rx="100" ry="95" fill="url(#gRibo)"/>
<path d="M1062 395 C1068 394 1070 390 1070.5 380 L1071 366 C1072 358 1076 357 1079.75 357 C1084 357 1088 359 1088.5 366 L1090 372 L1107 372 L1108 366 C1109 359 1113 357 1117 357 C1121 357 1125 359 1125.8 366 L1126 380 C1126.5 390 1128 394 1134 395 Z" fill="#e8692a" fill-opacity="0.55" stroke="#f07a3a" stroke-width="1.6" stroke-opacity="0.8"/>
<path d="M1072 397 L1072 402 C1073 406 1086 406 1087 402 L1088 397 Z M1107 397 L1107 402 C1108 406 1121 406 1123 402 L1124 397 Z" fill="#e8692a" fill-opacity="0.6"/>
<path d="M1036 398.5 Q1060 394 1098 394.5 Q1138 394 1159.5 399.5" fill="none" stroke="#e8723a" stroke-width="2.6" stroke-linecap="round" stroke-linejoin="round"/>
<path d="M1088.5 333.5 C1080 338 1077 345 1074 352 C1071 358 1062 362 1054.75 366.9 C1046 372 1044 382 1046 388 C1048 394 1052 396 1056 396.5 L1070.4 397 M1126.6 396.6 L1136 396 C1142 395 1148 390 1151 380 C1154 366 1150 350 1140 340 C1130 330 1116 326 1101.6 328.6 L1095 330.5" fill="none" stroke="#f5f5f5" stroke-width="2.6" stroke-linecap="round" stroke-linejoin="round"/>
<path d="M1070.4 397.5 C1072 404 1074 405.5 1079 405.5 C1085 405.5 1087 403 1088 398 L1107 398 C1108 403 1111 406 1115 406 C1120 406 1123 404 1124.5 397.5 L1140 397 C1146 398 1149 404 1147.5 411 C1146 420 1138 425 1128 427 C1118 429 1108 424 1098.5 424.5 C1088 425 1078 430 1066 428 C1054 426 1048 418 1048.5 408 C1049 401 1052 397.5 1056 397.5 Z" fill="none" stroke="#f5f5f5" stroke-width="2.6" stroke-linecap="round" stroke-linejoin="round"/>
<path d="M1056 397.5 L1070.4 397.5 M1124.5 397.5 L1140 397" fill="none" stroke="#f5f5f5" stroke-width="2.6" stroke-linecap="round" stroke-linejoin="round"/>
<circle cx="1073" cy="284.3" r="5" fill="#f5f5f5" stroke="#15171b" stroke-width="1.4"/>
<circle cx="1062.5" cy="289.5" r="5" fill="#ea6f33" stroke="#15171b" stroke-width="1.4"/>
<circle cx="1054.7" cy="296" r="5" fill="#ea6f33" stroke="#15171b" stroke-width="1.4"/>
<circle cx="1048.2" cy="306.4" r="5" fill="#f5f5f5" stroke="#15171b" stroke-width="1.4"/>
<circle cx="1049.5" cy="318" r="5" fill="#ea6f33" stroke="#15171b" stroke-width="1.4"/>
<circle cx="1056.3" cy="325.5" r="5" fill="#f5f5f5" stroke="#15171b" stroke-width="1.4"/>
<circle cx="1067.2" cy="327" r="5" fill="#ea6f33" stroke="#15171b" stroke-width="1.4"/>
<circle cx="1078.2" cy="325.5" r="5" fill="#ea6f33" stroke="#15171b" stroke-width="1.4"/>
<circle cx="1088.3" cy="329.4" r="5" fill="#ea6f33" stroke="#15171b" stroke-width="1.4"/>
<circle cx="1096.2" cy="337.2" r="5" fill="#f5f5f5" stroke="#15171b" stroke-width="1.4"/>
<circle cx="1098.5" cy="348" r="5" fill="#ea6f33" stroke="#15171b" stroke-width="1.4"/>
<circle cx="1098.5" cy="359" r="5" fill="#f5f5f5" stroke="#15171b" stroke-width="1.4"/>
<circle cx="1097.7" cy="370" r="5" fill="#ea6f33" stroke="#15171b" stroke-width="1.4"/>
<circle cx="1098.5" cy="381.5" r="16" fill="url(#gCore)"/>
<path d="M1021.5 374.3 L1036 383.3 L1021.5 392.3 Z" fill="none" stroke="#0c0d10" stroke-opacity="0.8" stroke-width="2" stroke-linejoin="miter"/><path d="M997 380.3 H1021.5 V374.3 L1036 383.3 L1021.5 392.3 V386.3 H997 Z" fill="url(#gArrowFade)"/>
<path d="M1218 373.8 L1231 383.3 L1218 392.8 Z" fill="none" stroke="#0c0d10" stroke-opacity="0.8" stroke-width="2" stroke-linejoin="miter"/><path d="M1162 379.8 H1218 V373.8 L1231 383.3 L1218 392.8 V386.8 H1162 Z" fill="url(#gArrowFade)"/>
<circle cx="1273.1" cy="328.8" r="4.9" fill="#f5f5f5" stroke="#181b21" stroke-width="0.8"/>
<circle cx="1263" cy="332.7" r="4.9" fill="#ea6f33" stroke="#181b21" stroke-width="0.8"/>
<circle cx="1282.5" cy="335" r="4.9" fill="#f5f5f5" stroke="#181b21" stroke-width="0.8"/>
<circle cx="1259" cy="342" r="4.9" fill="#f5f5f5" stroke="#181b21" stroke-width="0.8"/>
<circle cx="1246.6" cy="346.2" r="4.9" fill="#ea6f33" stroke="#181b21" stroke-width="0.8"/>
<circle cx="1281.7" cy="345.6" r="4.9" fill="#ea6f33" stroke="#181b21" stroke-width="0.8"/>
<circle cx="1304.4" cy="343.6" r="4.9" fill="#ea6f33" stroke="#181b21" stroke-width="0.8"/>
<circle cx="1295" cy="348.3" r="4.9" fill="#ea6f33" stroke="#181b21" stroke-width="0.8"/>
<circle cx="1236.4" cy="350.3" r="4.9" fill="#f5f5f5" stroke="#181b21" stroke-width="0.8"/>
<circle cx="1256" cy="352.2" r="4.9" fill="#f5f5f5" stroke="#181b21" stroke-width="0.8"/>
<circle cx="1266" cy="351" r="4.9" fill="#ea6f33" stroke="#181b21" stroke-width="0.8"/>
<circle cx="1274.7" cy="354" r="4.9" fill="#f5f5f5" stroke="#181b21" stroke-width="0.8"/>
<circle cx="1312.2" cy="350.6" r="4.9" fill="#f5f5f5" stroke="#181b21" stroke-width="0.8"/>
<circle cx="1284" cy="359.7" r="4.9" fill="#f5f5f5" stroke="#181b21" stroke-width="0.8"/>
<circle cx="1235.6" cy="361.6" r="4.9" fill="#ea6f33" stroke="#181b21" stroke-width="0.8"/>
<circle cx="1255" cy="364" r="4.9" fill="#ea6f33" stroke="#181b21" stroke-width="0.8"/>
<circle cx="1268.4" cy="362.3" r="4.9" fill="#ea6f33" stroke="#181b21" stroke-width="0.8"/>
<circle cx="1293.4" cy="364" r="4.9" fill="#f5f5f5" stroke="#181b21" stroke-width="0.8"/>
<circle cx="1309" cy="361.6" r="4.9" fill="#ea6f33" stroke="#181b21" stroke-width="0.8"/>
<circle cx="1242.7" cy="369" r="4.9" fill="#f5f5f5" stroke="#181b21" stroke-width="0.8"/>
<circle cx="1262.2" cy="370" r="4.9" fill="#f5f5f5" stroke="#181b21" stroke-width="0.8"/>
<circle cx="1302" cy="368.6" r="4.9" fill="#f5f5f5" stroke="#181b21" stroke-width="0.8"/>
<circle cx="1291" cy="371.7" r="4.9" fill="#ea6f33" stroke="#181b21" stroke-width="0.8"/>
<circle cx="1252" cy="374.8" r="4.9" fill="#ea6f33" stroke="#181b21" stroke-width="0.8"/>
<circle cx="1311.4" cy="373.3" r="4.9" fill="#f5f5f5" stroke="#181b21" stroke-width="0.8"/>
<circle cx="1261.4" cy="380.6" r="4.9" fill="#ea6f33" stroke="#181b21" stroke-width="0.8"/>
<circle cx="1293.4" cy="380.3" r="4.9" fill="#ea6f33" stroke="#181b21" stroke-width="0.8"/>
<circle cx="1285.6" cy="383.4" r="4.9" fill="#f5f5f5" stroke="#181b21" stroke-width="0.8"/>
<circle cx="1320" cy="380.3" r="4.9" fill="#ea6f33" stroke="#181b21" stroke-width="0.8"/>
<circle cx="1270" cy="386.6" r="4.9" fill="#f5f5f5" stroke="#181b21" stroke-width="0.8"/>
<circle cx="1252.8" cy="384.2" r="4.9" fill="#f5f5f5" stroke="#181b21" stroke-width="0.8"/>
<circle cx="1247.3" cy="392" r="4.9" fill="#f5f5f5" stroke="#181b21" stroke-width="0.8"/>
<circle cx="1258.3" cy="392.8" r="4.9" fill="#f5f5f5" stroke="#181b21" stroke-width="0.8"/>
<circle cx="1278.6" cy="390.5" r="4.9" fill="#ea6f33" stroke="#181b21" stroke-width="0.8"/>
<circle cx="1298" cy="389.7" r="4.9" fill="#ea6f33" stroke="#181b21" stroke-width="0.8"/>
<circle cx="1288" cy="395.2" r="4.9" fill="#f5f5f5" stroke="#181b21" stroke-width="0.8"/>
<circle cx="1320" cy="391.2" r="4.9" fill="#f5f5f5" stroke="#181b21" stroke-width="0.8"/>
<circle cx="1270" cy="397.5" r="4.9" fill="#f5f5f5" stroke="#181b21" stroke-width="0.8"/>
<circle cx="1241.9" cy="401.4" r="4.9" fill="#ea6f33" stroke="#181b21" stroke-width="0.8"/>
<circle cx="1260.6" cy="403" r="4.9" fill="#ea6f33" stroke="#181b21" stroke-width="0.8"/>
<circle cx="1301.2" cy="400.6" r="4.9" fill="#ea6f33" stroke="#181b21" stroke-width="0.8"/>
<circle cx="1311.4" cy="397.5" r="4.9" fill="#f5f5f5" stroke="#181b21" stroke-width="0.8"/>
<circle cx="1250.5" cy="406" r="4.9" fill="#f5f5f5" stroke="#181b21" stroke-width="0.8"/>
<circle cx="1280" cy="403.8" r="4.9" fill="#f5f5f5" stroke="#181b21" stroke-width="0.8"/>
<circle cx="1262.2" cy="409.2" r="4.9" fill="#ea6f33" stroke="#181b21" stroke-width="0.8"/>
<circle cx="1285.6" cy="412.3" r="4.9" fill="#f5f5f5" stroke="#181b21" stroke-width="0.8"/>
<circle cx="1302.8" cy="411.6" r="4.9" fill="#ea6f33" stroke="#181b21" stroke-width="0.8"/>
<circle cx="1264.5" cy="417.8" r="4.9" fill="#ea6f33" stroke="#181b21" stroke-width="0.8"/>
<circle cx="1272.3" cy="424" r="4.9" fill="#f5f5f5" stroke="#181b21" stroke-width="0.8"/>
<circle cx="1282.5" cy="422.5" r="4.9" fill="#ea6f33" stroke="#181b21" stroke-width="0.8"/>
<text x="65.7" y="488.8" font-family="&quot;Liberation Sans&quot;, sans-serif" font-weight="bold" font-size="20.87" fill="#f5f5f5" stroke="#f5f5f5" stroke-width="0.45" textLength="79.3" lengthAdjust="spacingAndGlyphs">PROTEIN</text>
<text x="81" y="510.6" font-family="&quot;Liberation Sans&quot;, sans-serif" font-weight="bold" font-size="20.29" fill="#f5f5f5" stroke="#f5f5f5" stroke-width="0.45" textLength="48.8" lengthAdjust="spacingAndGlyphs">FOOD</text>
<text x="230.4" y="361.8" font-family="&quot;Liberation Sans&quot;, sans-serif" font-weight="bold" font-size="19.71" fill="#f5f5f5" stroke="#f5f5f5" stroke-width="0.45" textLength="67.2" lengthAdjust="spacingAndGlyphs">PEPSIN</text>
<text x="266.4" y="514.4" font-family="&quot;Liberation Sans&quot;, sans-serif" font-weight="bold" font-size="20.00" fill="#f5f5f5" stroke="#f5f5f5" stroke-width="0.45" textLength="90.4" lengthAdjust="spacingAndGlyphs">STOMACH</text>
<text x="470.5" y="164.7" font-family="&quot;Liberation Sans&quot;, sans-serif" font-weight="bold" font-size="20.00" fill="#f5f5f5" stroke="#f5f5f5" stroke-width="0.45" textLength="166.8" lengthAdjust="spacingAndGlyphs">SMALL INTESTINE</text>
<text x="453" y="258.7" font-family="&quot;Liberation Sans&quot;, sans-serif" font-weight="bold" font-size="20.29" fill="#f5f5f5" stroke="#f5f5f5" stroke-width="0.45" textLength="62" lengthAdjust="spacingAndGlyphs">AMINO</text>
<text x="456" y="278.9" font-family="&quot;Liberation Sans&quot;, sans-serif" font-weight="bold" font-size="20.29" fill="#f5f5f5" stroke="#f5f5f5" stroke-width="0.45" textLength="56.3" lengthAdjust="spacingAndGlyphs">ACIDS</text>
<text x="499.3" y="516.5" font-family="&quot;Liberation Sans&quot;, sans-serif" font-weight="bold" font-size="21.01" fill="#f5f5f5" stroke="#f5f5f5" stroke-width="0.45" textLength="63.7" lengthAdjust="spacingAndGlyphs">SMALL</text>
<text x="482.8" y="537.7" font-family="&quot;Liberation Sans&quot;, sans-serif" font-weight="bold" font-size="20.58" fill="#f5f5f5" stroke="#f5f5f5" stroke-width="0.45" textLength="96.9" lengthAdjust="spacingAndGlyphs">INTESTINE</text>
<text x="656" y="251" font-family="&quot;Liberation Sans&quot;, sans-serif" font-weight="bold" font-size="21.59" fill="#e8743a" stroke="#e8743a" stroke-width="0.45" textLength="78.9" lengthAdjust="spacingAndGlyphs">LEUCINE</text>
<text x="639.4" y="272.5" font-family="&quot;Liberation Sans&quot;, sans-serif" font-weight="bold" font-size="20.58" fill="#e8743a" stroke="#e8743a" stroke-width="0.45" textLength="111.5" lengthAdjust="spacingAndGlyphs">THRESHOLD</text>
<text x="648" y="290.5" font-family="&quot;Liberation Sans&quot;, sans-serif" font-weight="normal" font-size="15.22" fill="#dcdcdc" stroke="none" stroke-width="0.45" textLength="94.9" lengthAdjust="spacingAndGlyphs">~2-3g Leucine</text>
<text x="760.7" y="164.9" font-family="&quot;Liberation Sans&quot;, sans-serif" font-weight="bold" font-size="20.14" fill="#f5f5f5" stroke="#f5f5f5" stroke-width="0.45" textLength="139.6" lengthAdjust="spacingAndGlyphs">BLOODSTREAM</text>
<text x="1097.4" y="165" font-family="&quot;Liberation Sans&quot;, sans-serif" font-weight="bold" font-size="21.01" fill="#f5f5f5" stroke="#f5f5f5" stroke-width="0.45" textLength="127.9" lengthAdjust="spacingAndGlyphs">MUSCLE CELL</text>
<text x="1049.5" y="459.4" font-family="&quot;Liberation Sans&quot;, sans-serif" font-weight="bold" font-size="17.97" fill="#f5f5f5" stroke="#f5f5f5" stroke-width="0.45" textLength="96.3" lengthAdjust="spacingAndGlyphs">RIBOSOME</text>
<text x="1239.5" y="458.3" font-family="&quot;Liberation Sans&quot;, sans-serif" font-weight="bold" font-size="20.72" fill="#f5f5f5" stroke="#f5f5f5" stroke-width="0.45" textLength="75.5" lengthAdjust="spacingAndGlyphs">MUSCLE</text>
<text x="1236.5" y="479.4" font-family="&quot;Liberation Sans&quot;, sans-serif" font-weight="bold" font-size="19.42" fill="#f5f5f5" stroke="#f5f5f5" stroke-width="0.45" textLength="80.3" lengthAdjust="spacingAndGlyphs">PROTEIN</text>
<g stroke="#f0f0f0" stroke-width="1.6">
<line x1="553.8" y1="173" x2="553.8" y2="279"/>
<line x1="830.5" y1="173.4" x2="830.5" y2="219.8"/>
<line x1="1161.4" y1="173" x2="1161.4" y2="211.5"/>
<line x1="487" y1="287" x2="507" y2="313"/>
</g>
</svg></body></html>
